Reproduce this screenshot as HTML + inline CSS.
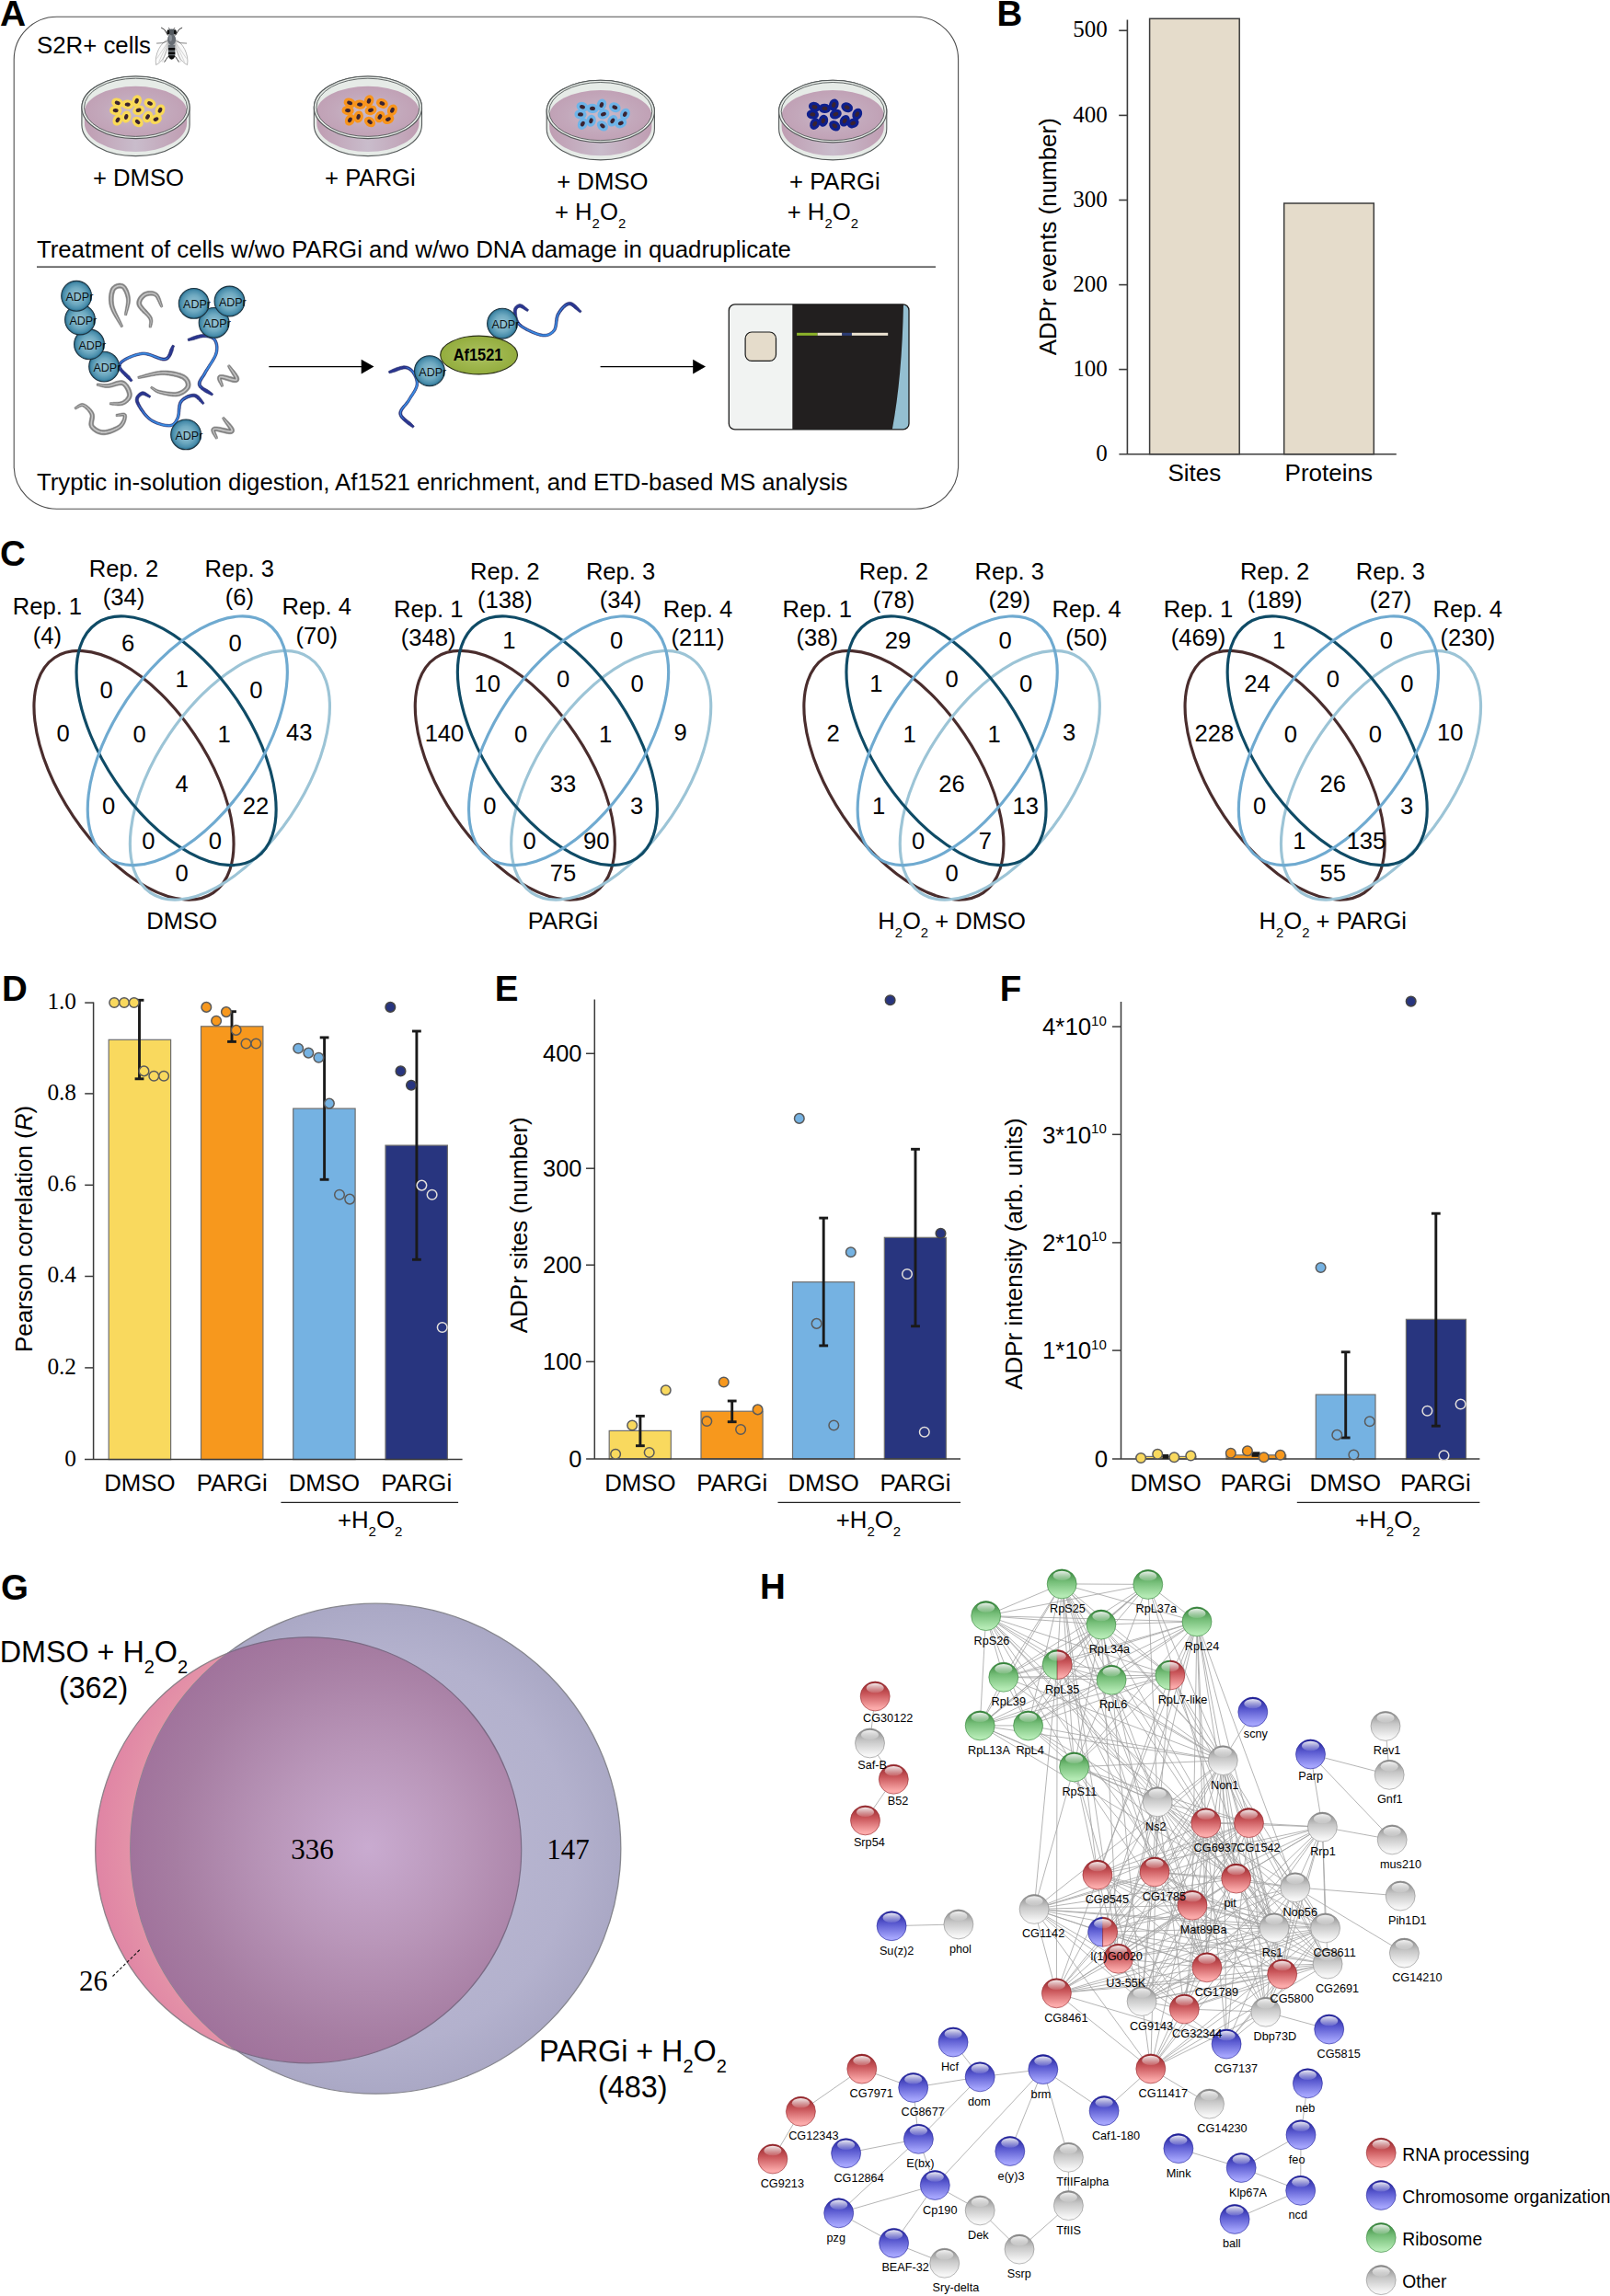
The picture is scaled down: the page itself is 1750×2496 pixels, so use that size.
<!DOCTYPE html>
<html><head><meta charset="utf-8"><title>Figure</title>
<style>
html,body{margin:0;padding:0;background:#fff}
svg{display:block}
text{font-family:'Liberation Sans', Arial, sans-serif;fill:#000}
text.sf{font-family:'Liberation Serif', 'Times New Roman', serif}
</style></head>
<body>
<svg width="1750" height="2496" viewBox="0 0 1750 2496">
<defs>
<radialGradient id="medTop" cx="0.5" cy="0.5" r="0.6"><stop offset="0" stop-color="#c9bccb"/><stop offset="0.55" stop-color="#c3a8bb"/><stop offset="1" stop-color="#bf9db2"/></radialGradient>
<linearGradient id="medSide" x1="0" x2="1" y1="0" y2="0"><stop offset="0" stop-color="#bf9db2"/><stop offset="0.5" stop-color="#c9bccb"/><stop offset="1" stop-color="#bf9db2"/></linearGradient>
<radialGradient id="adprG" cx="0.5" cy="0.5" r="0.5"><stop offset="0" stop-color="#97c3d4"/><stop offset="0.55" stop-color="#6faac1"/><stop offset="0.85" stop-color="#4a8eac"/><stop offset="1" stop-color="#246c8c"/></radialGradient>
<radialGradient id="afG" cx="0.5" cy="0.5" r="0.6"><stop offset="0" stop-color="#adc362"/><stop offset="1" stop-color="#8ea836"/></radialGradient>

<radialGradient id="gPink" gradientUnits="userSpaceOnUse" cx="408" cy="2008" r="310"><stop offset="0.55" stop-color="#e8a8ae"/><stop offset="0.85" stop-color="#e493a8"/><stop offset="1" stop-color="#df82a4"/></radialGradient>
<radialGradient id="gLav" gradientUnits="userSpaceOnUse" cx="408.3" cy="2009.7" r="266.5"><stop offset="0" stop-color="#bdbbd4"/><stop offset="0.8" stop-color="#b3b1cd"/><stop offset="1" stop-color="#aaa8c5"/></radialGradient>
<radialGradient id="gOv" gradientUnits="userSpaceOnUse" cx="400" cy="2008" r="300"><stop offset="0" stop-color="#c9abd0"/><stop offset="0.35" stop-color="#b996b9"/><stop offset="0.7" stop-color="#a67da2"/><stop offset="1" stop-color="#9c6b97"/></radialGradient>
<linearGradient id="nr" x1="0" y1="0" x2="0" y2="1"><stop offset="0" stop-color="#8f2227"/><stop offset="0.42" stop-color="#c9565a"/><stop offset="0.9" stop-color="#fbaaaa"/></linearGradient><linearGradient id="ng" x1="0" y1="0" x2="0" y2="1"><stop offset="0" stop-color="#2f7d34"/><stop offset="0.42" stop-color="#74bd77"/><stop offset="0.9" stop-color="#b4eab4"/></linearGradient><linearGradient id="nb" x1="0" y1="0" x2="0" y2="1"><stop offset="0" stop-color="#1d1d94"/><stop offset="0.42" stop-color="#5a5ad0"/><stop offset="0.9" stop-color="#a4a4fc"/></linearGradient><linearGradient id="nw" x1="0" y1="0" x2="0" y2="1"><stop offset="0" stop-color="#848484"/><stop offset="0.42" stop-color="#c6c6c6"/><stop offset="0.9" stop-color="#f6f6f6"/></linearGradient>
<linearGradient id="nhl" x1="0" y1="0" x2="0" y2="1"><stop offset="0" stop-color="#fff" stop-opacity="0.9"/><stop offset="1" stop-color="#fff" stop-opacity="0.12"/></linearGradient>
</defs>
<rect width="1750" height="2496" fill="#fff"/>
<text x="0.0" y="28.0" font-size="39" font-weight="bold">A</text>
<rect x="15.2" y="18.2" width="1026.4" height="535.0" fill="none" stroke="#4d4d4d" stroke-width="1.1" rx="46.5"/>
<text x="40.0" y="57.8" font-size="25.8">S2R+ cells</text>
<path d="M183.6,42.5 C174.6,45.5 167.6,59.5 169.6,70.5 C176.6,67.5 182.6,57.5 183.6,42.5 Z" fill="#fafafa" stroke="#777" stroke-width="0.5"/>
<path d="M189.6,42.5 C198.6,45.5 205.6,59.5 203.6,70.5 C196.6,67.5 190.6,57.5 189.6,42.5 Z" fill="#fafafa" stroke="#777" stroke-width="0.5"/>
<path d="M183.6,43.5 L172.6,67.5 M183.6,43.5 L176.6,67.5 M182.6,45.5 L170.6,63.5" stroke="#999" stroke-width="0.4" fill="none"/>
<path d="M189.6,43.5 L200.6,67.5 M189.6,43.5 L196.6,67.5 M190.6,45.5 L202.6,63.5" stroke="#999" stroke-width="0.4" fill="none"/>
<path d="M182.6,38.5 L178.6,32.0 L175.1,30.0" stroke="#222" stroke-width="0.9" fill="none"/>
<path d="M182.6,44.5 L177.1,46.7 L170.1,47.1" stroke="#333" stroke-width="0.6" fill="none"/>
<path d="M182.6,61.5 L180.6,64.5 L178.6,67.5" stroke="#222" stroke-width="0.9" fill="none"/>
<path d="M185.1,32.5 L183.1,30.0" stroke="#222" stroke-width="0.7" fill="none"/>
<path d="M190.6,38.5 L194.6,32.0 L198.1,30.0" stroke="#222" stroke-width="0.9" fill="none"/>
<path d="M190.6,44.5 L196.1,46.7 L203.1,47.1" stroke="#333" stroke-width="0.6" fill="none"/>
<path d="M190.6,61.5 L192.6,64.5 L194.6,67.5" stroke="#222" stroke-width="0.9" fill="none"/>
<path d="M188.1,32.5 L190.1,30.0" stroke="#222" stroke-width="0.7" fill="none"/>
<path d="M183.0,48.5 L190.2,48.5 L190.4,59.5 Q189.1,62.5 186.6,64.0 Q184.1,62.5 182.79999999999998,59.5 Z" fill="#6e747a"/>
<rect x="182.9" y="52.0" width="7.4" height="2.6" fill="#0a0a0a"/>
<rect x="182.9" y="56.5" width="7.4" height="2.6" fill="#0a0a0a"/>
<rect x="182.9" y="60.3" width="7.4" height="1.6" fill="#0a0a0a"/>
<path d="M182.9,61.5 Q186.6,68.0 190.29999999999998,61.5 Z" fill="#0a0a0a"/>
<ellipse cx="186.6" cy="43.0" rx="4.4" ry="6.2" fill="#666c73"/>
<ellipse cx="185.4" cy="41.5" rx="1.6" ry="3.4" fill="#9aa0a6" opacity="0.7"/>
<ellipse cx="186.6" cy="34.7" rx="4.8" ry="3.2" fill="#555b61"/>
<ellipse cx="182.79999999999998" cy="34.9" rx="1.5" ry="2.6" fill="#111"/>
<ellipse cx="190.4" cy="34.9" rx="1.5" ry="2.6" fill="#111"/>
<path d="M88.9,116.8 A58.6,33.8 0 0 1 206.1,116.8 L206.1,135.8 A58.6,33.8 0 0 1 88.9,135.8 Z" fill="#e6ebe7" stroke="#555a5a" stroke-width="1.1"/>
<path d="M91.9,121.3 L91.9,133.8 A55.6,31.2 0 0 0 203.1,133.8 L203.1,121.3 Z" fill="url(#medSide)"/>
<ellipse cx="147.5" cy="116.8" rx="58.6" ry="33.8" fill="#e6ebe7" stroke="#555a5a" stroke-width="1.1"/>
<clipPath id="dc1"><ellipse cx="147.5" cy="116.8" rx="56.0" ry="31.599999999999998"/></clipPath>
<ellipse cx="147.5" cy="121.4" rx="55.6" ry="27.6" fill="url(#medTop)" clip-path="url(#dc1)"/>
<ellipse cx="147.5" cy="116.8" rx="56.0" ry="31.599999999999998" fill="none" stroke="#555a5a" stroke-width="0.9"/>
<ellipse cx="127.7" cy="111.9" rx="6.6" ry="5.2" transform="rotate(20 127.7 111.9)" fill="#f9d957"/>
<ellipse cx="138.7" cy="113.6" rx="6.6" ry="5.2" transform="rotate(5 138.7 113.6)" fill="#f9d957"/>
<ellipse cx="148.6" cy="109.7" rx="6.6" ry="5.2" transform="rotate(-70 148.6 109.7)" fill="#f9d957"/>
<ellipse cx="163.0" cy="112.4" rx="6.6" ry="5.2" transform="rotate(25 163.0 112.4)" fill="#f9d957"/>
<ellipse cx="125.7" cy="120.1" rx="6.6" ry="5.2" transform="rotate(5 125.7 120.1)" fill="#f9d957"/>
<ellipse cx="150.6" cy="119.8" rx="6.6" ry="5.2" transform="rotate(-20 150.6 119.8)" fill="#f9d957"/>
<ellipse cx="174.0" cy="119.8" rx="6.6" ry="5.2" transform="rotate(-65 174.0 119.8)" fill="#f9d957"/>
<ellipse cx="137.2" cy="127.0" rx="6.6" ry="5.2" transform="rotate(-75 137.2 127.0)" fill="#f9d957"/>
<ellipse cx="160.5" cy="127.0" rx="6.6" ry="5.2" transform="rotate(-60 160.5 127.0)" fill="#f9d957"/>
<ellipse cx="169.5" cy="129.6" rx="6.6" ry="5.2" transform="rotate(-25 169.5 129.6)" fill="#f9d957"/>
<ellipse cx="128.0" cy="130.3" rx="6.6" ry="5.2" transform="rotate(-60 128.0 130.3)" fill="#f9d957"/>
<ellipse cx="149.6" cy="132.5" rx="6.6" ry="5.2" transform="rotate(40 149.6 132.5)" fill="#f9d957"/>
<ellipse cx="127.7" cy="111.9" rx="3.0" ry="2.1" transform="rotate(20 127.7 111.9)" fill="#3a2330"/>
<ellipse cx="138.7" cy="113.6" rx="3.0" ry="2.1" transform="rotate(5 138.7 113.6)" fill="#3a2330"/>
<ellipse cx="148.6" cy="109.7" rx="3.0" ry="2.1" transform="rotate(-70 148.6 109.7)" fill="#3a2330"/>
<ellipse cx="163.0" cy="112.4" rx="3.0" ry="2.1" transform="rotate(25 163.0 112.4)" fill="#3a2330"/>
<ellipse cx="125.7" cy="120.1" rx="3.0" ry="2.1" transform="rotate(5 125.7 120.1)" fill="#3a2330"/>
<ellipse cx="150.6" cy="119.8" rx="3.0" ry="2.1" transform="rotate(-20 150.6 119.8)" fill="#3a2330"/>
<ellipse cx="174.0" cy="119.8" rx="3.0" ry="2.1" transform="rotate(-65 174.0 119.8)" fill="#3a2330"/>
<ellipse cx="137.2" cy="127.0" rx="3.0" ry="2.1" transform="rotate(-75 137.2 127.0)" fill="#3a2330"/>
<ellipse cx="160.5" cy="127.0" rx="3.0" ry="2.1" transform="rotate(-60 160.5 127.0)" fill="#3a2330"/>
<ellipse cx="169.5" cy="129.6" rx="3.0" ry="2.1" transform="rotate(-25 169.5 129.6)" fill="#3a2330"/>
<ellipse cx="128.0" cy="130.3" rx="3.0" ry="2.1" transform="rotate(-60 128.0 130.3)" fill="#3a2330"/>
<ellipse cx="149.6" cy="132.5" rx="3.0" ry="2.1" transform="rotate(40 149.6 132.5)" fill="#3a2330"/>
<path d="M341.3,116.8 A58.6,33.8 0 0 1 458.5,116.8 L458.5,135.8 A58.6,33.8 0 0 1 341.3,135.8 Z" fill="#e6ebe7" stroke="#555a5a" stroke-width="1.1"/>
<path d="M344.3,121.3 L344.3,133.8 A55.6,31.2 0 0 0 455.5,133.8 L455.5,121.3 Z" fill="url(#medSide)"/>
<ellipse cx="399.9" cy="116.8" rx="58.6" ry="33.8" fill="#e6ebe7" stroke="#555a5a" stroke-width="1.1"/>
<clipPath id="dc2"><ellipse cx="399.9" cy="116.8" rx="56.0" ry="31.599999999999998"/></clipPath>
<ellipse cx="399.9" cy="121.4" rx="55.6" ry="27.6" fill="url(#medTop)" clip-path="url(#dc2)"/>
<ellipse cx="399.9" cy="116.8" rx="56.0" ry="31.599999999999998" fill="none" stroke="#555a5a" stroke-width="0.9"/>
<ellipse cx="380.1" cy="111.9" rx="6.6" ry="5.2" transform="rotate(20 380.1 111.9)" fill="#f7941d"/>
<ellipse cx="391.1" cy="113.6" rx="6.6" ry="5.2" transform="rotate(5 391.1 113.6)" fill="#f7941d"/>
<ellipse cx="401.0" cy="109.7" rx="6.6" ry="5.2" transform="rotate(-70 401.0 109.7)" fill="#f7941d"/>
<ellipse cx="415.4" cy="112.4" rx="6.6" ry="5.2" transform="rotate(25 415.4 112.4)" fill="#f7941d"/>
<ellipse cx="378.1" cy="120.1" rx="6.6" ry="5.2" transform="rotate(5 378.1 120.1)" fill="#f7941d"/>
<ellipse cx="403.0" cy="119.8" rx="6.6" ry="5.2" transform="rotate(-20 403.0 119.8)" fill="#f7941d"/>
<ellipse cx="426.4" cy="119.8" rx="6.6" ry="5.2" transform="rotate(-65 426.4 119.8)" fill="#f7941d"/>
<ellipse cx="389.6" cy="127.0" rx="6.6" ry="5.2" transform="rotate(-75 389.6 127.0)" fill="#f7941d"/>
<ellipse cx="412.9" cy="127.0" rx="6.6" ry="5.2" transform="rotate(-60 412.9 127.0)" fill="#f7941d"/>
<ellipse cx="421.9" cy="129.6" rx="6.6" ry="5.2" transform="rotate(-25 421.9 129.6)" fill="#f7941d"/>
<ellipse cx="380.4" cy="130.3" rx="6.6" ry="5.2" transform="rotate(-60 380.4 130.3)" fill="#f7941d"/>
<ellipse cx="402.0" cy="132.5" rx="6.6" ry="5.2" transform="rotate(40 402.0 132.5)" fill="#f7941d"/>
<ellipse cx="380.1" cy="111.9" rx="3.0" ry="2.1" transform="rotate(20 380.1 111.9)" fill="#3a2330"/>
<ellipse cx="391.1" cy="113.6" rx="3.0" ry="2.1" transform="rotate(5 391.1 113.6)" fill="#3a2330"/>
<ellipse cx="401.0" cy="109.7" rx="3.0" ry="2.1" transform="rotate(-70 401.0 109.7)" fill="#3a2330"/>
<ellipse cx="415.4" cy="112.4" rx="3.0" ry="2.1" transform="rotate(25 415.4 112.4)" fill="#3a2330"/>
<ellipse cx="378.1" cy="120.1" rx="3.0" ry="2.1" transform="rotate(5 378.1 120.1)" fill="#3a2330"/>
<ellipse cx="403.0" cy="119.8" rx="3.0" ry="2.1" transform="rotate(-20 403.0 119.8)" fill="#3a2330"/>
<ellipse cx="426.4" cy="119.8" rx="3.0" ry="2.1" transform="rotate(-65 426.4 119.8)" fill="#3a2330"/>
<ellipse cx="389.6" cy="127.0" rx="3.0" ry="2.1" transform="rotate(-75 389.6 127.0)" fill="#3a2330"/>
<ellipse cx="412.9" cy="127.0" rx="3.0" ry="2.1" transform="rotate(-60 412.9 127.0)" fill="#3a2330"/>
<ellipse cx="421.9" cy="129.6" rx="3.0" ry="2.1" transform="rotate(-25 421.9 129.6)" fill="#3a2330"/>
<ellipse cx="380.4" cy="130.3" rx="3.0" ry="2.1" transform="rotate(-60 380.4 130.3)" fill="#3a2330"/>
<ellipse cx="402.0" cy="132.5" rx="3.0" ry="2.1" transform="rotate(40 402.0 132.5)" fill="#3a2330"/>
<path d="M594.2,121.1 A58.6,33.8 0 0 1 711.4,121.1 L711.4,140.1 A58.6,33.8 0 0 1 594.2,140.1 Z" fill="#e6ebe7" stroke="#555a5a" stroke-width="1.1"/>
<path d="M597.2,125.6 L597.2,138.1 A55.6,31.2 0 0 0 708.4,138.1 L708.4,125.6 Z" fill="url(#medSide)"/>
<ellipse cx="652.8" cy="121.1" rx="58.6" ry="33.8" fill="#e6ebe7" stroke="#555a5a" stroke-width="1.1"/>
<clipPath id="dc3"><ellipse cx="652.8" cy="121.1" rx="56.0" ry="31.599999999999998"/></clipPath>
<ellipse cx="652.8" cy="125.7" rx="55.6" ry="27.6" fill="url(#medTop)" clip-path="url(#dc3)"/>
<ellipse cx="652.8" cy="121.1" rx="56.0" ry="31.599999999999998" fill="none" stroke="#555a5a" stroke-width="0.9"/>
<ellipse cx="633.0" cy="116.2" rx="6.6" ry="5.2" transform="rotate(20 633.0 116.2)" fill="#6eb4e8"/>
<ellipse cx="644.0" cy="117.9" rx="6.6" ry="5.2" transform="rotate(5 644.0 117.9)" fill="#6eb4e8"/>
<ellipse cx="653.9" cy="114.0" rx="6.6" ry="5.2" transform="rotate(-70 653.9 114.0)" fill="#6eb4e8"/>
<ellipse cx="668.3" cy="116.7" rx="6.6" ry="5.2" transform="rotate(25 668.3 116.7)" fill="#6eb4e8"/>
<ellipse cx="631.0" cy="124.4" rx="6.6" ry="5.2" transform="rotate(5 631.0 124.4)" fill="#6eb4e8"/>
<ellipse cx="655.9" cy="124.1" rx="6.6" ry="5.2" transform="rotate(-20 655.9 124.1)" fill="#6eb4e8"/>
<ellipse cx="679.3" cy="124.1" rx="6.6" ry="5.2" transform="rotate(-65 679.3 124.1)" fill="#6eb4e8"/>
<ellipse cx="642.5" cy="131.3" rx="6.6" ry="5.2" transform="rotate(-75 642.5 131.3)" fill="#6eb4e8"/>
<ellipse cx="665.8" cy="131.3" rx="6.6" ry="5.2" transform="rotate(-60 665.8 131.3)" fill="#6eb4e8"/>
<ellipse cx="674.8" cy="133.9" rx="6.6" ry="5.2" transform="rotate(-25 674.8 133.9)" fill="#6eb4e8"/>
<ellipse cx="633.3" cy="134.6" rx="6.6" ry="5.2" transform="rotate(-60 633.3 134.6)" fill="#6eb4e8"/>
<ellipse cx="654.9" cy="136.8" rx="6.6" ry="5.2" transform="rotate(40 654.9 136.8)" fill="#6eb4e8"/>
<ellipse cx="633.0" cy="116.2" rx="3.0" ry="2.1" transform="rotate(20 633.0 116.2)" fill="#3a2330"/>
<ellipse cx="644.0" cy="117.9" rx="3.0" ry="2.1" transform="rotate(5 644.0 117.9)" fill="#3a2330"/>
<ellipse cx="653.9" cy="114.0" rx="3.0" ry="2.1" transform="rotate(-70 653.9 114.0)" fill="#3a2330"/>
<ellipse cx="668.3" cy="116.7" rx="3.0" ry="2.1" transform="rotate(25 668.3 116.7)" fill="#3a2330"/>
<ellipse cx="631.0" cy="124.4" rx="3.0" ry="2.1" transform="rotate(5 631.0 124.4)" fill="#3a2330"/>
<ellipse cx="655.9" cy="124.1" rx="3.0" ry="2.1" transform="rotate(-20 655.9 124.1)" fill="#3a2330"/>
<ellipse cx="679.3" cy="124.1" rx="3.0" ry="2.1" transform="rotate(-65 679.3 124.1)" fill="#3a2330"/>
<ellipse cx="642.5" cy="131.3" rx="3.0" ry="2.1" transform="rotate(-75 642.5 131.3)" fill="#3a2330"/>
<ellipse cx="665.8" cy="131.3" rx="3.0" ry="2.1" transform="rotate(-60 665.8 131.3)" fill="#3a2330"/>
<ellipse cx="674.8" cy="133.9" rx="3.0" ry="2.1" transform="rotate(-25 674.8 133.9)" fill="#3a2330"/>
<ellipse cx="633.3" cy="134.6" rx="3.0" ry="2.1" transform="rotate(-60 633.3 134.6)" fill="#3a2330"/>
<ellipse cx="654.9" cy="136.8" rx="3.0" ry="2.1" transform="rotate(40 654.9 136.8)" fill="#3a2330"/>
<path d="M846.6,121.1 A58.6,33.8 0 0 1 963.8,121.1 L963.8,140.1 A58.6,33.8 0 0 1 846.6,140.1 Z" fill="#e6ebe7" stroke="#555a5a" stroke-width="1.1"/>
<path d="M849.6,125.6 L849.6,138.1 A55.6,31.2 0 0 0 960.8,138.1 L960.8,125.6 Z" fill="url(#medSide)"/>
<ellipse cx="905.2" cy="121.1" rx="58.6" ry="33.8" fill="#e6ebe7" stroke="#555a5a" stroke-width="1.1"/>
<clipPath id="dc4"><ellipse cx="905.2" cy="121.1" rx="56.0" ry="31.599999999999998"/></clipPath>
<ellipse cx="905.2" cy="125.7" rx="55.6" ry="27.6" fill="url(#medTop)" clip-path="url(#dc4)"/>
<ellipse cx="905.2" cy="121.1" rx="56.0" ry="31.599999999999998" fill="none" stroke="#555a5a" stroke-width="0.9"/>
<ellipse cx="885.4" cy="116.2" rx="6.6" ry="5.2" transform="rotate(20 885.4 116.2)" fill="#0e1f8c"/>
<ellipse cx="896.4" cy="117.9" rx="6.6" ry="5.2" transform="rotate(5 896.4 117.9)" fill="#0e1f8c"/>
<ellipse cx="906.3" cy="114.0" rx="6.6" ry="5.2" transform="rotate(-70 906.3 114.0)" fill="#0e1f8c"/>
<ellipse cx="920.7" cy="116.7" rx="6.6" ry="5.2" transform="rotate(25 920.7 116.7)" fill="#0e1f8c"/>
<ellipse cx="883.4" cy="124.4" rx="6.6" ry="5.2" transform="rotate(5 883.4 124.4)" fill="#0e1f8c"/>
<ellipse cx="908.3" cy="124.1" rx="6.6" ry="5.2" transform="rotate(-20 908.3 124.1)" fill="#0e1f8c"/>
<ellipse cx="931.7" cy="124.1" rx="6.6" ry="5.2" transform="rotate(-65 931.7 124.1)" fill="#0e1f8c"/>
<ellipse cx="894.9" cy="131.3" rx="6.6" ry="5.2" transform="rotate(-75 894.9 131.3)" fill="#0e1f8c"/>
<ellipse cx="918.2" cy="131.3" rx="6.6" ry="5.2" transform="rotate(-60 918.2 131.3)" fill="#0e1f8c"/>
<ellipse cx="927.2" cy="133.9" rx="6.6" ry="5.2" transform="rotate(-25 927.2 133.9)" fill="#0e1f8c"/>
<ellipse cx="885.7" cy="134.6" rx="6.6" ry="5.2" transform="rotate(-60 885.7 134.6)" fill="#0e1f8c"/>
<ellipse cx="907.3" cy="136.8" rx="6.6" ry="5.2" transform="rotate(40 907.3 136.8)" fill="#0e1f8c"/>
<ellipse cx="885.4" cy="116.2" rx="3.0" ry="2.1" transform="rotate(20 885.4 116.2)" fill="#3a2330"/>
<ellipse cx="896.4" cy="117.9" rx="3.0" ry="2.1" transform="rotate(5 896.4 117.9)" fill="#3a2330"/>
<ellipse cx="906.3" cy="114.0" rx="3.0" ry="2.1" transform="rotate(-70 906.3 114.0)" fill="#3a2330"/>
<ellipse cx="920.7" cy="116.7" rx="3.0" ry="2.1" transform="rotate(25 920.7 116.7)" fill="#3a2330"/>
<ellipse cx="883.4" cy="124.4" rx="3.0" ry="2.1" transform="rotate(5 883.4 124.4)" fill="#3a2330"/>
<ellipse cx="908.3" cy="124.1" rx="3.0" ry="2.1" transform="rotate(-20 908.3 124.1)" fill="#3a2330"/>
<ellipse cx="931.7" cy="124.1" rx="3.0" ry="2.1" transform="rotate(-65 931.7 124.1)" fill="#3a2330"/>
<ellipse cx="894.9" cy="131.3" rx="3.0" ry="2.1" transform="rotate(-75 894.9 131.3)" fill="#3a2330"/>
<ellipse cx="918.2" cy="131.3" rx="3.0" ry="2.1" transform="rotate(-60 918.2 131.3)" fill="#3a2330"/>
<ellipse cx="927.2" cy="133.9" rx="3.0" ry="2.1" transform="rotate(-25 927.2 133.9)" fill="#3a2330"/>
<ellipse cx="885.7" cy="134.6" rx="3.0" ry="2.1" transform="rotate(-60 885.7 134.6)" fill="#3a2330"/>
<ellipse cx="907.3" cy="136.8" rx="3.0" ry="2.1" transform="rotate(40 907.3 136.8)" fill="#3a2330"/>
<text x="100.9" y="201.5" font-size="25.7">+ DMSO</text>
<text x="353.0" y="201.5" font-size="25.7">+ PARGi</text>
<text x="605.2" y="206.2" font-size="25.7">+ DMSO</text>
<text x="858.0" y="206.2" font-size="25.7">+ PARGi</text>
<text x="602.9" y="238.5" font-size="25.7">+ H<tspan font-size="14.9" dy="9.3">2</tspan><tspan dy="-9.3">O</tspan><tspan font-size="14.9" dy="9.3">2</tspan></text>
<text x="855.7" y="238.5" font-size="25.7">+ H<tspan font-size="14.9" dy="9.3">2</tspan><tspan dy="-9.3">O</tspan><tspan font-size="14.9" dy="9.3">2</tspan></text>
<text x="39.9" y="280.1" font-size="25.7" textLength="820.0" lengthAdjust="spacingAndGlyphs">Treatment of cells w/wo PARGi and w/wo DNA damage in quadruplicate</text>
<line x1="40.0" y1="290.1" x2="1017.0" y2="290.1" stroke="#222" stroke-width="1.2"/>
<text x="39.9" y="532.9" font-size="25.7" textLength="881.5" lengthAdjust="spacingAndGlyphs">Tryptic in-solution digestion, Af1521 enrichment, and ETD-based MS analysis</text>
<line x1="292.3" y1="398.6" x2="396.5" y2="398.6" stroke="#000" stroke-width="1.3"/>
<path d="M406.5,398.6 L392.7,390.7 L392.7,406.5 Z" fill="#000"/>
<line x1="652.6" y1="398.6" x2="757.0" y2="398.6" stroke="#000" stroke-width="1.3"/>
<path d="M767.0,398.6 L753.2,390.7 L753.2,406.5 Z" fill="#000"/>
<path d="M133.7,354.9 L133.1,353.1 L132.3,351.4 L131.5,349.6 L130.6,347.8 L129.8,346.1 L128.9,344.3 L128.1,342.6 L127.3,340.9 L126.5,339.2 L125.8,337.6 L125.2,336.0 L124.7,334.5 L124.2,333.1 L123.9,331.7 L123.7,330.4 L123.5,329.0 L123.4,327.7 L123.3,326.3 L123.3,324.9 L123.4,323.6 L123.5,322.3 L123.6,321.1 L123.8,320.0 L124.1,318.9 L124.4,317.9 L124.6,317.0 L125.0,316.3 L125.2,315.7 L125.5,315.3 L125.9,314.9 L126.3,314.5 L126.8,314.2 L127.4,313.9 L128.0,313.6 L128.6,313.4 L129.3,313.3 L129.9,313.2 L130.5,313.2 L131.1,313.2 L131.5,313.3 L131.9,313.4 L132.2,313.5 L132.4,313.7 L132.8,314.1 L133.2,314.6 L133.7,315.2 L134.2,316.0 L134.6,316.8 L135.1,317.7 L135.5,318.7 L135.9,319.7 L136.3,320.8 L136.6,321.9 L136.9,322.9 L137.1,324.0 L137.3,325.0 L137.4,326.0 L137.4,327.0 L137.4,328.1 L137.3,329.3 L137.1,330.5 L137.0,331.8 L136.8,333.1 L136.5,334.4 L136.3,335.7 L136.1,337.1 L135.8,338.5 L135.6,339.8 L135.5,341.2 L135.4,342.5 L137.6,342.9 L138.0,341.6 L138.3,340.4 L138.7,339.1 L139.1,337.8 L139.5,336.5 L139.9,335.2 L140.2,333.8 L140.6,332.5 L140.9,331.2 L141.2,329.9 L141.4,328.5 L141.5,327.2 L141.6,325.9 L141.5,324.6 L141.4,323.3 L141.2,322.1 L141.0,320.8 L140.7,319.5 L140.3,318.3 L139.9,317.0 L139.5,315.8 L139.0,314.7 L138.4,313.6 L137.8,312.6 L137.2,311.6 L136.5,310.7 L135.7,310.0 L134.8,309.3 L133.8,308.7 L132.8,308.4 L131.7,308.2 L130.6,308.1 L129.5,308.1 L128.4,308.2 L127.3,308.4 L126.2,308.8 L125.2,309.2 L124.1,309.8 L123.2,310.4 L122.3,311.2 L121.4,312.1 L120.8,313.1 L120.2,314.1 L119.8,315.2 L119.4,316.4 L119.1,317.7 L118.8,319.0 L118.6,320.4 L118.4,321.9 L118.3,323.4 L118.3,324.9 L118.3,326.5 L118.5,328.1 L118.6,329.7 L118.9,331.3 L119.3,332.9 L119.8,334.5 L120.4,336.1 L121.1,337.8 L121.9,339.4 L122.7,341.1 L123.7,342.8 L124.6,344.4 L125.6,346.1 L126.7,347.8 L127.7,349.5 L128.7,351.1 L129.7,352.7 L130.7,354.3 L131.7,355.9 Z" fill="#858585" stroke="#707070" stroke-width="0.5" stroke-linejoin="round"/><path d="M132.8,355.3 L132.1,353.6 L131.3,351.9 L130.4,350.2 L129.6,348.4 L128.7,346.7 L127.8,345.0 L126.9,343.3 L126.0,341.6 L125.2,339.9 L124.5,338.2 L123.8,336.6 L123.2,335.1 L122.7,333.6 L122.4,332.1 L122.1,330.7 L121.9,329.2 L121.7,327.8 L121.7,326.3 L121.7,324.9 L121.7,323.5 L121.8,322.2 L122.0,320.9 L122.2,319.6 L122.4,318.5 L122.7,317.4 L123.1,316.4 L123.4,315.6 L123.8,314.9 L124.2,314.2 L124.7,313.7 L125.3,313.2 L125.9,312.7 L126.6,312.4 L127.4,312.1 L128.2,311.8 L129.0,311.6 L129.8,311.5 L130.5,311.5 L131.3,311.6 L131.9,311.7 L132.5,311.9 L133.0,312.1 L133.5,312.5 L134.0,313.0 L134.6,313.6 L135.1,314.3 L135.6,315.2 L136.1,316.1 L136.6,317.1 L137.0,318.2 L137.4,319.3 L137.8,320.4 L138.1,321.5 L138.4,322.6 L138.6,323.8 L138.7,324.9 L138.8,326.0 L138.8,327.1 L138.8,328.3 L138.6,329.5 L138.5,330.8 L138.3,332.1 L138.0,333.4 L137.8,334.7 L137.5,336.0 L137.2,337.4 L136.9,338.7 L136.7,340.0 L136.5,341.4 L136.4,342.7 L136.6,342.7 L137.0,341.5 L137.3,340.2 L137.6,338.9 L138.0,337.5 L138.3,336.2 L138.7,334.9 L139.0,333.6 L139.3,332.3 L139.6,331.0 L139.8,329.7 L140.0,328.4 L140.1,327.1 L140.1,325.9 L140.1,324.7 L139.9,323.6 L139.8,322.4 L139.5,321.2 L139.2,320.0 L138.9,318.8 L138.5,317.6 L138.0,316.5 L137.5,315.4 L137.0,314.4 L136.5,313.5 L135.9,312.6 L135.3,311.8 L134.6,311.2 L134.0,310.7 L133.2,310.3 L132.4,310.0 L131.5,309.8 L130.6,309.8 L129.7,309.8 L128.7,309.9 L127.7,310.1 L126.8,310.4 L125.9,310.7 L125.0,311.2 L124.2,311.8 L123.4,312.4 L122.8,313.1 L122.2,313.9 L121.8,314.8 L121.4,315.8 L121.0,316.9 L120.7,318.1 L120.4,319.3 L120.2,320.6 L120.1,322.0 L120.0,323.4 L119.9,324.9 L120.0,326.4 L120.1,327.9 L120.3,329.4 L120.5,331.0 L120.8,332.5 L121.3,334.0 L121.8,335.6 L122.5,337.2 L123.2,338.8 L124.1,340.5 L124.9,342.1 L125.9,343.8 L126.8,345.5 L127.8,347.2 L128.8,348.9 L129.8,350.5 L130.7,352.2 L131.6,353.9 L132.6,355.5 Z" fill="#c4c4c4"/>
<path d="M177.0,333.3 L176.7,332.3 L176.4,331.2 L176.1,330.1 L175.7,329.0 L175.4,327.8 L175.0,326.7 L174.7,325.5 L174.3,324.4 L173.8,323.3 L173.4,322.2 L172.8,321.2 L172.2,320.2 L171.5,319.3 L170.6,318.5 L169.6,317.9 L168.6,317.4 L167.6,317.0 L166.5,316.7 L165.4,316.5 L164.3,316.4 L163.2,316.4 L162.1,316.4 L161.0,316.5 L159.9,316.7 L158.9,317.0 L157.9,317.3 L156.9,317.7 L156.0,318.1 L155.2,318.6 L154.4,319.2 L153.6,319.9 L152.8,320.6 L152.1,321.4 L151.3,322.3 L150.7,323.2 L150.1,324.2 L149.6,325.3 L149.1,326.4 L148.8,327.6 L148.7,328.8 L148.7,330.1 L148.9,331.4 L149.4,332.8 L150.1,334.1 L151.0,335.3 L151.9,336.5 L153.0,337.6 L154.1,338.8 L155.3,339.9 L156.4,341.0 L157.6,342.1 L158.6,343.1 L159.6,344.1 L160.4,345.0 L161.1,345.9 L161.5,346.6 L161.9,347.2 L162.1,347.9 L162.3,348.5 L162.4,349.1 L162.5,349.7 L162.5,350.3 L162.4,350.9 L162.4,351.6 L162.3,352.3 L162.2,353.0 L162.1,353.7 L162.1,354.5 L162.1,355.3 L162.2,356.1 L164.4,356.1 L164.6,355.5 L164.7,354.8 L164.9,354.2 L165.1,353.5 L165.3,352.9 L165.5,352.2 L165.6,351.4 L165.8,350.6 L165.9,349.8 L165.9,348.9 L165.9,347.9 L165.7,347.0 L165.5,345.9 L165.1,344.8 L164.5,343.7 L163.7,342.5 L162.8,341.3 L161.9,340.2 L160.8,339.0 L159.8,337.8 L158.7,336.6 L157.6,335.4 L156.6,334.3 L155.8,333.3 L155.0,332.3 L154.4,331.4 L154.1,330.7 L153.9,330.2 L153.8,329.7 L153.8,329.1 L153.9,328.6 L154.1,328.0 L154.3,327.3 L154.6,326.7 L155.0,326.0 L155.5,325.4 L156.0,324.8 L156.5,324.2 L157.0,323.7 L157.6,323.2 L158.1,322.8 L158.6,322.5 L159.0,322.2 L159.6,322.0 L160.3,321.8 L161.0,321.6 L161.7,321.4 L162.5,321.3 L163.3,321.2 L164.1,321.2 L164.9,321.2 L165.6,321.3 L166.3,321.4 L167.0,321.6 L167.5,321.8 L168.0,322.1 L168.4,322.4 L168.9,322.8 L169.4,323.4 L169.8,324.1 L170.3,325.0 L170.8,325.9 L171.3,326.9 L171.8,327.9 L172.3,329.0 L172.7,330.1 L173.3,331.2 L173.8,332.3 L174.4,333.3 L175.0,334.3 Z" fill="#858585" stroke="#707070" stroke-width="0.5" stroke-linejoin="round"/><path d="M176.1,333.7 L175.8,332.7 L175.4,331.6 L175.0,330.5 L174.6,329.4 L174.2,328.3 L173.9,327.1 L173.5,326.0 L173.0,324.9 L172.6,323.9 L172.1,322.9 L171.6,322.0 L171.0,321.1 L170.4,320.4 L169.7,319.7 L168.9,319.2 L168.1,318.8 L167.2,318.5 L166.2,318.3 L165.2,318.1 L164.2,318.0 L163.2,318.0 L162.2,318.0 L161.2,318.2 L160.3,318.3 L159.3,318.5 L158.4,318.8 L157.6,319.2 L156.9,319.5 L156.2,320.0 L155.4,320.5 L154.7,321.1 L154.0,321.8 L153.3,322.5 L152.7,323.3 L152.1,324.1 L151.6,325.0 L151.1,325.9 L150.8,326.9 L150.5,327.9 L150.4,328.9 L150.4,330.0 L150.5,331.0 L150.9,332.1 L151.5,333.2 L152.3,334.3 L153.2,335.4 L154.2,336.5 L155.3,337.7 L156.4,338.8 L157.6,339.9 L158.7,341.0 L159.7,342.1 L160.7,343.2 L161.6,344.2 L162.3,345.1 L162.8,346.0 L163.1,346.8 L163.4,347.6 L163.6,348.3 L163.7,349.0 L163.7,349.7 L163.7,350.4 L163.6,351.1 L163.5,351.8 L163.4,352.5 L163.3,353.2 L163.2,353.9 L163.1,354.6 L163.1,355.4 L163.2,356.1 L163.4,356.1 L163.5,355.4 L163.7,354.7 L163.8,354.0 L164.0,353.3 L164.1,352.6 L164.3,351.9 L164.4,351.2 L164.6,350.5 L164.6,349.8 L164.7,349.0 L164.6,348.1 L164.4,347.3 L164.2,346.4 L163.8,345.4 L163.3,344.4 L162.6,343.4 L161.7,342.3 L160.8,341.2 L159.7,340.0 L158.6,338.9 L157.5,337.7 L156.5,336.6 L155.4,335.4 L154.5,334.3 L153.7,333.3 L153.0,332.3 L152.5,331.4 L152.3,330.6 L152.1,329.8 L152.1,329.0 L152.3,328.2 L152.5,327.4 L152.8,326.7 L153.2,325.9 L153.6,325.1 L154.1,324.4 L154.7,323.7 L155.3,323.0 L155.9,322.4 L156.5,321.9 L157.1,321.4 L157.7,321.1 L158.3,320.7 L159.0,320.4 L159.8,320.2 L160.6,320.0 L161.5,319.8 L162.4,319.7 L163.3,319.6 L164.2,319.6 L165.1,319.6 L165.9,319.8 L166.8,319.9 L167.5,320.2 L168.3,320.5 L168.9,320.9 L169.5,321.3 L170.0,321.9 L170.6,322.6 L171.1,323.5 L171.6,324.4 L172.0,325.4 L172.5,326.4 L173.0,327.5 L173.4,328.6 L173.9,329.7 L174.3,330.8 L174.8,331.9 L175.3,332.9 L175.9,333.9 Z" fill="#c4c4c4"/>
<path d="M150.1,411.6 L152.1,411.4 L154.1,411.1 L156.1,410.7 L158.1,410.3 L160.1,409.9 L162.0,409.5 L164.0,409.1 L165.9,408.8 L167.9,408.4 L169.7,408.1 L171.6,407.9 L173.3,407.7 L175.1,407.6 L176.7,407.6 L178.4,407.6 L180.1,407.7 L181.9,407.9 L183.6,408.1 L185.4,408.4 L187.1,408.7 L188.7,409.0 L190.3,409.4 L191.9,409.8 L193.3,410.3 L194.7,410.7 L195.9,411.2 L197.0,411.6 L197.9,412.1 L198.6,412.5 L199.2,413.0 L199.8,413.5 L200.3,414.1 L200.8,414.6 L201.1,415.2 L201.4,415.8 L201.7,416.4 L201.8,417.0 L202.0,417.6 L202.0,418.1 L202.0,418.6 L201.9,419.0 L201.9,419.4 L201.7,419.8 L201.5,420.2 L201.1,420.7 L200.7,421.3 L200.1,421.9 L199.5,422.5 L198.7,423.1 L198.0,423.7 L197.1,424.2 L196.3,424.7 L195.4,425.1 L194.5,425.5 L193.6,425.8 L192.7,426.1 L191.7,426.2 L190.6,426.4 L189.3,426.4 L188.0,426.4 L186.6,426.3 L185.1,426.2 L183.6,426.0 L182.1,425.9 L180.6,425.7 L179.2,425.4 L177.8,425.2 L176.4,424.9 L175.2,424.7 L174.2,424.5 L173.2,424.3 L172.4,424.0 L171.6,423.8 L170.9,423.5 L170.3,423.2 L169.7,422.9 L169.1,422.5 L168.5,422.2 L167.9,421.8 L167.3,421.5 L166.6,421.1 L166.0,420.7 L165.3,420.3 L164.5,420.0 L163.5,422.0 L164.1,422.4 L164.6,422.8 L165.2,423.3 L165.7,423.7 L166.3,424.1 L166.8,424.6 L167.4,425.0 L168.1,425.5 L168.8,425.9 L169.5,426.4 L170.3,426.8 L171.2,427.2 L172.2,427.6 L173.2,427.9 L174.4,428.2 L175.6,428.6 L177.0,428.9 L178.4,429.3 L179.9,429.6 L181.4,429.9 L183.0,430.2 L184.6,430.5 L186.2,430.7 L187.7,430.9 L189.3,430.9 L190.8,431.0 L192.2,430.9 L193.5,430.7 L194.8,430.4 L196.1,430.1 L197.3,429.6 L198.5,429.1 L199.6,428.5 L200.7,427.8 L201.7,427.1 L202.7,426.3 L203.6,425.5 L204.4,424.7 L205.1,423.8 L205.8,422.9 L206.3,422.0 L206.7,421.0 L207.0,420.0 L207.1,419.0 L207.2,417.9 L207.1,416.9 L206.9,415.8 L206.6,414.8 L206.2,413.7 L205.7,412.7 L205.0,411.7 L204.3,410.7 L203.5,409.8 L202.5,409.0 L201.5,408.2 L200.3,407.5 L199.1,406.9 L197.8,406.4 L196.4,405.8 L194.8,405.4 L193.2,404.9 L191.5,404.5 L189.8,404.1 L187.9,403.8 L186.1,403.5 L184.2,403.3 L182.3,403.1 L180.4,403.0 L178.5,403.0 L176.7,403.0 L174.8,403.1 L172.9,403.4 L170.9,403.7 L169.0,404.0 L167.1,404.5 L165.1,404.9 L163.1,405.5 L161.2,406.0 L159.2,406.6 L157.3,407.1 L155.4,407.7 L153.4,408.3 L151.6,408.8 L149.7,409.4 Z" fill="#858585" stroke="#707070" stroke-width="0.5" stroke-linejoin="round"/><path d="M149.9,410.6 L151.9,410.4 L153.8,410.0 L155.8,409.6 L157.8,409.1 L159.8,408.7 L161.7,408.3 L163.7,407.8 L165.6,407.4 L167.6,407.0 L169.5,406.7 L171.3,406.4 L173.2,406.2 L175.0,406.1 L176.7,406.0 L178.5,406.1 L180.2,406.2 L182.0,406.3 L183.8,406.5 L185.6,406.8 L187.4,407.1 L189.1,407.4 L190.7,407.8 L192.3,408.2 L193.8,408.6 L195.2,409.1 L196.5,409.6 L197.7,410.1 L198.7,410.6 L199.5,411.1 L200.3,411.7 L201.0,412.3 L201.6,413.0 L202.2,413.7 L202.6,414.4 L203.0,415.1 L203.3,415.9 L203.5,416.6 L203.6,417.3 L203.7,418.0 L203.7,418.7 L203.6,419.3 L203.5,419.9 L203.2,420.5 L202.9,421.1 L202.4,421.8 L201.9,422.4 L201.2,423.1 L200.5,423.8 L199.7,424.4 L198.9,425.0 L198.0,425.6 L197.0,426.1 L196.0,426.6 L195.0,427.0 L194.0,427.4 L193.0,427.6 L191.9,427.8 L190.6,427.9 L189.3,427.9 L187.9,427.9 L186.4,427.8 L184.9,427.7 L183.4,427.5 L181.9,427.3 L180.4,427.0 L178.9,426.8 L177.5,426.5 L176.2,426.2 L174.9,426.0 L173.8,425.7 L172.8,425.5 L172.0,425.2 L171.1,424.9 L170.4,424.6 L169.7,424.2 L169.1,423.9 L168.4,423.5 L167.8,423.1 L167.2,422.7 L166.7,422.3 L166.0,422.0 L165.4,421.6 L164.8,421.2 L164.1,420.9 L163.9,421.1 L164.6,421.6 L165.2,422.0 L165.8,422.4 L166.3,422.8 L166.9,423.2 L167.5,423.7 L168.1,424.1 L168.7,424.5 L169.3,424.9 L170.0,425.3 L170.8,425.7 L171.7,426.0 L172.6,426.4 L173.6,426.7 L174.7,427.0 L175.9,427.3 L177.2,427.6 L178.7,427.9 L180.1,428.2 L181.7,428.5 L183.2,428.8 L184.8,429.0 L186.3,429.2 L187.8,429.3 L189.3,429.4 L190.7,429.4 L192.0,429.3 L193.2,429.2 L194.4,428.9 L195.5,428.5 L196.7,428.1 L197.7,427.6 L198.8,427.0 L199.8,426.4 L200.7,425.8 L201.6,425.1 L202.4,424.3 L203.2,423.6 L203.8,422.8 L204.4,422.0 L204.8,421.3 L205.1,420.5 L205.3,419.7 L205.5,418.8 L205.5,418.0 L205.4,417.1 L205.2,416.2 L205.0,415.3 L204.6,414.4 L204.2,413.5 L203.6,412.7 L203.0,411.8 L202.3,411.0 L201.5,410.3 L200.5,409.6 L199.5,409.0 L198.4,408.5 L197.2,407.9 L195.8,407.4 L194.3,407.0 L192.8,406.5 L191.1,406.1 L189.4,405.7 L187.7,405.4 L185.9,405.1 L184.0,404.9 L182.2,404.7 L180.3,404.6 L178.5,404.5 L176.7,404.6 L174.9,404.7 L173.0,404.8 L171.2,405.1 L169.3,405.4 L167.3,405.8 L165.4,406.3 L163.5,406.8 L161.5,407.3 L159.5,407.8 L157.6,408.3 L155.6,408.9 L153.7,409.4 L151.8,409.9 L149.9,410.4 Z" fill="#c4c4c4"/>
<path d="M105.0,419.1 L105.9,419.4 L106.6,419.6 L107.4,419.8 L108.2,420.0 L109.0,420.2 L109.8,420.5 L110.6,420.7 L111.4,420.9 L112.3,421.1 L113.2,421.2 L114.1,421.4 L115.1,421.5 L116.1,421.5 L117.2,421.5 L118.5,421.5 L119.7,421.3 L121.1,421.0 L122.4,420.7 L123.7,420.3 L125.0,419.9 L126.3,419.6 L127.5,419.3 L128.7,419.0 L129.8,418.8 L130.7,418.7 L131.5,418.7 L132.1,418.7 L132.6,418.9 L133.0,419.1 L133.5,419.5 L134.1,420.1 L134.7,420.7 L135.3,421.5 L135.9,422.4 L136.4,423.3 L136.9,424.3 L137.3,425.3 L137.7,426.2 L138.0,427.1 L138.2,428.0 L138.3,428.7 L138.4,429.2 L138.4,429.6 L138.3,430.1 L138.1,430.6 L137.9,431.1 L137.6,431.7 L137.2,432.2 L136.8,432.8 L136.3,433.4 L135.7,433.9 L135.1,434.5 L134.5,434.9 L133.9,435.4 L133.3,435.8 L132.6,436.1 L132.0,436.4 L131.4,436.6 L130.6,436.8 L129.8,437.0 L128.8,437.1 L127.9,437.2 L126.8,437.2 L125.8,437.3 L124.7,437.3 L123.6,437.3 L122.5,437.4 L121.4,437.5 L120.3,437.6 L119.3,437.8 L119.3,440.0 L120.4,440.1 L121.4,440.2 L122.4,440.4 L123.5,440.5 L124.6,440.6 L125.7,440.7 L126.8,440.8 L127.9,440.9 L129.0,440.9 L130.1,440.9 L131.2,440.8 L132.3,440.7 L133.3,440.4 L134.4,440.1 L135.3,439.7 L136.2,439.2 L137.1,438.7 L137.9,438.1 L138.8,437.4 L139.6,436.7 L140.3,436.0 L141.0,435.2 L141.7,434.3 L142.2,433.4 L142.7,432.4 L143.1,431.4 L143.3,430.3 L143.4,429.2 L143.4,428.1 L143.2,426.9 L142.9,425.8 L142.6,424.6 L142.1,423.3 L141.6,422.1 L141.0,420.9 L140.3,419.7 L139.5,418.5 L138.7,417.4 L137.8,416.4 L136.8,415.5 L135.7,414.7 L134.4,414.1 L133.1,413.7 L131.7,413.6 L130.3,413.7 L128.9,413.9 L127.6,414.2 L126.2,414.6 L124.9,415.0 L123.6,415.5 L122.3,415.9 L121.1,416.4 L119.9,416.8 L118.8,417.1 L117.8,417.3 L117.0,417.5 L116.1,417.5 L115.2,417.6 L114.4,417.6 L113.6,417.6 L112.8,417.5 L112.0,417.5 L111.2,417.4 L110.4,417.3 L109.6,417.2 L108.8,417.1 L107.9,417.0 L107.1,416.9 L106.2,416.9 L105.4,416.9 Z" fill="#858585" stroke="#707070" stroke-width="0.5" stroke-linejoin="round"/><path d="M105.2,418.1 L106.0,418.3 L106.8,418.5 L107.6,418.7 L108.4,418.9 L109.2,419.1 L110.0,419.3 L110.8,419.5 L111.6,419.6 L112.5,419.8 L113.3,419.9 L114.2,420.0 L115.1,420.1 L116.1,420.1 L117.1,420.1 L118.3,420.0 L119.4,419.8 L120.7,419.5 L121.9,419.2 L123.2,418.8 L124.5,418.4 L125.8,418.1 L127.1,417.7 L128.3,417.4 L129.5,417.2 L130.6,417.0 L131.6,417.0 L132.4,417.1 L133.2,417.3 L133.9,417.7 L134.6,418.2 L135.3,418.9 L136.0,419.7 L136.7,420.6 L137.3,421.5 L137.9,422.5 L138.4,423.6 L138.9,424.6 L139.3,425.7 L139.6,426.7 L139.8,427.6 L140.0,428.5 L140.0,429.2 L140.0,429.9 L139.9,430.5 L139.6,431.2 L139.3,431.9 L138.9,432.5 L138.5,433.2 L138.0,433.9 L137.4,434.5 L136.8,435.1 L136.1,435.7 L135.4,436.2 L134.7,436.7 L134.0,437.1 L133.2,437.5 L132.5,437.8 L131.7,438.0 L130.8,438.2 L129.9,438.3 L128.9,438.4 L127.9,438.5 L126.8,438.5 L125.8,438.5 L124.7,438.5 L123.6,438.5 L122.5,438.5 L121.4,438.6 L120.3,438.6 L119.3,438.8 L119.3,439.0 L120.3,439.1 L121.4,439.1 L122.5,439.2 L123.5,439.3 L124.6,439.4 L125.7,439.4 L126.8,439.5 L127.9,439.5 L129.0,439.5 L130.0,439.5 L131.0,439.4 L132.0,439.3 L132.9,439.0 L133.8,438.7 L134.6,438.3 L135.4,437.9 L136.2,437.4 L137.0,436.8 L137.8,436.2 L138.5,435.6 L139.1,434.9 L139.8,434.2 L140.3,433.4 L140.8,432.6 L141.2,431.8 L141.5,431.0 L141.7,430.1 L141.8,429.2 L141.7,428.3 L141.6,427.3 L141.3,426.2 L141.0,425.1 L140.5,424.0 L140.0,422.8 L139.5,421.7 L138.8,420.6 L138.1,419.5 L137.4,418.5 L136.6,417.6 L135.7,416.8 L134.8,416.2 L133.8,415.7 L132.8,415.4 L131.6,415.3 L130.4,415.3 L129.2,415.5 L127.9,415.8 L126.6,416.1 L125.4,416.5 L124.1,417.0 L122.8,417.4 L121.5,417.8 L120.3,418.2 L119.1,418.5 L118.1,418.8 L117.1,418.9 L116.1,418.9 L115.2,419.0 L114.3,418.9 L113.4,418.9 L112.6,418.8 L111.8,418.7 L110.9,418.6 L110.1,418.5 L109.3,418.3 L108.5,418.2 L107.7,418.1 L106.9,418.0 L106.1,417.9 L105.2,417.9 Z" fill="#c4c4c4"/>
<path d="M81.8,445.1 L82.5,444.9 L83.2,444.6 L83.9,444.2 L84.6,443.8 L85.3,443.4 L85.9,443.1 L86.5,442.7 L87.1,442.4 L87.7,442.2 L88.2,442.1 L88.7,442.0 L89.1,441.9 L89.4,442.0 L89.8,442.1 L90.2,442.3 L90.8,442.7 L91.5,443.1 L92.1,443.6 L92.8,444.2 L93.5,444.9 L94.2,445.6 L94.9,446.3 L95.5,447.1 L96.1,447.9 L96.7,448.7 L97.1,449.5 L97.5,450.2 L97.8,450.8 L97.9,451.4 L98.0,452.0 L98.0,452.7 L97.9,453.5 L97.7,454.4 L97.5,455.4 L97.3,456.5 L97.1,457.6 L96.9,458.7 L96.8,459.9 L96.7,461.1 L96.8,462.3 L97.2,463.6 L97.7,464.8 L98.4,465.8 L99.1,466.7 L99.9,467.5 L100.8,468.3 L101.8,469.0 L102.8,469.7 L103.9,470.4 L105.0,471.0 L106.2,471.5 L107.4,471.9 L108.7,472.3 L110.0,472.6 L111.3,472.7 L112.6,472.8 L114.0,472.7 L115.4,472.5 L116.9,472.2 L118.3,471.9 L119.9,471.4 L121.4,470.9 L122.9,470.3 L124.4,469.7 L125.8,469.0 L127.2,468.3 L128.6,467.6 L129.8,466.8 L130.9,466.1 L131.9,465.3 L132.9,464.4 L133.7,463.4 L134.5,462.3 L135.2,461.2 L135.8,460.1 L136.3,458.9 L136.7,457.8 L137.1,456.7 L137.3,455.6 L137.5,454.6 L137.7,453.6 L137.7,452.7 L137.6,451.8 L137.4,450.8 L136.7,449.9 L135.9,449.3 L135.0,449.0 L134.1,448.9 L133.3,449.0 L132.4,449.1 L131.6,449.2 L130.7,449.4 L129.8,449.6 L129.0,449.8 L128.2,449.9 L127.4,450.1 L126.6,450.3 L126.0,450.4 L126.0,452.6 L126.8,452.7 L127.7,452.7 L128.5,452.6 L129.4,452.5 L130.3,452.5 L131.2,452.4 L132.0,452.3 L132.7,452.3 L133.4,452.3 L133.9,452.3 L134.2,452.4 L134.3,452.4 L134.2,452.4 L134.0,452.2 L134.0,452.2 L134.0,452.6 L133.9,453.2 L133.8,453.8 L133.6,454.6 L133.3,455.5 L132.9,456.4 L132.5,457.2 L132.0,458.1 L131.5,459.0 L130.9,459.8 L130.3,460.5 L129.7,461.2 L129.1,461.7 L128.3,462.3 L127.3,462.9 L126.3,463.5 L125.1,464.1 L123.8,464.6 L122.5,465.2 L121.1,465.7 L119.8,466.2 L118.4,466.6 L117.1,467.0 L115.8,467.2 L114.6,467.5 L113.5,467.6 L112.6,467.6 L111.7,467.6 L110.8,467.4 L109.9,467.3 L109.0,467.0 L108.1,466.7 L107.2,466.3 L106.4,465.8 L105.6,465.4 L104.8,464.8 L104.1,464.3 L103.5,463.8 L102.9,463.2 L102.4,462.7 L102.1,462.2 L101.9,461.9 L101.8,461.5 L101.7,460.9 L101.7,460.2 L101.8,459.3 L101.9,458.4 L102.1,457.4 L102.3,456.3 L102.5,455.2 L102.6,454.0 L102.7,452.8 L102.6,451.6 L102.4,450.4 L102.0,449.2 L101.5,448.1 L100.9,447.2 L100.3,446.2 L99.6,445.3 L98.8,444.4 L98.0,443.5 L97.1,442.7 L96.2,441.9 L95.3,441.2 L94.4,440.5 L93.5,439.9 L92.6,439.4 L91.7,439.0 L90.8,438.7 L89.9,438.5 L88.9,438.5 L88.0,438.7 L87.2,438.9 L86.4,439.3 L85.7,439.7 L85.0,440.1 L84.3,440.6 L83.7,441.0 L83.1,441.5 L82.5,441.9 L81.9,442.3 L81.4,442.7 L80.8,443.1 Z" fill="#858585" stroke="#707070" stroke-width="0.5" stroke-linejoin="round"/><path d="M81.4,444.2 L82.0,444.0 L82.7,443.7 L83.4,443.3 L84.0,442.9 L84.7,442.5 L85.3,442.1 L86.0,441.7 L86.6,441.4 L87.2,441.1 L87.8,440.9 L88.4,440.7 L89.0,440.7 L89.6,440.7 L90.2,440.9 L90.8,441.1 L91.5,441.5 L92.2,442.0 L92.9,442.5 L93.7,443.1 L94.5,443.8 L95.2,444.6 L96.0,445.4 L96.6,446.2 L97.3,447.0 L97.9,447.8 L98.4,448.7 L98.9,449.5 L99.2,450.3 L99.4,451.0 L99.5,451.8 L99.5,452.7 L99.4,453.7 L99.3,454.7 L99.1,455.7 L98.9,456.8 L98.7,457.8 L98.5,458.9 L98.4,460.0 L98.4,461.0 L98.5,462.0 L98.7,463.0 L99.1,463.9 L99.7,464.8 L100.4,465.5 L101.1,466.3 L101.9,467.0 L102.8,467.7 L103.7,468.3 L104.7,468.9 L105.7,469.4 L106.8,469.9 L107.9,470.3 L109.1,470.6 L110.2,470.9 L111.4,471.0 L112.6,471.1 L113.8,471.0 L115.1,470.9 L116.5,470.6 L117.9,470.3 L119.4,469.8 L120.9,469.4 L122.3,468.8 L123.8,468.2 L125.2,467.6 L126.5,466.9 L127.8,466.2 L129.0,465.5 L130.0,464.8 L131.0,464.1 L131.8,463.3 L132.6,462.4 L133.3,461.5 L133.9,460.5 L134.5,459.4 L135.0,458.4 L135.4,457.3 L135.7,456.3 L136.0,455.3 L136.2,454.3 L136.3,453.4 L136.4,452.6 L136.3,451.9 L136.2,451.3 L135.8,450.8 L135.3,450.4 L134.7,450.3 L134.0,450.2 L133.3,450.2 L132.6,450.3 L131.7,450.4 L130.9,450.5 L130.0,450.7 L129.2,450.8 L128.3,451.0 L127.5,451.2 L126.7,451.3 L126.0,451.4 L126.0,451.6 L126.7,451.7 L127.5,451.6 L128.4,451.6 L129.3,451.5 L130.1,451.3 L131.0,451.2 L131.8,451.1 L132.6,451.1 L133.3,451.0 L134.0,451.1 L134.5,451.2 L134.9,451.3 L135.1,451.5 L135.2,451.7 L135.3,452.1 L135.3,452.6 L135.3,453.3 L135.1,454.1 L134.9,455.0 L134.6,455.9 L134.3,456.9 L133.8,457.8 L133.3,458.8 L132.8,459.8 L132.2,460.7 L131.5,461.5 L130.8,462.3 L130.0,462.9 L129.2,463.6 L128.2,464.2 L127.0,464.8 L125.8,465.5 L124.5,466.1 L123.1,466.7 L121.7,467.2 L120.3,467.7 L118.9,468.2 L117.5,468.6 L116.1,468.9 L114.9,469.1 L113.7,469.3 L112.6,469.3 L111.6,469.3 L110.6,469.1 L109.5,468.9 L108.5,468.6 L107.5,468.2 L106.5,467.8 L105.6,467.3 L104.7,466.8 L103.8,466.2 L103.0,465.6 L102.3,465.0 L101.7,464.3 L101.1,463.7 L100.7,463.1 L100.3,462.4 L100.2,461.7 L100.1,461.0 L100.1,460.1 L100.2,459.1 L100.3,458.1 L100.5,457.1 L100.7,456.0 L100.9,454.9 L101.0,453.9 L101.1,452.8 L101.1,451.7 L100.9,450.7 L100.6,449.7 L100.2,448.8 L99.6,447.9 L99.0,447.0 L98.4,446.2 L97.7,445.3 L96.9,444.5 L96.1,443.7 L95.3,442.9 L94.4,442.2 L93.6,441.6 L92.8,441.1 L92.0,440.6 L91.2,440.2 L90.4,439.9 L89.7,439.8 L89.0,439.8 L88.2,439.9 L87.6,440.1 L86.9,440.4 L86.2,440.7 L85.6,441.1 L84.9,441.5 L84.3,442.0 L83.7,442.4 L83.1,442.8 L82.5,443.2 L81.8,443.6 L81.2,444.0 Z" fill="#c4c4c4"/>
<path d="M247.4,397.7 L247.8,399.0 L248.5,400.4 L249.3,401.8 L250.1,403.2 L250.9,404.6 L251.8,406.0 L252.6,407.4 L253.3,408.6 L254.0,409.8 L254.5,410.8 L254.8,411.6 L254.9,412.0 L254.9,412.0 L255.2,411.2 L255.9,410.7 L255.8,410.7 L255.1,410.6 L254.0,410.4 L252.6,410.0 L251.0,409.6 L249.4,409.2 L247.7,408.7 L246.0,408.2 L244.3,407.9 L242.7,407.6 L241.3,407.4 L239.9,407.4 L238.4,407.7 L237.2,408.6 L236.5,409.8 L236.3,411.0 L236.4,412.1 L236.7,413.0 L237.0,414.0 L237.4,414.9 L237.9,415.8 L238.4,416.6 L238.9,417.5 L239.3,418.3 L239.8,419.1 L240.2,419.8 L240.5,420.5 L242.7,419.9 L242.6,419.0 L242.4,418.1 L242.2,417.1 L241.9,416.2 L241.5,415.2 L241.2,414.3 L241.0,413.5 L240.7,412.7 L240.6,412.0 L240.6,411.5 L240.6,411.3 L240.6,411.4 L240.5,411.6 L240.2,411.9 L240.2,411.9 L240.8,412.0 L241.8,412.2 L243.1,412.6 L244.6,413.1 L246.3,413.6 L247.9,414.1 L249.6,414.6 L251.3,415.1 L252.9,415.5 L254.4,415.7 L255.9,415.8 L257.5,415.5 L259.2,414.4 L259.9,412.5 L259.8,411.0 L259.4,409.8 L258.8,408.6 L258.0,407.4 L257.2,406.1 L256.3,404.9 L255.3,403.6 L254.2,402.3 L253.1,401.1 L252.1,399.8 L251.1,398.6 L250.2,397.5 L249.2,396.5 Z" fill="#858585" stroke="#707070" stroke-width="0.5" stroke-linejoin="round"/><path d="M248.2,397.2 L248.8,398.4 L249.5,399.7 L250.3,401.1 L251.2,402.4 L252.1,403.8 L253.0,405.2 L253.8,406.5 L254.6,407.8 L255.3,409.0 L255.9,410.0 L256.3,411.0 L256.5,411.7 L256.5,412.2 L256.5,412.3 L256.4,412.3 L255.9,412.4 L254.9,412.3 L253.6,412.0 L252.2,411.7 L250.6,411.3 L248.9,410.8 L247.2,410.3 L245.5,409.8 L243.9,409.4 L242.4,409.1 L241.1,408.9 L240.0,408.9 L239.0,409.1 L238.3,409.7 L237.9,410.3 L237.8,411.1 L237.8,411.9 L238.0,412.7 L238.3,413.5 L238.7,414.4 L239.1,415.2 L239.5,416.1 L240.0,417.0 L240.4,417.9 L240.8,418.7 L241.2,419.5 L241.5,420.2 L241.7,420.2 L241.6,419.4 L241.4,418.5 L241.1,417.6 L240.7,416.7 L240.4,415.7 L240.0,414.8 L239.7,414.0 L239.4,413.1 L239.2,412.4 L239.1,411.7 L239.1,411.2 L239.2,410.8 L239.4,410.6 L239.6,410.5 L240.1,410.4 L240.9,410.4 L242.1,410.7 L243.5,411.0 L245.1,411.5 L246.7,412.0 L248.4,412.5 L250.1,413.0 L251.7,413.4 L253.3,413.8 L254.7,414.0 L255.9,414.1 L257.0,414.0 L257.9,413.3 L258.2,412.3 L258.2,411.4 L257.8,410.4 L257.3,409.3 L256.7,408.2 L255.9,407.0 L255.0,405.7 L254.1,404.4 L253.1,403.1 L252.1,401.8 L251.1,400.5 L250.1,399.3 L249.2,398.1 L248.4,397.0 Z" fill="#c4c4c4"/>
<path d="M241.4,454.4 L242.0,455.7 L242.7,457.0 L243.6,458.4 L244.5,459.7 L245.4,461.1 L246.4,462.4 L247.2,463.7 L248.1,464.9 L248.7,466.0 L249.3,466.9 L249.6,467.6 L249.7,468.0 L249.7,467.9 L250.1,467.1 L250.7,466.6 L250.5,466.6 L249.6,466.6 L248.3,466.4 L246.8,466.1 L245.1,465.7 L243.3,465.3 L241.4,464.9 L239.6,464.5 L237.8,464.2 L236.1,464.0 L234.6,463.9 L233.1,463.9 L231.7,464.4 L230.5,465.3 L229.8,466.5 L229.6,467.8 L229.8,468.8 L230.1,469.8 L230.5,470.8 L231.0,471.7 L231.5,472.6 L232.1,473.4 L232.6,474.3 L233.2,475.1 L233.7,475.9 L234.1,476.6 L234.6,477.3 L236.6,476.5 L236.5,475.7 L236.3,474.7 L235.9,473.7 L235.5,472.8 L235.1,471.8 L234.8,470.9 L234.4,470.0 L234.1,469.2 L234.0,468.6 L233.9,468.1 L233.9,467.9 L233.9,467.9 L233.8,468.2 L233.5,468.4 L233.6,468.5 L234.3,468.5 L235.5,468.7 L236.9,469.0 L238.5,469.4 L240.3,469.9 L242.1,470.3 L244.0,470.8 L245.8,471.2 L247.5,471.5 L249.1,471.7 L250.7,471.7 L252.2,471.4 L253.9,470.3 L254.7,468.5 L254.5,466.9 L254.1,465.7 L253.4,464.5 L252.6,463.3 L251.7,462.2 L250.7,461.0 L249.6,459.8 L248.5,458.6 L247.4,457.4 L246.2,456.2 L245.2,455.1 L244.2,454.1 L243.2,453.2 Z" fill="#858585" stroke="#707070" stroke-width="0.5" stroke-linejoin="round"/><path d="M242.2,453.9 L242.8,455.1 L243.6,456.3 L244.6,457.6 L245.5,458.9 L246.5,460.2 L247.5,461.5 L248.4,462.8 L249.3,464.0 L250.0,465.1 L250.7,466.1 L251.1,467.0 L251.3,467.7 L251.4,468.1 L251.4,468.1 L251.2,468.2 L250.5,468.3 L249.4,468.2 L248.1,468.0 L246.5,467.7 L244.7,467.4 L242.9,467.0 L241.1,466.5 L239.3,466.1 L237.5,465.8 L235.9,465.6 L234.5,465.4 L233.3,465.5 L232.3,465.7 L231.6,466.3 L231.2,467.0 L231.1,467.8 L231.2,468.6 L231.4,469.4 L231.8,470.2 L232.2,471.1 L232.7,472.0 L233.2,472.8 L233.7,473.7 L234.2,474.6 L234.7,475.4 L235.1,476.2 L235.5,476.9 L235.7,476.9 L235.6,476.0 L235.3,475.2 L234.9,474.3 L234.5,473.3 L234.0,472.4 L233.6,471.5 L233.2,470.6 L232.9,469.8 L232.6,469.0 L232.5,468.4 L232.4,467.8 L232.5,467.5 L232.6,467.2 L232.9,467.1 L233.4,466.9 L234.4,467.0 L235.7,467.1 L237.2,467.4 L238.9,467.8 L240.7,468.2 L242.5,468.7 L244.4,469.1 L246.1,469.5 L247.8,469.8 L249.3,470.0 L250.6,470.0 L251.7,469.9 L252.6,469.3 L253.0,468.3 L253.0,467.3 L252.6,466.3 L252.0,465.3 L251.3,464.2 L250.5,463.1 L249.5,461.9 L248.5,460.7 L247.4,459.5 L246.3,458.2 L245.3,457.0 L244.2,455.9 L243.3,454.7 L242.4,453.7 Z" fill="#c4c4c4"/>
<path d="M144.1,413.6 L143.1,412.2 L142.0,410.7 L140.9,409.1 L139.5,407.7 L138.1,406.4 L136.6,405.1 L135.3,403.8 L134.1,402.6 L133.0,401.4 L132.2,400.2 L131.5,399.2 L131.2,398.3 L131.1,397.6 L131.2,396.9 L131.6,396.2 L132.3,395.2 L133.4,394.2 L134.8,393.2 L136.5,392.1 L138.3,391.1 L140.2,390.1 L142.3,389.2 L144.5,388.3 L146.6,387.6 L148.8,386.9 L150.8,386.4 L152.8,386.0 L154.5,385.7 L156.2,385.6 L157.9,385.8 L159.8,386.2 L161.7,386.7 L163.6,387.3 L165.6,388.1 L167.5,388.9 L169.5,389.7 L171.4,390.4 L173.2,391.1 L175.0,391.6 L176.7,392.0 L178.4,392.1 L180.1,391.9 L181.5,391.4 L182.8,390.7 L183.9,389.7 L184.8,388.6 L185.5,387.4 L186.2,386.2 L186.8,384.9 L187.3,383.6 L187.8,382.3 L188.2,380.9 L188.5,379.6 L188.8,378.3 L189.1,377.2 L189.6,376.0 L187.6,375.0 L186.9,376.1 L186.2,377.3 L185.5,378.5 L184.9,379.8 L184.4,381.1 L184.0,382.4 L183.6,383.6 L183.1,384.8 L182.6,385.8 L182.1,386.7 L181.5,387.5 L180.9,388.1 L180.2,388.6 L179.3,388.9 L178.4,389.0 L177.1,389.0 L175.7,388.7 L174.1,388.3 L172.3,387.7 L170.5,387.0 L168.5,386.3 L166.5,385.5 L164.5,384.8 L162.4,384.1 L160.4,383.6 L158.3,383.2 L156.3,383.0 L154.3,383.1 L152.3,383.4 L150.2,383.9 L148.0,384.4 L145.8,385.1 L143.5,385.9 L141.3,386.7 L139.1,387.7 L137.0,388.7 L135.1,389.7 L133.3,390.9 L131.7,392.0 L130.3,393.2 L129.2,394.5 L128.4,395.9 L128.1,397.4 L128.2,399.0 L128.8,400.5 L129.5,401.9 L130.5,403.3 L131.7,404.7 L132.9,406.1 L134.3,407.5 L135.7,408.9 L137.0,410.3 L138.4,411.6 L139.9,412.7 L141.2,413.9 L142.3,415.0 Z" fill="#2b3690" stroke="#1d2560" stroke-width="0.6" stroke-linejoin="round"/><path d="M131.0,401.0 L130.4,399.7 L130.1,398.6 L130.0,397.5 L130.2,396.6 L130.8,395.6 L131.7,394.6 L132.9,393.6 L134.4,392.6 L136.1,391.6 L138.0,390.6 L140.0,389.7 L142.2,388.8 L144.3,388.0 L146.5,387.3 L148.7,386.6 L150.7,386.1 L152.7,385.7 L154.5,385.4 L156.2,385.3 L158.0,385.5 L159.9,385.8 L161.8,386.3 L163.8,386.9 L165.7,387.6 L167.7,388.4 L169.7,389.1 L171.6,389.8 L173.4,390.4 L175.2,390.8 L176.9,391.1 L178.4,391.1 L179.8,390.9 L181.0,390.4 L182.1,389.7 L182.9,388.8 L183.6,387.8 L184.2,386.7 L184.0,386.6 L183.3,387.5 L182.5,388.4 L181.6,389.1 L180.7,389.6 L179.6,389.9 L178.4,390.0 L177.0,389.9 L175.5,389.5 L173.9,389.0 L172.1,388.3 L170.3,387.6 L168.3,386.8 L166.4,386.0 L164.4,385.2 L162.3,384.5 L160.3,383.9 L158.3,383.5 L156.2,383.3 L154.3,383.4 L152.3,383.7 L150.3,384.2 L148.1,384.7 L145.9,385.4 L143.7,386.2 L141.5,387.1 L139.3,388.1 L137.3,389.2 L135.4,390.3 L133.7,391.4 L132.1,392.6 L130.9,393.8 L130.0,395.0 L129.4,396.2 L129.2,397.5 L129.4,398.7 L129.9,400.0 L130.7,401.2 Z" fill="#3a8be0"/>
<path d="M204.6,370.6 L205.9,370.4 L207.2,370.1 L208.5,369.9 L209.8,369.6 L211.2,369.3 L212.4,368.8 L213.7,368.4 L214.9,368.0 L216.1,367.7 L217.3,367.3 L218.4,367.1 L219.5,366.9 L220.5,366.7 L221.4,366.7 L222.4,366.7 L223.4,366.7 L224.3,366.8 L225.3,366.9 L226.2,367.1 L227.1,367.3 L227.9,367.5 L228.7,367.8 L229.5,368.1 L230.1,368.5 L230.8,368.9 L231.3,369.3 L231.8,369.8 L232.3,370.3 L232.7,370.9 L233.0,371.6 L233.4,372.4 L233.7,373.2 L233.9,374.1 L234.2,375.1 L234.3,376.1 L234.4,377.1 L234.5,378.2 L234.4,379.3 L234.3,380.5 L234.2,381.6 L234.0,382.8 L233.6,384.0 L233.2,385.3 L232.7,386.6 L232.0,388.0 L231.1,389.5 L230.2,391.1 L229.3,392.6 L228.3,394.2 L227.2,395.8 L226.2,397.4 L225.2,399.0 L224.2,400.5 L223.2,401.9 L222.4,403.3 L221.7,404.6 L221.0,405.8 L220.4,406.9 L219.7,407.9 L219.0,409.0 L218.3,410.0 L217.6,410.9 L217.0,411.9 L216.5,412.9 L216.0,413.8 L215.6,414.8 L215.3,415.9 L215.2,417.0 L215.2,418.1 L215.5,419.2 L216.0,420.3 L216.7,421.4 L217.6,422.3 L218.5,423.2 L219.6,424.0 L220.7,424.8 L221.9,425.6 L223.1,426.4 L224.3,427.1 L225.6,427.7 L226.9,428.3 L228.2,428.9 L229.4,429.5 L230.5,430.1 L231.7,428.3 L230.7,427.4 L229.6,426.5 L228.5,425.7 L227.3,424.8 L226.1,424.0 L224.9,423.3 L223.7,422.6 L222.6,422.0 L221.5,421.3 L220.6,420.6 L219.8,420.0 L219.2,419.3 L218.8,418.7 L218.5,418.2 L218.3,417.6 L218.3,417.0 L218.4,416.4 L218.5,415.8 L218.8,415.0 L219.1,414.3 L219.6,413.4 L220.1,412.5 L220.7,411.6 L221.4,410.6 L222.1,409.5 L222.8,408.4 L223.5,407.2 L224.1,406.0 L224.8,404.7 L225.6,403.4 L226.5,401.9 L227.4,400.4 L228.4,398.9 L229.4,397.3 L230.5,395.6 L231.5,394.0 L232.5,392.4 L233.4,390.8 L234.3,389.2 L235.0,387.7 L235.7,386.2 L236.2,384.8 L236.5,383.4 L236.8,382.1 L237.0,380.8 L237.1,379.5 L237.1,378.2 L237.1,377.0 L237.0,375.8 L236.8,374.6 L236.6,373.5 L236.3,372.4 L235.9,371.4 L235.5,370.4 L235.1,369.5 L234.5,368.7 L233.9,367.9 L233.2,367.2 L232.5,366.5 L231.6,366.0 L230.7,365.5 L229.8,365.1 L228.8,364.7 L227.8,364.4 L226.8,364.1 L225.7,363.9 L224.7,363.7 L223.6,363.6 L222.5,363.5 L221.4,363.5 L220.2,363.5 L219.0,363.7 L217.8,363.8 L216.5,364.1 L215.2,364.4 L213.9,364.7 L212.7,365.1 L211.4,365.5 L210.1,365.9 L208.8,366.4 L207.6,366.9 L206.4,367.5 L205.2,368.0 L204.0,368.4 Z" fill="#2b3690" stroke="#1d2560" stroke-width="0.6" stroke-linejoin="round"/><path d="M222.4,365.2 L223.5,365.3 L224.5,365.5 L225.5,365.7 L226.4,365.9 L227.3,366.2 L228.2,366.5 L229.1,366.9 L229.9,367.3 L230.6,367.7 L231.3,368.2 L231.9,368.7 L232.4,369.3 L232.9,369.9 L233.3,370.6 L233.6,371.3 L234.0,372.2 L234.3,373.0 L234.5,374.0 L234.7,375.0 L234.8,376.0 L234.9,377.1 L234.9,378.2 L234.9,379.4 L234.8,380.5 L234.6,381.7 L234.3,382.9 L234.0,384.1 L233.5,385.4 L232.9,386.7 L232.2,388.2 L231.4,389.7 L230.5,391.2 L229.5,392.8 L228.5,394.4 L227.5,396.0 L226.5,397.6 L225.5,399.2 L224.5,400.7 L223.6,402.2 L222.8,403.6 L222.1,404.9 L221.5,406.1 L220.9,407.2 L220.2,408.3 L219.6,409.3 L218.9,410.4 L218.3,411.4 L217.8,412.3 L217.3,413.3 L216.8,414.2 L216.5,415.1 L216.3,416.1 L216.3,417.0 L216.3,417.9 L216.6,418.8 L217.1,419.7 L217.7,420.6 L218.5,421.3 L219.5,422.0 L219.7,421.8 L218.9,421.0 L218.2,420.1 L217.7,419.4 L217.4,418.6 L217.2,417.8 L217.2,417.0 L217.3,416.2 L217.6,415.5 L217.9,414.7 L218.4,413.8 L218.9,413.0 L219.5,412.1 L220.1,411.2 L220.8,410.2 L221.5,409.1 L222.2,408.1 L223.0,406.9 L223.7,405.7 L224.4,404.5 L225.2,403.1 L226.1,401.7 L227.1,400.2 L228.1,398.7 L229.1,397.1 L230.2,395.5 L231.2,393.9 L232.2,392.2 L233.1,390.6 L234.0,389.1 L234.7,387.5 L235.4,386.1 L235.8,384.7 L236.2,383.3 L236.4,382.0 L236.6,380.7 L236.7,379.4 L236.7,378.2 L236.6,377.0 L236.5,375.8 L236.3,374.7 L236.0,373.6 L235.7,372.6 L235.3,371.6 L234.9,370.7 L234.5,369.9 L233.9,369.1 L233.4,368.4 L232.7,367.8 L232.0,367.2 L231.2,366.7 L230.3,366.3 L229.4,366.0 L228.5,365.7 L227.6,365.4 L226.6,365.2 L225.6,365.1 L224.5,365.0 L223.5,365.0 L222.4,365.1 Z" fill="#3a8be0"/>
<path d="M163.8,430.4 L163.2,430.1 L162.6,429.7 L162.0,429.3 L161.4,428.8 L160.7,428.3 L160.1,427.9 L159.4,427.4 L158.7,427.0 L158.0,426.5 L157.3,426.2 L156.5,425.9 L155.6,425.8 L154.7,425.8 L153.8,426.0 L153.1,426.3 L152.4,426.7 L151.7,427.1 L151.0,427.6 L150.3,428.2 L149.6,428.9 L149.0,429.7 L148.4,430.5 L147.9,431.4 L147.5,432.4 L147.3,433.5 L147.2,434.7 L147.3,435.9 L147.6,437.1 L148.0,438.3 L148.6,439.6 L149.4,441.0 L150.2,442.5 L151.2,444.1 L152.2,445.7 L153.4,447.3 L154.6,448.9 L155.8,450.5 L157.1,452.0 L158.4,453.5 L159.8,454.8 L161.1,456.0 L162.5,457.1 L163.9,458.0 L165.4,458.9 L167.0,459.7 L168.6,460.5 L170.3,461.2 L172.0,461.8 L173.7,462.3 L175.4,462.8 L177.1,463.2 L178.7,463.5 L180.2,463.8 L181.7,463.9 L183.0,464.0 L184.3,464.0 L185.4,463.9 L186.5,463.7 L187.5,463.3 L188.4,462.9 L189.2,462.3 L190.0,461.7 L190.7,461.0 L191.3,460.3 L191.9,459.5 L192.4,458.7 L192.9,457.8 L193.4,456.9 L193.9,456.0 L194.3,455.0 L194.8,453.9 L195.1,452.7 L195.4,451.3 L195.6,449.9 L195.7,448.5 L195.9,447.0 L196.0,445.6 L196.2,444.1 L196.3,442.8 L196.5,441.4 L196.8,440.2 L197.1,439.1 L197.5,438.2 L198.0,437.5 L198.6,436.7 L199.3,436.0 L200.2,435.3 L201.1,434.7 L202.1,434.1 L203.1,433.5 L204.1,433.0 L205.2,432.6 L206.3,432.2 L207.3,431.9 L208.3,431.7 L209.3,431.6 L210.1,431.6 L210.8,431.6 L211.4,431.7 L212.0,431.9 L212.6,432.3 L213.2,432.7 L213.8,433.3 L214.4,433.9 L215.2,434.6 L215.9,435.3 L216.7,436.0 L217.4,436.8 L218.2,437.6 L219.0,438.3 L219.8,439.1 L220.7,439.7 L222.1,438.1 L221.5,437.4 L220.9,436.6 L220.3,435.8 L219.7,434.9 L219.0,434.0 L218.4,433.1 L217.7,432.3 L217.0,431.4 L216.2,430.6 L215.3,429.9 L214.4,429.3 L213.4,428.8 L212.3,428.4 L211.2,428.2 L210.0,428.2 L208.9,428.3 L207.7,428.5 L206.5,428.8 L205.3,429.1 L204.0,429.6 L202.8,430.1 L201.6,430.7 L200.4,431.4 L199.3,432.1 L198.3,432.9 L197.3,433.8 L196.4,434.7 L195.6,435.7 L194.9,436.9 L194.4,438.2 L194.0,439.5 L193.7,440.9 L193.5,442.4 L193.3,443.9 L193.2,445.3 L193.1,446.8 L193.0,448.2 L192.9,449.6 L192.7,450.9 L192.5,452.1 L192.2,453.1 L191.9,454.0 L191.5,454.8 L191.0,455.7 L190.6,456.5 L190.2,457.3 L189.7,458.0 L189.2,458.7 L188.8,459.3 L188.2,459.8 L187.7,460.2 L187.1,460.6 L186.5,460.9 L185.8,461.1 L185.0,461.3 L184.1,461.4 L183.1,461.4 L181.9,461.3 L180.6,461.2 L179.1,461.0 L177.6,460.7 L176.1,460.3 L174.5,459.8 L172.8,459.3 L171.2,458.7 L169.7,458.1 L168.1,457.3 L166.7,456.6 L165.3,455.8 L164.1,454.9 L162.9,453.9 L161.7,452.8 L160.5,451.5 L159.3,450.2 L158.0,448.7 L156.9,447.2 L155.8,445.6 L154.7,444.0 L153.7,442.5 L152.9,441.0 L152.1,439.6 L151.5,438.3 L151.0,437.1 L150.6,436.1 L150.5,435.4 L150.4,434.7 L150.5,434.0 L150.7,433.4 L150.9,432.8 L151.2,432.3 L151.6,431.8 L152.1,431.3 L152.6,430.8 L153.1,430.4 L153.6,430.0 L154.1,429.8 L154.6,429.5 L155.0,429.4 L155.1,429.4 L155.4,429.4 L155.7,429.4 L156.1,429.5 L156.6,429.6 L157.2,429.9 L157.9,430.1 L158.5,430.4 L159.2,430.8 L159.9,431.1 L160.7,431.5 L161.4,431.8 L162.1,432.1 L162.8,432.4 Z" fill="#2b3690" stroke="#1d2560" stroke-width="0.6" stroke-linejoin="round"/><path d="M150.0,439.0 L150.6,440.4 L151.3,441.9 L152.1,443.5 L153.1,445.1 L154.2,446.7 L155.3,448.4 L156.5,450.0 L157.7,451.5 L158.9,453.0 L160.2,454.3 L161.5,455.6 L162.8,456.6 L164.2,457.6 L165.6,458.5 L167.2,459.3 L168.8,460.1 L170.4,460.8 L172.1,461.4 L173.8,462.0 L175.5,462.5 L177.1,462.9 L178.7,463.2 L180.3,463.5 L181.7,463.6 L183.0,463.7 L184.3,463.7 L185.4,463.6 L186.4,463.4 L187.4,463.0 L188.3,462.6 L189.1,462.1 L189.8,461.5 L190.5,460.8 L191.1,460.1 L191.6,459.3 L192.1,458.5 L192.6,457.6 L193.1,456.8 L193.5,455.8 L194.0,454.9 L194.4,453.8 L194.7,452.6 L194.9,451.2 L195.1,449.9 L195.2,448.4 L195.4,447.0 L195.4,445.5 L195.6,444.1 L195.7,442.7 L195.9,441.3 L196.1,440.0 L196.4,438.9 L196.8,437.9 L197.3,437.0 L198.0,436.2 L198.7,435.4 L199.6,434.6 L200.5,433.8 L201.5,433.2 L202.6,432.5 L203.6,431.9 L204.8,431.4 L205.9,431.0 L207.0,430.6 L208.1,430.3 L209.1,430.0 L209.1,429.9 L208.0,429.9 L206.9,430.1 L205.7,430.4 L204.5,430.8 L203.3,431.2 L202.1,431.7 L201.0,432.3 L199.9,433.0 L198.9,433.7 L197.9,434.5 L197.0,435.3 L196.3,436.2 L195.6,437.3 L195.1,438.4 L194.7,439.7 L194.4,441.0 L194.1,442.5 L193.9,443.9 L193.8,445.4 L193.6,446.8 L193.5,448.3 L193.3,449.7 L193.1,451.0 L192.9,452.1 L192.6,453.2 L192.2,454.1 L191.8,455.0 L191.4,455.9 L190.9,456.7 L190.5,457.5 L190.0,458.2 L189.5,458.9 L189.0,459.5 L188.5,460.0 L187.9,460.5 L187.3,460.9 L186.6,461.2 L185.9,461.4 L185.1,461.6 L184.1,461.7 L183.1,461.7 L181.9,461.6 L180.5,461.5 L179.1,461.3 L177.6,461.0 L176.0,460.6 L174.4,460.2 L172.7,459.7 L171.1,459.1 L169.5,458.4 L167.9,457.8 L166.5,457.0 L165.1,456.2 L163.8,455.4 L162.5,454.4 L161.3,453.3 L160.0,452.0 L158.7,450.6 L157.4,449.2 L156.2,447.7 L155.0,446.1 L153.8,444.6 L152.8,443.1 L151.8,441.6 L150.9,440.2 L150.1,438.9 Z" fill="#3a8be0"/>
<path d="M423.0,405.7 L424.3,405.5 L425.7,405.2 L427.0,404.8 L428.4,404.4 L429.8,404.0 L431.1,403.5 L432.3,403.0 L433.6,402.5 L434.8,402.1 L435.9,401.7 L437.0,401.4 L438.0,401.2 L438.9,401.0 L439.8,401.0 L440.6,401.0 L441.3,401.1 L442.1,401.3 L442.7,401.5 L443.4,401.8 L444.0,402.1 L444.7,402.5 L445.2,402.9 L445.8,403.3 L446.4,403.8 L446.9,404.4 L447.4,405.0 L447.9,405.6 L448.3,406.2 L448.8,406.9 L449.2,407.6 L449.7,408.4 L450.1,409.2 L450.5,410.1 L450.9,410.9 L451.2,411.9 L451.5,412.8 L451.7,413.8 L451.9,414.7 L452.0,415.7 L452.1,416.7 L452.0,417.6 L451.9,418.6 L451.7,419.5 L451.4,420.6 L450.9,421.6 L450.4,422.7 L449.8,423.9 L449.2,425.0 L448.4,426.2 L447.7,427.4 L446.9,428.6 L446.1,429.8 L445.3,431.0 L444.6,432.2 L443.8,433.4 L443.2,434.5 L442.5,435.6 L441.7,436.6 L440.9,437.6 L440.0,438.7 L439.1,439.8 L438.1,440.8 L437.2,441.9 L436.4,443.0 L435.6,444.1 L434.9,445.2 L434.3,446.4 L433.9,447.7 L433.7,449.0 L433.8,450.4 L434.2,451.7 L434.8,453.0 L435.5,454.2 L436.5,455.3 L437.5,456.4 L438.7,457.5 L439.9,458.6 L441.1,459.6 L442.4,460.7 L443.7,461.7 L445.0,462.5 L446.3,463.4 L447.6,464.2 L448.7,465.1 L450.3,463.5 L449.3,462.3 L448.2,461.2 L447.0,460.0 L445.9,458.9 L444.6,457.9 L443.3,456.9 L442.0,455.9 L440.9,455.0 L439.8,454.0 L438.9,453.1 L438.1,452.2 L437.5,451.4 L437.0,450.6 L436.8,449.8 L436.8,449.1 L436.8,448.4 L437.1,447.5 L437.5,446.6 L438.0,445.7 L438.7,444.7 L439.5,443.7 L440.3,442.6 L441.2,441.6 L442.1,440.5 L443.0,439.4 L443.9,438.2 L444.7,437.1 L445.4,435.9 L446.1,434.8 L446.8,433.6 L447.5,432.4 L448.3,431.3 L449.1,430.0 L449.9,428.8 L450.7,427.6 L451.4,426.4 L452.1,425.1 L452.7,423.9 L453.3,422.7 L453.8,421.4 L454.2,420.2 L454.5,419.0 L454.6,417.8 L454.7,416.7 L454.7,415.5 L454.6,414.4 L454.4,413.2 L454.1,412.1 L453.8,411.0 L453.4,410.0 L453.0,409.0 L452.6,408.0 L452.1,407.1 L451.7,406.2 L451.2,405.4 L450.7,404.6 L450.1,403.9 L449.6,403.1 L449.0,402.5 L448.4,401.8 L447.8,401.2 L447.1,400.6 L446.3,400.0 L445.5,399.5 L444.7,399.0 L443.8,398.7 L442.9,398.3 L441.9,398.1 L440.9,397.9 L439.8,397.8 L438.7,397.8 L437.5,398.0 L436.3,398.2 L435.0,398.5 L433.7,398.9 L432.4,399.3 L431.1,399.7 L429.8,400.2 L428.5,400.7 L427.2,401.3 L425.9,401.9 L424.7,402.5 L423.5,403.1 L422.4,403.7 Z" fill="#2b3690" stroke="#1d2560" stroke-width="0.6" stroke-linejoin="round"/><path d="M440.7,399.6 L441.6,399.8 L442.4,400.1 L443.2,400.4 L443.9,400.7 L444.6,401.1 L445.2,401.6 L445.9,402.1 L446.4,402.6 L447.0,403.2 L447.5,403.8 L448.0,404.4 L448.5,405.1 L449.0,405.8 L449.4,406.5 L449.8,407.3 L450.3,408.1 L450.7,408.9 L451.1,409.8 L451.4,410.8 L451.7,411.7 L452.0,412.7 L452.2,413.7 L452.4,414.7 L452.4,415.7 L452.5,416.7 L452.4,417.7 L452.3,418.6 L452.0,419.6 L451.7,420.7 L451.2,421.8 L450.7,422.9 L450.1,424.0 L449.4,425.2 L448.7,426.4 L447.9,427.6 L447.2,428.8 L446.4,430.0 L445.6,431.2 L444.9,432.4 L444.1,433.6 L443.5,434.7 L442.8,435.8 L442.1,436.9 L441.3,437.9 L440.4,439.0 L439.5,440.1 L438.6,441.2 L437.7,442.3 L436.9,443.4 L436.2,444.5 L435.6,445.6 L435.1,446.7 L434.8,447.9 L434.7,449.0 L434.8,450.2 L435.1,451.3 L435.7,452.4 L436.5,453.4 L437.4,454.4 L438.5,455.4 L439.7,456.3 L439.8,456.2 L438.8,455.1 L437.9,454.0 L437.1,453.0 L436.5,451.9 L436.1,451.0 L435.8,450.0 L435.8,449.1 L436.0,448.2 L436.3,447.2 L436.8,446.3 L437.4,445.3 L438.1,444.3 L439.0,443.3 L439.9,442.3 L440.8,441.2 L441.7,440.1 L442.7,439.1 L443.5,438.0 L444.4,436.8 L445.1,435.7 L445.8,434.6 L446.5,433.4 L447.3,432.3 L448.0,431.1 L448.8,429.9 L449.6,428.7 L450.4,427.4 L451.1,426.2 L451.8,425.0 L452.5,423.8 L453.0,422.5 L453.5,421.3 L453.9,420.1 L454.1,419.0 L454.3,417.8 L454.3,416.7 L454.3,415.5 L454.1,414.4 L453.9,413.3 L453.6,412.2 L453.3,411.2 L452.9,410.2 L452.5,409.2 L452.0,408.3 L451.6,407.4 L451.1,406.5 L450.6,405.8 L450.0,405.0 L449.5,404.3 L449.0,403.7 L448.4,403.0 L447.8,402.4 L447.1,401.9 L446.4,401.3 L445.7,400.9 L445.0,400.4 L444.2,400.1 L443.4,399.8 L442.6,399.5 L441.7,399.4 L440.7,399.3 Z" fill="#3a8be0"/>
<path d="M574.6,336.7 L574.0,336.2 L573.4,335.7 L572.8,335.2 L572.1,334.7 L571.5,334.1 L570.8,333.5 L570.2,333.0 L569.5,332.5 L568.8,331.9 L568.1,331.5 L567.4,331.1 L566.6,330.9 L565.8,330.7 L565.0,330.6 L564.2,330.7 L563.5,330.9 L562.8,331.2 L562.1,331.5 L561.5,331.9 L560.9,332.4 L560.3,332.9 L559.8,333.5 L559.3,334.2 L558.9,334.9 L558.6,335.7 L558.4,336.5 L558.2,337.4 L558.2,338.3 L558.2,339.1 L558.2,340.1 L558.3,341.1 L558.4,342.2 L558.6,343.3 L558.8,344.6 L559.1,345.8 L559.5,347.1 L559.9,348.3 L560.5,349.6 L561.2,350.8 L562.0,352.1 L563.0,353.2 L564.0,354.3 L565.3,355.3 L566.7,356.3 L568.3,357.3 L570.1,358.3 L571.9,359.4 L573.9,360.3 L575.9,361.3 L577.9,362.2 L579.9,363.0 L581.8,363.7 L583.7,364.4 L585.5,364.9 L587.2,365.4 L588.7,365.7 L590.1,365.9 L591.4,365.9 L592.7,365.9 L593.9,365.8 L595.1,365.5 L596.3,365.2 L597.3,364.8 L598.3,364.3 L599.3,363.8 L600.2,363.1 L601.1,362.4 L601.9,361.7 L602.6,360.9 L603.4,360.0 L604.1,358.9 L604.6,357.7 L605.0,356.4 L605.3,355.1 L605.6,353.7 L605.8,352.2 L606.0,350.8 L606.2,349.3 L606.4,347.9 L606.6,346.5 L606.9,345.2 L607.2,344.0 L607.6,343.0 L608.1,342.0 L608.7,341.0 L609.3,340.0 L610.1,339.0 L610.8,337.9 L611.7,337.0 L612.5,336.0 L613.4,335.1 L614.2,334.3 L615.1,333.6 L615.9,333.0 L616.8,332.5 L617.5,332.1 L618.2,331.9 L618.8,331.8 L619.4,331.8 L620.0,332.0 L620.6,332.2 L621.3,332.7 L622.1,333.2 L623.0,333.9 L623.8,334.7 L624.7,335.4 L625.7,336.2 L626.7,337.0 L627.7,337.8 L628.7,338.6 L629.7,339.3 L630.7,340.0 L632.1,338.2 L631.2,337.5 L630.4,336.7 L629.6,335.8 L628.8,334.8 L628.0,333.9 L627.1,332.9 L626.2,332.0 L625.2,331.2 L624.2,330.4 L623.2,329.7 L622.1,329.1 L621.0,328.7 L619.8,328.4 L618.6,328.4 L617.4,328.7 L616.3,329.1 L615.2,329.6 L614.1,330.3 L613.1,331.1 L612.1,332.0 L611.1,332.9 L610.2,333.9 L609.3,335.0 L608.4,336.1 L607.6,337.2 L606.9,338.3 L606.2,339.5 L605.5,340.6 L604.9,341.9 L604.5,343.2 L604.1,344.6 L603.8,346.0 L603.6,347.5 L603.4,349.0 L603.3,350.5 L603.1,351.9 L602.9,353.3 L602.7,354.5 L602.4,355.7 L602.1,356.8 L601.7,357.7 L601.2,358.4 L600.6,359.1 L600.0,359.8 L599.3,360.5 L598.6,361.0 L597.9,361.6 L597.1,362.0 L596.3,362.4 L595.4,362.7 L594.5,363.0 L593.6,363.2 L592.5,363.3 L591.5,363.3 L590.3,363.3 L589.1,363.1 L587.8,362.8 L586.2,362.4 L584.5,361.9 L582.7,361.3 L580.9,360.5 L578.9,359.7 L577.0,358.8 L575.1,357.9 L573.2,356.9 L571.5,356.0 L569.8,355.0 L568.3,354.0 L567.0,353.0 L566.0,352.1 L565.1,351.3 L564.4,350.3 L563.7,349.3 L563.2,348.3 L562.7,347.2 L562.4,346.1 L562.1,345.0 L561.8,343.9 L561.7,342.9 L561.6,341.8 L561.5,340.8 L561.4,339.9 L561.4,339.1 L561.4,338.3 L561.5,337.8 L561.6,337.3 L561.7,336.8 L561.9,336.4 L562.2,336.0 L562.4,335.6 L562.7,335.3 L563.1,335.0 L563.4,334.7 L563.8,334.5 L564.1,334.4 L564.5,334.3 L564.8,334.2 L565.0,334.2 L565.3,334.2 L565.6,334.3 L566.0,334.4 L566.5,334.7 L567.0,334.9 L567.7,335.3 L568.3,335.6 L569.0,336.0 L569.8,336.5 L570.5,336.9 L571.2,337.4 L572.0,337.8 L572.7,338.2 L573.4,338.5 Z" fill="#2b3690" stroke="#1d2560" stroke-width="0.6" stroke-linejoin="round"/><path d="M560.0,343.1 L560.1,344.3 L560.3,345.5 L560.6,346.7 L561.0,347.9 L561.5,349.1 L562.1,350.3 L562.8,351.5 L563.6,352.6 L564.6,353.6 L565.8,354.7 L567.1,355.7 L568.7,356.7 L570.4,357.8 L572.2,358.8 L574.1,359.9 L576.1,360.8 L578.1,361.8 L580.0,362.6 L582.0,363.4 L583.8,364.1 L585.6,364.6 L587.2,365.1 L588.7,365.4 L590.1,365.6 L591.4,365.6 L592.7,365.6 L593.9,365.5 L595.1,365.2 L596.2,364.9 L597.2,364.5 L598.2,364.1 L599.1,363.5 L600.0,362.9 L600.9,362.2 L601.6,361.4 L602.4,360.6 L603.1,359.8 L603.7,358.8 L604.2,357.6 L604.6,356.3 L604.9,355.0 L605.2,353.6 L605.4,352.2 L605.5,350.7 L605.7,349.3 L605.8,347.8 L606.0,346.4 L606.3,345.1 L606.6,343.8 L607.0,342.7 L607.4,341.6 L608.0,340.6 L608.7,339.5 L609.4,338.5 L610.1,337.4 L610.9,336.3 L611.7,335.3 L612.6,334.3 L613.4,333.4 L614.3,332.6 L615.2,331.9 L616.1,331.3 L617.0,330.8 L617.8,330.4 L618.7,330.2 L618.7,330.0 L617.8,330.1 L616.8,330.4 L615.8,330.8 L614.8,331.4 L613.9,332.0 L612.9,332.8 L611.9,333.7 L611.0,334.6 L610.0,335.6 L609.2,336.7 L608.3,337.7 L607.6,338.8 L606.8,339.9 L606.2,341.0 L605.6,342.1 L605.1,343.4 L604.7,344.7 L604.4,346.2 L604.2,347.6 L604.0,349.1 L603.8,350.5 L603.6,351.9 L603.4,353.3 L603.1,354.6 L602.8,355.8 L602.5,356.9 L602.0,357.8 L601.5,358.6 L600.9,359.4 L600.2,360.1 L599.6,360.7 L598.8,361.3 L598.1,361.8 L597.3,362.3 L596.4,362.7 L595.5,363.0 L594.6,363.3 L593.6,363.5 L592.6,363.6 L591.5,363.6 L590.3,363.6 L589.1,363.4 L587.7,363.2 L586.1,362.8 L584.4,362.2 L582.6,361.6 L580.7,360.9 L578.8,360.1 L576.8,359.3 L574.9,358.4 L573.0,357.4 L571.1,356.5 L569.4,355.5 L567.9,354.6 L566.5,353.7 L565.4,352.8 L564.4,351.9 L563.6,350.9 L562.9,349.8 L562.2,348.8 L561.7,347.6 L561.2,346.5 L560.8,345.4 L560.5,344.2 L560.2,343.1 Z" fill="#3a8be0"/>
<circle cx="113.1" cy="398.6" r="16.4" fill="url(#adprG)" stroke="#1d3340" stroke-width="1.1"/><text x="101.5" y="403.9" font-size="12.5" fill-opacity="0.92">ADPr</text>
<circle cx="97.0" cy="374.3" r="16.4" fill="url(#adprG)" stroke="#1d3340" stroke-width="1.1"/><text x="85.4" y="379.6" font-size="12.5" fill-opacity="0.92">ADPr</text>
<circle cx="87.0" cy="347.5" r="16.4" fill="url(#adprG)" stroke="#1d3340" stroke-width="1.1"/><text x="75.4" y="352.8" font-size="12.5" fill-opacity="0.92">ADPr</text>
<circle cx="83.1" cy="321.8" r="16.4" fill="url(#adprG)" stroke="#1d3340" stroke-width="1.1"/><text x="71.5" y="327.1" font-size="12.5" fill-opacity="0.92">ADPr</text>
<circle cx="232.6" cy="350.9" r="16.4" fill="url(#adprG)" stroke="#1d3340" stroke-width="1.1"/><text x="221.0" y="356.2" font-size="12.5" fill-opacity="0.92">ADPr</text>
<circle cx="210.7" cy="329.9" r="16.4" fill="url(#adprG)" stroke="#1d3340" stroke-width="1.1"/><text x="199.1" y="335.2" font-size="12.5" fill-opacity="0.92">ADPr</text>
<circle cx="249.5" cy="327.5" r="16.4" fill="url(#adprG)" stroke="#1d3340" stroke-width="1.1"/><text x="237.9" y="332.8" font-size="12.5" fill-opacity="0.92">ADPr</text>
<circle cx="202.1" cy="472.4" r="16.4" fill="url(#adprG)" stroke="#1d3340" stroke-width="1.1"/><text x="190.5" y="477.7" font-size="12.5" fill-opacity="0.92">ADPr</text>
<circle cx="466.9" cy="403.2" r="16.4" fill="url(#adprG)" stroke="#1d3340" stroke-width="1.1"/><text x="455.3" y="408.5" font-size="12.5" fill-opacity="0.92">ADPr</text>
<circle cx="546.0" cy="351.7" r="16.4" fill="url(#adprG)" stroke="#1d3340" stroke-width="1.1"/><text x="534.4" y="357.0" font-size="12.5" fill-opacity="0.92">ADPr</text>
<ellipse cx="520.6" cy="386" rx="41.9" ry="20.9" fill="url(#afG)" stroke="#2a2f18" stroke-width="1.1"/>
<text x="492.7" y="391.9" font-size="18" font-weight="bold" textLength="53.7" lengthAdjust="spacingAndGlyphs" fill="#111">Af1521</text>
<clipPath id="msc"><rect x="792.3" y="330.9" width="195.7" height="136" rx="6.5"/></clipPath>
<g clip-path="url(#msc)">
<rect x="792.3" y="330.9" width="69.0" height="136.0" fill="#f1f3f2"/>
<rect x="861.3" y="330.9" width="127.0" height="136.0" fill="#221f1f"/>
<path d="M982.0,330.9 L990,330.9 L990,467 L969.8,467 Q980.5,410 982.0,330.9 Z" fill="#94bfd1"/>
</g>
<rect x="792.3" y="330.9" width="195.7" height="136.0" fill="none" stroke="#1a1a1a" stroke-width="1.3" rx="6.5"/>
<rect x="810.1" y="361.0" width="33.4" height="31.4" fill="#e5dccb" stroke="#1a1a1a" stroke-width="1.2" rx="7"/>
<rect x="866.1" y="361.8" width="22.5" height="3.0" fill="#8cb32a"/>
<rect x="888.6" y="361.8" width="26.7" height="3.0" fill="#ece2d2"/>
<rect x="915.3" y="361.8" width="10.6" height="3.0" fill="#2b3b75"/>
<rect x="925.9" y="361.8" width="39.3" height="3.0" fill="#ece2d2"/>
<text x="1083.5" y="28.0" font-size="38.5" font-weight="bold">B</text>
<rect x="1249.6" y="20.3" width="97.6" height="473.4" fill="#e5dccb" stroke="#3c3c3c" stroke-width="1.5"/>
<rect x="1395.7" y="221.0" width="97.6" height="272.7" fill="#e5dccb" stroke="#3c3c3c" stroke-width="1.5"/>
<line x1="1225.4" y1="21.4" x2="1225.4" y2="493.7" stroke="#3c3c3c" stroke-width="1.6"/>
<line x1="1216.4" y1="493.7" x2="1517.8" y2="493.7" stroke="#3c3c3c" stroke-width="1.6"/>
<line x1="1216.2" y1="33.2" x2="1225.4" y2="33.2" stroke="#3c3c3c" stroke-width="1.6"/>
<text x="1203.8" y="40.4" font-size="25" class="sf" text-anchor="end">500</text>
<line x1="1216.2" y1="125.4" x2="1225.4" y2="125.4" stroke="#3c3c3c" stroke-width="1.6"/>
<text x="1203.8" y="132.6" font-size="25" class="sf" text-anchor="end">400</text>
<line x1="1216.2" y1="217.5" x2="1225.4" y2="217.5" stroke="#3c3c3c" stroke-width="1.6"/>
<text x="1203.8" y="224.7" font-size="25" class="sf" text-anchor="end">300</text>
<line x1="1216.2" y1="309.6" x2="1225.4" y2="309.6" stroke="#3c3c3c" stroke-width="1.6"/>
<text x="1203.8" y="316.8" font-size="25" class="sf" text-anchor="end">200</text>
<line x1="1216.2" y1="401.6" x2="1225.4" y2="401.6" stroke="#3c3c3c" stroke-width="1.6"/>
<text x="1203.8" y="408.8" font-size="25" class="sf" text-anchor="end">100</text>
<text x="1203.8" y="500.7" font-size="25" class="sf" text-anchor="end">0</text>
<text x="1298.3" y="523.0" font-size="26.0" text-anchor="middle">Sites</text>
<text x="1444.3" y="523.0" font-size="26.0" text-anchor="middle">Proteins</text>
<text x="1147.6" y="257.2" font-size="25.95" text-anchor="middle" transform="rotate(-90 1147.6 257.2)">ADPr events (number)</text>
<text x="0.0" y="614.5" font-size="38.5" font-weight="bold">C</text>
<ellipse cx="145.5" cy="842.8" rx="154.2" ry="79.5" transform="rotate(56 145.5 842.8)" fill="none" stroke="#4a2d2d" stroke-width="3.15"/>
<ellipse cx="249.9" cy="842.8" rx="154.2" ry="79.5" transform="rotate(-56 249.9 842.8)" fill="none" stroke="#9cc4d6" stroke-width="3.15"/>
<ellipse cx="191.6" cy="805.2" rx="154.2" ry="79.5" transform="rotate(56 191.6 805.2)" fill="none" stroke="#0f4b66" stroke-width="3.15"/>
<ellipse cx="203.8" cy="805.2" rx="154.2" ry="79.5" transform="rotate(-56 203.8 805.2)" fill="none" stroke="#6faad0" stroke-width="3.15"/>
<text x="51.4" y="667.8" font-size="25.6" text-anchor="middle">Rep. 1</text>
<text x="51.4" y="699.6" font-size="25.6" text-anchor="middle">(4)</text>
<text x="134.5" y="626.8" font-size="25.6" text-anchor="middle">Rep. 2</text>
<text x="134.5" y="657.9" font-size="25.6" text-anchor="middle">(34)</text>
<text x="260.3" y="626.8" font-size="25.6" text-anchor="middle">Rep. 3</text>
<text x="260.3" y="657.9" font-size="25.6" text-anchor="middle">(6)</text>
<text x="344.2" y="667.8" font-size="25.6" text-anchor="middle">Rep. 4</text>
<text x="344.2" y="699.6" font-size="25.6" text-anchor="middle">(70)</text>
<text x="139.1" y="707.6" font-size="25.6" text-anchor="middle">6</text>
<text x="255.7" y="707.6" font-size="25.6" text-anchor="middle">0</text>
<text x="115.5" y="759.0" font-size="25.6" text-anchor="middle">0</text>
<text x="197.7" y="747.3" font-size="25.6" text-anchor="middle">1</text>
<text x="278.3" y="759.0" font-size="25.6" text-anchor="middle">0</text>
<text x="68.7" y="805.7" font-size="25.6" text-anchor="middle">0</text>
<text x="151.7" y="806.9" font-size="25.6" text-anchor="middle">0</text>
<text x="243.7" y="806.9" font-size="25.6" text-anchor="middle">1</text>
<text x="325.2" y="805.3" font-size="25.6" text-anchor="middle">43</text>
<text x="197.7" y="860.9" font-size="25.6" text-anchor="middle">4</text>
<text x="118.1" y="885.2" font-size="25.6" text-anchor="middle">0</text>
<text x="277.9" y="885.2" font-size="25.6" text-anchor="middle">22</text>
<text x="161.3" y="923.0" font-size="25.6" text-anchor="middle">0</text>
<text x="233.9" y="923.0" font-size="25.6" text-anchor="middle">0</text>
<text x="197.7" y="957.8" font-size="25.6" text-anchor="middle">0</text>
<text x="197.7" y="1009.9" font-size="25.6" text-anchor="middle">DMSO</text>
<ellipse cx="559.8" cy="842.8" rx="154.2" ry="79.5" transform="rotate(56 559.8 842.8)" fill="none" stroke="#4a2d2d" stroke-width="3.15"/>
<ellipse cx="664.2" cy="842.8" rx="154.2" ry="79.5" transform="rotate(-56 664.2 842.8)" fill="none" stroke="#9cc4d6" stroke-width="3.15"/>
<ellipse cx="605.9" cy="805.2" rx="154.2" ry="79.5" transform="rotate(56 605.9 805.2)" fill="none" stroke="#0f4b66" stroke-width="3.15"/>
<ellipse cx="618.1" cy="805.2" rx="154.2" ry="79.5" transform="rotate(-56 618.1 805.2)" fill="none" stroke="#6faad0" stroke-width="3.15"/>
<text x="465.7" y="670.5" font-size="25.6" text-anchor="middle">Rep. 1</text>
<text x="465.7" y="702.3" font-size="25.6" text-anchor="middle">(348)</text>
<text x="548.8" y="629.5" font-size="25.6" text-anchor="middle">Rep. 2</text>
<text x="548.8" y="660.6" font-size="25.6" text-anchor="middle">(138)</text>
<text x="674.6" y="629.5" font-size="25.6" text-anchor="middle">Rep. 3</text>
<text x="674.6" y="660.6" font-size="25.6" text-anchor="middle">(34)</text>
<text x="758.5" y="670.5" font-size="25.6" text-anchor="middle">Rep. 4</text>
<text x="758.5" y="702.3" font-size="25.6" text-anchor="middle">(211)</text>
<text x="553.4" y="705.1" font-size="25.6" text-anchor="middle">1</text>
<text x="670.0" y="705.1" font-size="25.6" text-anchor="middle">0</text>
<text x="529.8" y="752.3" font-size="25.6" text-anchor="middle">10</text>
<text x="612.0" y="747.3" font-size="25.6" text-anchor="middle">0</text>
<text x="692.6" y="752.3" font-size="25.6" text-anchor="middle">0</text>
<text x="483.0" y="805.7" font-size="25.6" text-anchor="middle">140</text>
<text x="566.0" y="806.9" font-size="25.6" text-anchor="middle">0</text>
<text x="658.0" y="806.9" font-size="25.6" text-anchor="middle">1</text>
<text x="739.5" y="805.3" font-size="25.6" text-anchor="middle">9</text>
<text x="612.0" y="860.9" font-size="25.6" text-anchor="middle">33</text>
<text x="532.4" y="885.2" font-size="25.6" text-anchor="middle">0</text>
<text x="692.2" y="885.2" font-size="25.6" text-anchor="middle">3</text>
<text x="575.6" y="923.0" font-size="25.6" text-anchor="middle">0</text>
<text x="648.2" y="923.0" font-size="25.6" text-anchor="middle">90</text>
<text x="612.0" y="957.8" font-size="25.6" text-anchor="middle">75</text>
<text x="612.0" y="1009.9" font-size="25.6" text-anchor="middle">PARGi</text>
<ellipse cx="982.4" cy="842.8" rx="154.2" ry="79.5" transform="rotate(56 982.4 842.8)" fill="none" stroke="#4a2d2d" stroke-width="3.15"/>
<ellipse cx="1086.8" cy="842.8" rx="154.2" ry="79.5" transform="rotate(-56 1086.8 842.8)" fill="none" stroke="#9cc4d6" stroke-width="3.15"/>
<ellipse cx="1028.5" cy="805.2" rx="154.2" ry="79.5" transform="rotate(56 1028.5 805.2)" fill="none" stroke="#0f4b66" stroke-width="3.15"/>
<ellipse cx="1040.7" cy="805.2" rx="154.2" ry="79.5" transform="rotate(-56 1040.7 805.2)" fill="none" stroke="#6faad0" stroke-width="3.15"/>
<text x="888.3" y="670.5" font-size="25.6" text-anchor="middle">Rep. 1</text>
<text x="888.3" y="702.3" font-size="25.6" text-anchor="middle">(38)</text>
<text x="971.4" y="629.5" font-size="25.6" text-anchor="middle">Rep. 2</text>
<text x="971.4" y="660.6" font-size="25.6" text-anchor="middle">(78)</text>
<text x="1097.2" y="629.5" font-size="25.6" text-anchor="middle">Rep. 3</text>
<text x="1097.2" y="660.6" font-size="25.6" text-anchor="middle">(29)</text>
<text x="1181.1" y="670.5" font-size="25.6" text-anchor="middle">Rep. 4</text>
<text x="1181.1" y="702.3" font-size="25.6" text-anchor="middle">(50)</text>
<text x="976.0" y="705.1" font-size="25.6" text-anchor="middle">29</text>
<text x="1092.6" y="705.1" font-size="25.6" text-anchor="middle">0</text>
<text x="952.4" y="752.3" font-size="25.6" text-anchor="middle">1</text>
<text x="1034.6" y="747.3" font-size="25.6" text-anchor="middle">0</text>
<text x="1115.2" y="752.3" font-size="25.6" text-anchor="middle">0</text>
<text x="905.6" y="805.7" font-size="25.6" text-anchor="middle">2</text>
<text x="988.6" y="806.9" font-size="25.6" text-anchor="middle">1</text>
<text x="1080.6" y="806.9" font-size="25.6" text-anchor="middle">1</text>
<text x="1162.1" y="805.3" font-size="25.6" text-anchor="middle">3</text>
<text x="1034.6" y="860.9" font-size="25.6" text-anchor="middle">26</text>
<text x="955.0" y="885.2" font-size="25.6" text-anchor="middle">1</text>
<text x="1114.8" y="885.2" font-size="25.6" text-anchor="middle">13</text>
<text x="998.2" y="923.0" font-size="25.6" text-anchor="middle">0</text>
<text x="1070.8" y="923.0" font-size="25.6" text-anchor="middle">7</text>
<text x="1034.6" y="957.8" font-size="25.6" text-anchor="middle">0</text>
<text x="1034.6" y="1009.9" font-size="25.6" text-anchor="middle">H<tspan font-size="14.8" dy="9.2">2</tspan><tspan dy="-9.2">O</tspan><tspan font-size="14.8" dy="9.2">2</tspan><tspan dy="-9.2"> + DMSO</tspan></text>
<ellipse cx="1396.6" cy="842.8" rx="154.2" ry="79.5" transform="rotate(56 1396.6 842.8)" fill="none" stroke="#4a2d2d" stroke-width="3.15"/>
<ellipse cx="1501.0" cy="842.8" rx="154.2" ry="79.5" transform="rotate(-56 1501.0 842.8)" fill="none" stroke="#9cc4d6" stroke-width="3.15"/>
<ellipse cx="1442.7" cy="805.2" rx="154.2" ry="79.5" transform="rotate(56 1442.7 805.2)" fill="none" stroke="#0f4b66" stroke-width="3.15"/>
<ellipse cx="1454.9" cy="805.2" rx="154.2" ry="79.5" transform="rotate(-56 1454.9 805.2)" fill="none" stroke="#6faad0" stroke-width="3.15"/>
<text x="1302.5" y="670.5" font-size="25.6" text-anchor="middle">Rep. 1</text>
<text x="1302.5" y="702.3" font-size="25.6" text-anchor="middle">(469)</text>
<text x="1385.6" y="629.5" font-size="25.6" text-anchor="middle">Rep. 2</text>
<text x="1385.6" y="660.6" font-size="25.6" text-anchor="middle">(189)</text>
<text x="1511.4" y="629.5" font-size="25.6" text-anchor="middle">Rep. 3</text>
<text x="1511.4" y="660.6" font-size="25.6" text-anchor="middle">(27)</text>
<text x="1595.3" y="670.5" font-size="25.6" text-anchor="middle">Rep. 4</text>
<text x="1595.3" y="702.3" font-size="25.6" text-anchor="middle">(230)</text>
<text x="1390.2" y="705.1" font-size="25.6" text-anchor="middle">1</text>
<text x="1506.8" y="705.1" font-size="25.6" text-anchor="middle">0</text>
<text x="1366.6" y="752.3" font-size="25.6" text-anchor="middle">24</text>
<text x="1448.8" y="747.3" font-size="25.6" text-anchor="middle">0</text>
<text x="1529.4" y="752.3" font-size="25.6" text-anchor="middle">0</text>
<text x="1319.8" y="805.7" font-size="25.6" text-anchor="middle">228</text>
<text x="1402.8" y="806.9" font-size="25.6" text-anchor="middle">0</text>
<text x="1494.8" y="806.9" font-size="25.6" text-anchor="middle">0</text>
<text x="1576.3" y="805.3" font-size="25.6" text-anchor="middle">10</text>
<text x="1448.8" y="860.9" font-size="25.6" text-anchor="middle">26</text>
<text x="1369.2" y="885.2" font-size="25.6" text-anchor="middle">0</text>
<text x="1529.0" y="885.2" font-size="25.6" text-anchor="middle">3</text>
<text x="1412.4" y="923.0" font-size="25.6" text-anchor="middle">1</text>
<text x="1485.0" y="923.0" font-size="25.6" text-anchor="middle">135</text>
<text x="1448.8" y="957.8" font-size="25.6" text-anchor="middle">55</text>
<text x="1448.8" y="1009.9" font-size="25.6" text-anchor="middle">H<tspan font-size="14.8" dy="9.2">2</tspan><tspan dy="-9.2">O</tspan><tspan font-size="14.8" dy="9.2">2</tspan><tspan dy="-9.2"> + PARGi</tspan></text>
<text x="2.0" y="1087.8" font-size="38.5" font-weight="bold">D</text>
<rect x="118.2" y="1130.3" width="67.4" height="456.3" fill="#f9d95e" stroke="#6e6e6e" stroke-width="1.2"/>
<rect x="218.5" y="1115.8" width="67.4" height="470.8" fill="#f7981d" stroke="#6e6e6e" stroke-width="1.2"/>
<rect x="318.7" y="1205.1" width="67.4" height="381.5" fill="#75b2e2" stroke="#6e6e6e" stroke-width="1.2"/>
<rect x="419.0" y="1245.1" width="67.4" height="341.5" fill="#28357f" stroke="#6e6e6e" stroke-width="1.2"/>
<line x1="101.6" y1="1089.4" x2="101.6" y2="1586.6" stroke="#3a3a3a" stroke-width="1.5"/>
<line x1="92.0" y1="1586.6" x2="502.6" y2="1586.6" stroke="#3a3a3a" stroke-width="1.5"/>
<line x1="92.2" y1="1090.1" x2="101.6" y2="1090.1" stroke="#3a3a3a" stroke-width="1.5"/>
<text x="83.0" y="1096.7" font-size="25.3" class="sf" text-anchor="end">1.0</text>
<line x1="92.2" y1="1188.9" x2="101.6" y2="1188.9" stroke="#3a3a3a" stroke-width="1.5"/>
<text x="83.0" y="1195.5" font-size="25.3" class="sf" text-anchor="end">0.8</text>
<line x1="92.2" y1="1288.3" x2="101.6" y2="1288.3" stroke="#3a3a3a" stroke-width="1.5"/>
<text x="83.0" y="1294.9" font-size="25.3" class="sf" text-anchor="end">0.6</text>
<line x1="92.2" y1="1387.5" x2="101.6" y2="1387.5" stroke="#3a3a3a" stroke-width="1.5"/>
<text x="83.0" y="1394.1" font-size="25.3" class="sf" text-anchor="end">0.4</text>
<line x1="92.2" y1="1486.9" x2="101.6" y2="1486.9" stroke="#3a3a3a" stroke-width="1.5"/>
<text x="83.0" y="1493.5" font-size="25.3" class="sf" text-anchor="end">0.2</text>
<text x="83.0" y="1594.2" font-size="25.3" class="sf" text-anchor="end">0</text>
<line x1="151.5" y1="1087.3" x2="151.5" y2="1172.8" stroke="#1a1a1a" stroke-width="2.9"/><line x1="146.6" y1="1087.3" x2="156.4" y2="1087.3" stroke="#1a1a1a" stroke-width="2.9"/><line x1="146.6" y1="1172.8" x2="156.4" y2="1172.8" stroke="#1a1a1a" stroke-width="2.9"/>
<line x1="252.0" y1="1099.7" x2="252.0" y2="1132.4" stroke="#1a1a1a" stroke-width="2.9"/><line x1="247.1" y1="1099.7" x2="256.9" y2="1099.7" stroke="#1a1a1a" stroke-width="2.9"/><line x1="247.1" y1="1132.4" x2="256.9" y2="1132.4" stroke="#1a1a1a" stroke-width="2.9"/>
<line x1="352.6" y1="1127.9" x2="352.6" y2="1282.3" stroke="#1a1a1a" stroke-width="2.9"/><line x1="347.7" y1="1127.9" x2="357.5" y2="1127.9" stroke="#1a1a1a" stroke-width="2.9"/><line x1="347.7" y1="1282.3" x2="357.5" y2="1282.3" stroke="#1a1a1a" stroke-width="2.9"/>
<line x1="452.9" y1="1121.0" x2="452.9" y2="1369.3" stroke="#1a1a1a" stroke-width="2.9"/><line x1="448.0" y1="1121.0" x2="457.8" y2="1121.0" stroke="#1a1a1a" stroke-width="2.9"/><line x1="448.0" y1="1369.3" x2="457.8" y2="1369.3" stroke="#1a1a1a" stroke-width="2.9"/>
<circle cx="124.2" cy="1090.0" r="5.3" fill="#f9d95e" stroke="#5a5a5a" stroke-width="1.5"/>
<circle cx="135.0" cy="1090.0" r="5.3" fill="#f9d95e" stroke="#5a5a5a" stroke-width="1.5"/>
<circle cx="145.7" cy="1090.0" r="5.3" fill="#f9d95e" stroke="#5a5a5a" stroke-width="1.5"/>
<circle cx="156.5" cy="1164.4" r="5.3" fill="#f9d95e" stroke="#5a5a5a" stroke-width="1.5"/>
<circle cx="167.3" cy="1169.7" r="5.3" fill="#f9d95e" stroke="#5a5a5a" stroke-width="1.5"/>
<circle cx="178.1" cy="1169.7" r="5.3" fill="#f9d95e" stroke="#5a5a5a" stroke-width="1.5"/>
<circle cx="224.3" cy="1094.9" r="5.3" fill="#f7981d" stroke="#5a5a5a" stroke-width="1.5"/>
<circle cx="235.1" cy="1109.8" r="5.3" fill="#f7981d" stroke="#5a5a5a" stroke-width="1.5"/>
<circle cx="245.9" cy="1100.1" r="5.3" fill="#f7981d" stroke="#5a5a5a" stroke-width="1.5"/>
<circle cx="256.7" cy="1119.9" r="5.3" fill="#f7981d" stroke="#5a5a5a" stroke-width="1.5"/>
<circle cx="267.5" cy="1134.5" r="5.3" fill="#f7981d" stroke="#5a5a5a" stroke-width="1.5"/>
<circle cx="278.3" cy="1134.5" r="5.3" fill="#f7981d" stroke="#5a5a5a" stroke-width="1.5"/>
<circle cx="324.2" cy="1139.7" r="5.3" fill="#75b2e2" stroke="#5a5a5a" stroke-width="1.5"/>
<circle cx="335.3" cy="1144.6" r="5.3" fill="#75b2e2" stroke="#5a5a5a" stroke-width="1.5"/>
<circle cx="346.4" cy="1149.8" r="5.3" fill="#75b2e2" stroke="#5a5a5a" stroke-width="1.5"/>
<circle cx="357.9" cy="1199.6" r="5.3" fill="#75b2e2" stroke="#5a5a5a" stroke-width="1.5"/>
<circle cx="369.0" cy="1298.7" r="5.3" fill="#75b2e2" stroke="#5a5a5a" stroke-width="1.5"/>
<circle cx="380.2" cy="1303.6" r="5.3" fill="#75b2e2" stroke="#5a5a5a" stroke-width="1.5"/>
<circle cx="424.3" cy="1094.9" r="5.3" fill="#28357f" stroke="#444" stroke-width="1.5"/>
<circle cx="435.5" cy="1164.4" r="5.3" fill="#28357f" stroke="#444" stroke-width="1.5"/>
<circle cx="447.0" cy="1179.7" r="5.3" fill="#28357f" stroke="#444" stroke-width="1.5"/>
<circle cx="458.4" cy="1288.6" r="5.3" fill="#28357f" stroke="#e4e0dc" stroke-width="1.5"/>
<circle cx="469.6" cy="1298.7" r="5.3" fill="#28357f" stroke="#e4e0dc" stroke-width="1.5"/>
<circle cx="480.7" cy="1443.0" r="5.3" fill="#28357f" stroke="#e4e0dc" stroke-width="1.5"/>
<text x="151.9" y="1620.9" font-size="25.8" text-anchor="middle">DMSO</text><text x="252.2" y="1620.9" font-size="25.8" text-anchor="middle">PARGi</text><text x="352.4" y="1620.9" font-size="25.8" text-anchor="middle">DMSO</text><text x="452.7" y="1620.9" font-size="25.8" text-anchor="middle">PARGi</text><line x1="305.4" y1="1633.3" x2="498.1" y2="1633.3" stroke="#222" stroke-width="1.2"/><text x="366.9" y="1660.9" font-size="25.8">+H<tspan font-size="15.0" dy="9.3">2</tspan><tspan dy="-9.3">O</tspan><tspan font-size="15.0" dy="9.3">2</tspan></text>
<text x="34.6" y="1336.0" font-size="25.95" text-anchor="middle" transform="rotate(-90 34.6 1336.0)">Pearson correlation (<tspan font-style="italic">R</tspan>)</text>
<text x="537.7" y="1087.8" font-size="38.5" font-weight="bold">E</text>
<rect x="662.2" y="1555.4" width="67.1" height="30.6" fill="#f9d95e" stroke="#6e6e6e" stroke-width="1.2"/>
<rect x="762.0" y="1534.2" width="67.1" height="51.8" fill="#f7981d" stroke="#6e6e6e" stroke-width="1.2"/>
<rect x="861.5" y="1393.7" width="67.1" height="192.3" fill="#75b2e2" stroke="#6e6e6e" stroke-width="1.2"/>
<rect x="961.3" y="1345.3" width="67.1" height="240.7" fill="#28357f" stroke="#6e6e6e" stroke-width="1.2"/>
<line x1="646.3" y1="1086.5" x2="646.3" y2="1586.0" stroke="#3a3a3a" stroke-width="1.5"/>
<line x1="637.1" y1="1586.0" x2="1044.0" y2="1586.0" stroke="#3a3a3a" stroke-width="1.5"/>
<line x1="637.0" y1="1145.3" x2="646.3" y2="1145.3" stroke="#3a3a3a" stroke-width="1.5"/>
<text x="632.4" y="1154.3" font-size="25.4" text-anchor="end">400</text>
<line x1="637.0" y1="1270.2" x2="646.3" y2="1270.2" stroke="#3a3a3a" stroke-width="1.5"/>
<text x="632.4" y="1279.2" font-size="25.4" text-anchor="end">300</text>
<line x1="637.0" y1="1375.2" x2="646.3" y2="1375.2" stroke="#3a3a3a" stroke-width="1.5"/>
<text x="632.4" y="1384.2" font-size="25.4" text-anchor="end">200</text>
<line x1="637.0" y1="1480.3" x2="646.3" y2="1480.3" stroke="#3a3a3a" stroke-width="1.5"/>
<text x="632.4" y="1489.3" font-size="25.4" text-anchor="end">100</text>
<text x="632.4" y="1595.1" font-size="25.4" text-anchor="end">0</text>
<line x1="695.9" y1="1539.4" x2="695.9" y2="1571.7" stroke="#1a1a1a" stroke-width="2.9"/><line x1="691.0" y1="1539.4" x2="700.8" y2="1539.4" stroke="#1a1a1a" stroke-width="2.9"/><line x1="691.0" y1="1571.7" x2="700.8" y2="1571.7" stroke="#1a1a1a" stroke-width="2.9"/>
<line x1="795.7" y1="1523.0" x2="795.7" y2="1545.7" stroke="#1a1a1a" stroke-width="2.9"/><line x1="790.8" y1="1523.0" x2="800.6" y2="1523.0" stroke="#1a1a1a" stroke-width="2.9"/><line x1="790.8" y1="1545.7" x2="800.6" y2="1545.7" stroke="#1a1a1a" stroke-width="2.9"/>
<line x1="895.2" y1="1324.1" x2="895.2" y2="1462.9" stroke="#1a1a1a" stroke-width="2.9"/><line x1="890.3" y1="1324.1" x2="900.1" y2="1324.1" stroke="#1a1a1a" stroke-width="2.9"/><line x1="890.3" y1="1462.9" x2="900.1" y2="1462.9" stroke="#1a1a1a" stroke-width="2.9"/>
<line x1="995.0" y1="1249.3" x2="995.0" y2="1441.7" stroke="#1a1a1a" stroke-width="2.9"/><line x1="990.1" y1="1249.3" x2="999.9" y2="1249.3" stroke="#1a1a1a" stroke-width="2.9"/><line x1="990.1" y1="1441.7" x2="999.9" y2="1441.7" stroke="#1a1a1a" stroke-width="2.9"/>
<circle cx="669.1" cy="1580.8" r="5.3" fill="#f9d95e" stroke="#5a5a5a" stroke-width="1.5"/>
<circle cx="705.7" cy="1579.0" r="5.3" fill="#f9d95e" stroke="#5a5a5a" stroke-width="1.5"/>
<circle cx="687.2" cy="1549.5" r="5.3" fill="#f9d95e" stroke="#5a5a5a" stroke-width="1.5"/>
<circle cx="723.7" cy="1511.2" r="5.3" fill="#f9d95e" stroke="#5a5a5a" stroke-width="1.5"/>
<circle cx="768.3" cy="1545.0" r="5.3" fill="#f7981d" stroke="#5a5a5a" stroke-width="1.5"/>
<circle cx="786.7" cy="1502.5" r="5.3" fill="#f7981d" stroke="#5a5a5a" stroke-width="1.5"/>
<circle cx="805.1" cy="1554.0" r="5.3" fill="#f7981d" stroke="#5a5a5a" stroke-width="1.5"/>
<circle cx="823.6" cy="1532.4" r="5.3" fill="#f7981d" stroke="#5a5a5a" stroke-width="1.5"/>
<circle cx="868.8" cy="1215.9" r="5.3" fill="#75b2e2" stroke="#5a5a5a" stroke-width="1.5"/>
<circle cx="887.6" cy="1438.9" r="5.3" fill="#75b2e2" stroke="#5a5a5a" stroke-width="1.5"/>
<circle cx="906.3" cy="1549.5" r="5.3" fill="#75b2e2" stroke="#5a5a5a" stroke-width="1.5"/>
<circle cx="924.8" cy="1361.3" r="5.3" fill="#75b2e2" stroke="#5a5a5a" stroke-width="1.5"/>
<circle cx="967.6" cy="1087.2" r="5.3" fill="#28357f" stroke="#444" stroke-width="1.5"/>
<circle cx="986.0" cy="1385.0" r="5.3" fill="#28357f" stroke="#e4e0dc" stroke-width="1.5"/>
<circle cx="1004.8" cy="1556.8" r="5.3" fill="#28357f" stroke="#e4e0dc" stroke-width="1.5"/>
<circle cx="1022.5" cy="1340.8" r="5.3" fill="#28357f" stroke="#444" stroke-width="1.5"/>
<text x="695.9" y="1620.9" font-size="25.8" text-anchor="middle">DMSO</text><text x="795.7" y="1620.9" font-size="25.8" text-anchor="middle">PARGi</text><text x="895.2" y="1620.9" font-size="25.8" text-anchor="middle">DMSO</text><text x="995.0" y="1620.9" font-size="25.8" text-anchor="middle">PARGi</text><line x1="845.5" y1="1633.3" x2="1044.1" y2="1633.3" stroke="#222" stroke-width="1.2"/><text x="908.7" y="1660.9" font-size="25.8">+H<tspan font-size="15.0" dy="9.3">2</tspan><tspan dy="-9.3">O</tspan><tspan font-size="15.0" dy="9.3">2</tspan></text>
<text x="573.4" y="1331.7" font-size="25.95" text-anchor="middle" transform="rotate(-90 573.4 1331.7)">ADPr sites (number)</text>
<text x="1086.7" y="1087.8" font-size="38.5" font-weight="bold">F</text>
<rect x="1235.2" y="1583.4" width="64.7" height="2.6" fill="#f9d95e" stroke="#6e6e6e" stroke-width="1.2"/>
<rect x="1333.0" y="1581.8" width="64.7" height="4.2" fill="#f7981d" stroke="#6e6e6e" stroke-width="1.2"/>
<rect x="1430.3" y="1516.1" width="64.7" height="69.9" fill="#75b2e2" stroke="#6e6e6e" stroke-width="1.2"/>
<rect x="1528.4" y="1434.3" width="65.1" height="151.7" fill="#28357f" stroke="#6e6e6e" stroke-width="1.2"/>
<line x1="1218.5" y1="1089.0" x2="1218.5" y2="1586.0" stroke="#3a3a3a" stroke-width="1.5"/>
<line x1="1209.0" y1="1586.0" x2="1608.4" y2="1586.0" stroke="#3a3a3a" stroke-width="1.5"/>
<line x1="1209.0" y1="1116.1" x2="1218.5" y2="1116.1" stroke="#3a3a3a" stroke-width="1.5"/>
<text x="1202.8" y="1125.3" font-size="25.8" text-anchor="end">4*10<tspan font-size="15" dy="-10.8">10</tspan></text>
<line x1="1209.0" y1="1233.3" x2="1218.5" y2="1233.3" stroke="#3a3a3a" stroke-width="1.5"/>
<text x="1202.8" y="1242.5" font-size="25.8" text-anchor="end">3*10<tspan font-size="15" dy="-10.8">10</tspan></text>
<line x1="1209.0" y1="1350.9" x2="1218.5" y2="1350.9" stroke="#3a3a3a" stroke-width="1.5"/>
<text x="1202.8" y="1360.1" font-size="25.8" text-anchor="end">2*10<tspan font-size="15" dy="-10.8">10</tspan></text>
<line x1="1209.0" y1="1468.1" x2="1218.5" y2="1468.1" stroke="#3a3a3a" stroke-width="1.5"/>
<text x="1202.8" y="1477.3" font-size="25.8" text-anchor="end">1*10<tspan font-size="15" dy="-10.8">10</tspan></text>
<text x="1204.0" y="1595.2" font-size="25.8" text-anchor="end">0</text>
<rect x="1263.5" y="1581.0" width="6.8" height="4.8" fill="#1a1a1a"/>
<rect x="1360.6" y="1578.3" width="8.9" height="5.5" fill="#1a1a1a"/>
<line x1="1462.7" y1="1469.8" x2="1462.7" y2="1563.0" stroke="#1a1a1a" stroke-width="2.9"/><line x1="1457.8" y1="1469.8" x2="1467.6" y2="1469.8" stroke="#1a1a1a" stroke-width="2.9"/><line x1="1457.8" y1="1563.0" x2="1467.6" y2="1563.0" stroke="#1a1a1a" stroke-width="2.9"/>
<line x1="1560.8" y1="1319.2" x2="1560.8" y2="1550.2" stroke="#1a1a1a" stroke-width="2.9"/><line x1="1555.9" y1="1319.2" x2="1565.7" y2="1319.2" stroke="#1a1a1a" stroke-width="2.9"/><line x1="1555.9" y1="1550.2" x2="1565.7" y2="1550.2" stroke="#1a1a1a" stroke-width="2.9"/>
<circle cx="1240.1" cy="1585.0" r="5.3" fill="#f9d95e" stroke="#5a5a5a" stroke-width="1.5"/>
<circle cx="1258.2" cy="1580.8" r="5.3" fill="#f9d95e" stroke="#5a5a5a" stroke-width="1.5"/>
<circle cx="1276.3" cy="1584.3" r="5.3" fill="#f9d95e" stroke="#5a5a5a" stroke-width="1.5"/>
<circle cx="1294.3" cy="1582.5" r="5.3" fill="#f9d95e" stroke="#5a5a5a" stroke-width="1.5"/>
<circle cx="1337.8" cy="1579.7" r="5.3" fill="#f7981d" stroke="#5a5a5a" stroke-width="1.5"/>
<circle cx="1355.9" cy="1577.3" r="5.3" fill="#f7981d" stroke="#5a5a5a" stroke-width="1.5"/>
<circle cx="1373.7" cy="1584.3" r="5.3" fill="#f7981d" stroke="#5a5a5a" stroke-width="1.5"/>
<circle cx="1391.7" cy="1581.8" r="5.3" fill="#f7981d" stroke="#5a5a5a" stroke-width="1.5"/>
<circle cx="1435.6" cy="1378.0" r="5.3" fill="#75b2e2" stroke="#5a5a5a" stroke-width="1.5"/>
<circle cx="1453.3" cy="1559.9" r="5.3" fill="#75b2e2" stroke="#5a5a5a" stroke-width="1.5"/>
<circle cx="1471.4" cy="1581.5" r="5.3" fill="#75b2e2" stroke="#5a5a5a" stroke-width="1.5"/>
<circle cx="1488.8" cy="1545.3" r="5.3" fill="#75b2e2" stroke="#5a5a5a" stroke-width="1.5"/>
<circle cx="1533.7" cy="1088.6" r="5.3" fill="#28357f" stroke="#444" stroke-width="1.5"/>
<circle cx="1551.4" cy="1533.8" r="5.3" fill="#28357f" stroke="#e4e0dc" stroke-width="1.5"/>
<circle cx="1569.5" cy="1582.2" r="5.3" fill="#28357f" stroke="#e4e0dc" stroke-width="1.5"/>
<circle cx="1587.6" cy="1526.5" r="5.3" fill="#28357f" stroke="#e4e0dc" stroke-width="1.5"/>
<text x="1267.2" y="1620.9" font-size="25.8" text-anchor="middle">DMSO</text><text x="1365.0" y="1620.9" font-size="25.8" text-anchor="middle">PARGi</text><text x="1462.3" y="1620.9" font-size="25.8" text-anchor="middle">DMSO</text><text x="1560.4" y="1620.9" font-size="25.8" text-anchor="middle">PARGi</text><line x1="1409.8" y1="1633.3" x2="1608.4" y2="1633.3" stroke="#222" stroke-width="1.2"/><text x="1473.1" y="1660.9" font-size="25.8">+H<tspan font-size="15.0" dy="9.3">2</tspan><tspan dy="-9.3">O</tspan><tspan font-size="15.0" dy="9.3">2</tspan></text>
<text x="1111.0" y="1363.0" font-size="25.95" text-anchor="middle" transform="rotate(-90 1111.0 1363.0)">ADPr intensity (arb. units)</text>
<text x="1.0" y="1738.6" font-size="38.5" font-weight="bold">G</text>
<clipPath id="gbig"><circle cx="408.3" cy="2009.7" r="266.5"/></clipPath>
<circle cx="335.2" cy="2011.3" r="231.5" fill="url(#gPink)" stroke="#8c8088" stroke-width="1.3"/>
<circle cx="408.3" cy="2009.7" r="266.5" fill="url(#gLav)" stroke="#86868e" stroke-width="1.3"/>
<circle cx="335.2" cy="2011.3" r="231.5" fill="url(#gOv)" stroke="#7b6a84" stroke-width="1.2" clip-path="url(#gbig)"/>
<text x="-0.3" y="1807.0" font-size="32.3">DMSO + H<tspan font-size="20.0" dy="11.6">2</tspan><tspan dy="-11.6">O</tspan><tspan font-size="20.0" dy="11.6">2</tspan></text>
<text x="101.6" y="1845.8" font-size="32.3" text-anchor="middle">(362)</text>
<text x="586.0" y="2241.0" font-size="32.3">PARGi + H<tspan font-size="20.0" dy="11.6">2</tspan><tspan dy="-11.6">O</tspan><tspan font-size="20.0" dy="11.6">2</tspan></text>
<text x="687.7" y="2280.2" font-size="32.3" text-anchor="middle">(483)</text>
<text x="339.5" y="2020.5" font-size="31" class="sf" text-anchor="middle">336</text>
<text x="617.5" y="2020.5" font-size="31" class="sf" text-anchor="middle">147</text>
<text x="101.5" y="2163.5" font-size="31" class="sf" text-anchor="middle">26</text>
<line x1="122.5" y1="2148.5" x2="153.0" y2="2118.5" stroke="#111" stroke-width="1.1" stroke-dasharray="3.2 2.2"/>
<text x="826.0" y="1737.6" font-size="38.5" font-weight="bold">H</text>
<g stroke="#a2a2a2" stroke-width="1.0" stroke-opacity="0.8" fill="none">
<path d="M971.3,1934.2L940.5,1978.9"/>
<path d="M971.6,2438.4L1026.7,2460.2"/>
<path d="M1250.8,2248.9L1314.5,2287.1"/>
<path d="M1124.1,2075.4L1250.8,2248.9"/>
<path d="M1124.1,2075.4L1311.9,2138.8"/>
<path d="M1124.1,2075.4L1443.1,2135.0"/>
<path d="M1124.1,2075.4L1333.1,2222.0"/>
<path d="M1124.1,2075.4L1148.4,2166.8"/>
<path d="M1124.1,2075.4L1440.6,2095.9"/>
<path d="M1124.1,2075.4L1241.1,2175.5"/>
<path d="M1124.1,2075.4L1385.0,2095.8"/>
<path d="M1124.1,2075.4L1215.5,2129.3"/>
<path d="M1124.1,2075.4L1198.6,2100.2"/>
<path d="M870.4,2295.3L936.8,2249.1"/>
<path d="M919.6,2340.7L998.4,2325.3"/>
<path d="M1357.5,1981.6L1124.1,2075.4"/>
<path d="M1357.5,1981.6L1255.0,2034.9"/>
<path d="M1357.5,1981.6L1443.1,2135.0"/>
<path d="M1357.5,1981.6L1287.3,2184.0"/>
<path d="M1357.5,1981.6L1393.7,2146.0"/>
<path d="M1357.5,1981.6L1333.1,2222.0"/>
<path d="M1357.5,1981.6L1148.4,2166.8"/>
<path d="M1357.5,1981.6L1192.9,2038.1"/>
<path d="M1357.5,1981.6L1440.6,2095.9"/>
<path d="M1357.5,1981.6L1241.1,2175.5"/>
<path d="M1357.5,1981.6L1375.8,2187.2"/>
<path d="M1357.5,1981.6L1296.0,2071.2"/>
<path d="M1357.5,1981.6L1407.8,2051.8"/>
<path d="M1357.5,1981.6L1437.4,1986.1"/>
<path d="M1357.5,1981.6L1385.0,2095.8"/>
<path d="M1357.5,1981.6L1198.6,2100.2"/>
<path d="M1255.0,2034.9L1124.1,2075.4"/>
<path d="M1255.0,2034.9L1311.9,2138.8"/>
<path d="M1255.0,2034.9L1443.1,2135.0"/>
<path d="M1255.0,2034.9L1148.4,2166.8"/>
<path d="M1255.0,2034.9L1241.1,2175.5"/>
<path d="M1255.0,2034.9L1296.0,2071.2"/>
<path d="M1255.0,2034.9L1407.8,2051.8"/>
<path d="M1255.0,2034.9L1385.0,2095.8"/>
<path d="M1255.0,2034.9L1198.6,2100.2"/>
<path d="M1255.0,2034.9L1343.7,2042.1"/>
<path d="M1311.9,2138.8L1250.8,2248.9"/>
<path d="M1311.9,2138.8L1443.1,2135.0"/>
<path d="M1311.9,2138.8L1148.4,2166.8"/>
<path d="M1311.9,2138.8L1241.1,2175.5"/>
<path d="M1443.1,2135.0L1250.8,2248.9"/>
<path d="M1443.1,2135.0L1287.3,2184.0"/>
<path d="M1443.1,2135.0L1393.7,2146.0"/>
<path d="M1443.1,2135.0L1148.4,2166.8"/>
<path d="M1443.1,2135.0L1241.1,2175.5"/>
<path d="M951.2,1844.0L945.5,1894.9"/>
<path d="M1287.3,2184.0L1375.8,2187.2"/>
<path d="M1393.7,2146.0L1250.8,2248.9"/>
<path d="M1393.7,2146.0L1287.3,2184.0"/>
<path d="M1393.7,2146.0L1333.1,2222.0"/>
<path d="M1393.7,2146.0L1148.4,2166.8"/>
<path d="M1393.7,2146.0L1241.1,2175.5"/>
<path d="M1393.7,2146.0L1375.8,2187.2"/>
<path d="M1310.8,1981.8L1250.8,2248.9"/>
<path d="M1310.8,1981.8L1357.5,1981.6"/>
<path d="M1310.8,1981.8L1255.0,2034.9"/>
<path d="M1310.8,1981.8L1311.9,2138.8"/>
<path d="M1310.8,1981.8L1443.1,2135.0"/>
<path d="M1310.8,1981.8L1287.3,2184.0"/>
<path d="M1310.8,1981.8L1393.7,2146.0"/>
<path d="M1310.8,1981.8L1333.1,2222.0"/>
<path d="M1310.8,1981.8L1148.4,2166.8"/>
<path d="M1310.8,1981.8L1192.9,2038.1"/>
<path d="M1310.8,1981.8L1440.6,2095.9"/>
<path d="M1310.8,1981.8L1241.1,2175.5"/>
<path d="M1310.8,1981.8L1375.8,2187.2"/>
<path d="M1310.8,1981.8L1437.4,1986.1"/>
<path d="M1310.8,1981.8L1385.0,2095.8"/>
<path d="M1310.8,1981.8L1215.5,2129.3"/>
<path d="M1310.8,1981.8L1343.7,2042.1"/>
<path d="M936.8,2249.1L992.7,2269.4"/>
<path d="M1148.4,2166.8L1250.8,2248.9"/>
<path d="M1148.4,2166.8L1333.1,2222.0"/>
<path d="M1192.9,2038.1L1311.9,2138.8"/>
<path d="M1192.9,2038.1L1443.1,2135.0"/>
<path d="M1192.9,2038.1L1287.3,2184.0"/>
<path d="M1192.9,2038.1L1393.7,2146.0"/>
<path d="M1192.9,2038.1L1440.6,2095.9"/>
<path d="M1192.9,2038.1L1385.0,2095.8"/>
<path d="M1192.9,2038.1L1215.5,2129.3"/>
<path d="M1192.9,2038.1L1198.6,2100.2"/>
<path d="M1440.6,2095.9L1250.8,2248.9"/>
<path d="M1440.6,2095.9L1311.9,2138.8"/>
<path d="M1440.6,2095.9L1287.3,2184.0"/>
<path d="M1440.6,2095.9L1333.1,2222.0"/>
<path d="M1440.6,2095.9L1148.4,2166.8"/>
<path d="M1440.6,2095.9L1241.1,2175.5"/>
<path d="M1440.6,2095.9L1375.8,2187.2"/>
<path d="M1440.6,2095.9L1215.5,2129.3"/>
<path d="M992.7,2269.4L998.4,2325.3"/>
<path d="M992.7,2269.4L1065.2,2257.8"/>
<path d="M1241.1,2175.5L1250.8,2248.9"/>
<path d="M1241.1,2175.5L1287.3,2184.0"/>
<path d="M1241.1,2175.5L1333.1,2222.0"/>
<path d="M839.9,2347.0L870.4,2295.3"/>
<path d="M1200.1,2294.6L1250.8,2248.9"/>
<path d="M1016.3,2375.5L971.6,2438.4"/>
<path d="M1016.3,2375.5L1065.2,2402.9"/>
<path d="M1375.8,2187.2L1250.8,2248.9"/>
<path d="M1375.8,2187.2L1444.7,2206.0"/>
<path d="M1375.8,2187.2L1333.1,2222.0"/>
<path d="M1065.2,2402.9L1108.0,2445.1"/>
<path d="M998.4,2325.3L1016.3,2375.5"/>
<path d="M998.4,2325.3L911.7,2405.8"/>
<path d="M1036.1,2220.0L1065.2,2257.8"/>
<path d="M1349.2,2356.5L1413.7,2381.3"/>
<path d="M1296.0,2071.2L1124.1,2075.4"/>
<path d="M1296.0,2071.2L1311.9,2138.8"/>
<path d="M1296.0,2071.2L1393.7,2146.0"/>
<path d="M1296.0,2071.2L1148.4,2166.8"/>
<path d="M1296.0,2071.2L1440.6,2095.9"/>
<path d="M1296.0,2071.2L1241.1,2175.5"/>
<path d="M1296.0,2071.2L1375.8,2187.2"/>
<path d="M1296.0,2071.2L1385.0,2095.8"/>
<path d="M1296.0,2071.2L1215.5,2129.3"/>
<path d="M1296.0,2071.2L1198.6,2100.2"/>
<path d="M1280.9,2335.6L1349.2,2356.5"/>
<path d="M1329.3,1913.7L1124.1,2075.4"/>
<path d="M1329.3,1913.7L1357.5,1981.6"/>
<path d="M1329.3,1913.7L1255.0,2034.9"/>
<path d="M1329.3,1913.7L1311.9,2138.8"/>
<path d="M1329.3,1913.7L1443.1,2135.0"/>
<path d="M1329.3,1913.7L1287.3,2184.0"/>
<path d="M1329.3,1913.7L1393.7,2146.0"/>
<path d="M1329.3,1913.7L1333.1,2222.0"/>
<path d="M1329.3,1913.7L1192.9,2038.1"/>
<path d="M1329.3,1913.7L1440.6,2095.9"/>
<path d="M1329.3,1913.7L1241.1,2175.5"/>
<path d="M1329.3,1913.7L1375.8,2187.2"/>
<path d="M1329.3,1913.7L1385.0,2095.8"/>
<path d="M1329.3,1913.7L1215.5,2129.3"/>
<path d="M1329.3,1913.7L1198.6,2100.2"/>
<path d="M1329.3,1913.7L1343.7,2042.1"/>
<path d="M1407.8,2051.8L1250.8,2248.9"/>
<path d="M1407.8,2051.8L1526.4,2123.1"/>
<path d="M1407.8,2051.8L1443.1,2135.0"/>
<path d="M1407.8,2051.8L1393.7,2146.0"/>
<path d="M1407.8,2051.8L1333.1,2222.0"/>
<path d="M1407.8,2051.8L1440.6,2095.9"/>
<path d="M1407.8,2051.8L1241.1,2175.5"/>
<path d="M1407.8,2051.8L1522.2,2061.0"/>
<path d="M1407.8,2051.8L1385.0,2095.8"/>
<path d="M1407.8,2051.8L1215.5,2129.3"/>
<path d="M1407.8,2051.8L1198.6,2100.2"/>
<path d="M1258.2,1958.8L1250.8,2248.9"/>
<path d="M1258.2,1958.8L1357.5,1981.6"/>
<path d="M1258.2,1958.8L1311.9,2138.8"/>
<path d="M1258.2,1958.8L1443.1,2135.0"/>
<path d="M1258.2,1958.8L1287.3,2184.0"/>
<path d="M1258.2,1958.8L1393.7,2146.0"/>
<path d="M1258.2,1958.8L1310.8,1981.8"/>
<path d="M1258.2,1958.8L1148.4,2166.8"/>
<path d="M1258.2,1958.8L1440.6,2095.9"/>
<path d="M1258.2,1958.8L1241.1,2175.5"/>
<path d="M1258.2,1958.8L1375.8,2187.2"/>
<path d="M1258.2,1958.8L1296.0,2071.2"/>
<path d="M1258.2,1958.8L1407.8,2051.8"/>
<path d="M1258.2,1958.8L1385.0,2095.8"/>
<path d="M1258.2,1958.8L1215.5,2129.3"/>
<path d="M1258.2,1958.8L1343.7,2042.1"/>
<path d="M1424.5,1907.0L1510.2,1929.3"/>
<path d="M1424.5,1907.0L1437.4,1986.1"/>
<path d="M1424.5,1907.0L1513.2,1999.9"/>
<path d="M1506.0,1876.4L1510.2,1929.3"/>
<path d="M1065.2,1875.9L1329.3,1913.7"/>
<path d="M1065.2,1875.9L1258.2,1958.8"/>
<path d="M1065.2,1875.9L1117.6,1875.9"/>
<path d="M1065.2,1875.9L1167.6,1920.9"/>
<path d="M1065.2,1875.9L1343.7,2042.1"/>
<path d="M1301.0,1762.9L1357.5,1981.6"/>
<path d="M1301.0,1762.9L1311.9,2138.8"/>
<path d="M1301.0,1762.9L1310.8,1981.8"/>
<path d="M1301.0,1762.9L1192.9,2038.1"/>
<path d="M1301.0,1762.9L1296.0,2071.2"/>
<path d="M1301.0,1762.9L1329.3,1913.7"/>
<path d="M1301.0,1762.9L1407.8,2051.8"/>
<path d="M1301.0,1762.9L1065.2,1875.9"/>
<path d="M1301.0,1762.9L1149.2,1809.6"/>
<path d="M1301.0,1762.9L1090.8,1823.2"/>
<path d="M1301.0,1762.9L1117.6,1875.9"/>
<path d="M1301.0,1762.9L1208.1,1826.2"/>
<path d="M1301.0,1762.9L1271.9,1821.0"/>
<path d="M1301.0,1762.9L1167.6,1920.9"/>
<path d="M1301.0,1762.9L1215.5,2129.3"/>
<path d="M1301.0,1762.9L1198.6,2100.2"/>
<path d="M1301.0,1762.9L1343.7,2042.1"/>
<path d="M1196.9,1766.1L1255.0,2034.9"/>
<path d="M1196.9,1766.1L1329.3,1913.7"/>
<path d="M1196.9,1766.1L1065.2,1875.9"/>
<path d="M1196.9,1766.1L1301.0,1762.9"/>
<path d="M1196.9,1766.1L1149.2,1809.6"/>
<path d="M1196.9,1766.1L1090.8,1823.2"/>
<path d="M1196.9,1766.1L1117.6,1875.9"/>
<path d="M1196.9,1766.1L1208.1,1826.2"/>
<path d="M1196.9,1766.1L1271.9,1821.0"/>
<path d="M1196.9,1766.1L1167.6,1920.9"/>
<path d="M1196.9,1766.1L1385.0,2095.8"/>
<path d="M1196.9,1766.1L1215.5,2129.3"/>
<path d="M1149.2,1809.6L1124.1,2075.4"/>
<path d="M1149.2,1809.6L1311.9,2138.8"/>
<path d="M1149.2,1809.6L1148.4,2166.8"/>
<path d="M1149.2,1809.6L1296.0,2071.2"/>
<path d="M1149.2,1809.6L1329.3,1913.7"/>
<path d="M1149.2,1809.6L1065.2,1875.9"/>
<path d="M1149.2,1809.6L1117.6,1875.9"/>
<path d="M1149.2,1809.6L1208.1,1826.2"/>
<path d="M1149.2,1809.6L1271.9,1821.0"/>
<path d="M1149.2,1809.6L1167.6,1920.9"/>
<path d="M1149.2,1809.6L1385.0,2095.8"/>
<path d="M1247.8,1722.4L1329.3,1913.7"/>
<path d="M1247.8,1722.4L1258.2,1958.8"/>
<path d="M1247.8,1722.4L1065.2,1875.9"/>
<path d="M1247.8,1722.4L1301.0,1762.9"/>
<path d="M1247.8,1722.4L1196.9,1766.1"/>
<path d="M1247.8,1722.4L1149.2,1809.6"/>
<path d="M1247.8,1722.4L1090.8,1823.2"/>
<path d="M1247.8,1722.4L1117.6,1875.9"/>
<path d="M1247.8,1722.4L1208.1,1826.2"/>
<path d="M1247.8,1722.4L1071.7,1756.6"/>
<path d="M1247.8,1722.4L1343.7,2042.1"/>
<path d="M1090.8,1823.2L1310.8,1981.8"/>
<path d="M1090.8,1823.2L1329.3,1913.7"/>
<path d="M1090.8,1823.2L1065.2,1875.9"/>
<path d="M1090.8,1823.2L1149.2,1809.6"/>
<path d="M1090.8,1823.2L1117.6,1875.9"/>
<path d="M1090.8,1823.2L1208.1,1826.2"/>
<path d="M1090.8,1823.2L1271.9,1821.0"/>
<path d="M1117.6,1875.9L1329.3,1913.7"/>
<path d="M1117.6,1875.9L1258.2,1958.8"/>
<path d="M1117.6,1875.9L1167.6,1920.9"/>
<path d="M1117.6,1875.9L1343.7,2042.1"/>
<path d="M1208.1,1826.2L1310.8,1981.8"/>
<path d="M1208.1,1826.2L1241.1,2175.5"/>
<path d="M1208.1,1826.2L1329.3,1913.7"/>
<path d="M1208.1,1826.2L1258.2,1958.8"/>
<path d="M1208.1,1826.2L1065.2,1875.9"/>
<path d="M1208.1,1826.2L1117.6,1875.9"/>
<path d="M1208.1,1826.2L1271.9,1821.0"/>
<path d="M1208.1,1826.2L1167.6,1920.9"/>
<path d="M1271.9,1821.0L1357.5,1981.6"/>
<path d="M1271.9,1821.0L1255.0,2034.9"/>
<path d="M1271.9,1821.0L1148.4,2166.8"/>
<path d="M1271.9,1821.0L1329.3,1913.7"/>
<path d="M1271.9,1821.0L1065.2,1875.9"/>
<path d="M1271.9,1821.0L1117.6,1875.9"/>
<path d="M1271.9,1821.0L1167.6,1920.9"/>
<path d="M1271.9,1821.0L1385.0,2095.8"/>
<path d="M1167.6,1920.9L1124.1,2075.4"/>
<path d="M1167.6,1920.9L1357.5,1981.6"/>
<path d="M1167.6,1920.9L1311.9,2138.8"/>
<path d="M1167.6,1920.9L1192.9,2038.1"/>
<path d="M1167.6,1920.9L1241.1,2175.5"/>
<path d="M1167.6,1920.9L1296.0,2071.2"/>
<path d="M1167.6,1920.9L1329.3,1913.7"/>
<path d="M1167.6,1920.9L1258.2,1958.8"/>
<path d="M1154.2,1721.9L1255.0,2034.9"/>
<path d="M1154.2,1721.9L1311.9,2138.8"/>
<path d="M1154.2,1721.9L1192.9,2038.1"/>
<path d="M1154.2,1721.9L1329.3,1913.7"/>
<path d="M1154.2,1721.9L1258.2,1958.8"/>
<path d="M1154.2,1721.9L1065.2,1875.9"/>
<path d="M1154.2,1721.9L1301.0,1762.9"/>
<path d="M1154.2,1721.9L1196.9,1766.1"/>
<path d="M1154.2,1721.9L1149.2,1809.6"/>
<path d="M1154.2,1721.9L1247.8,1722.4"/>
<path d="M1154.2,1721.9L1090.8,1823.2"/>
<path d="M1154.2,1721.9L1117.6,1875.9"/>
<path d="M1154.2,1721.9L1208.1,1826.2"/>
<path d="M1154.2,1721.9L1271.9,1821.0"/>
<path d="M1154.2,1721.9L1167.6,1920.9"/>
<path d="M1154.2,1721.9L1071.7,1756.6"/>
<path d="M1154.2,1721.9L1385.0,2095.8"/>
<path d="M1154.2,1721.9L1215.5,2129.3"/>
<path d="M1071.7,1756.6L1310.8,1981.8"/>
<path d="M1071.7,1756.6L1296.0,2071.2"/>
<path d="M1071.7,1756.6L1329.3,1913.7"/>
<path d="M1071.7,1756.6L1258.2,1958.8"/>
<path d="M1071.7,1756.6L1065.2,1875.9"/>
<path d="M1071.7,1756.6L1301.0,1762.9"/>
<path d="M1071.7,1756.6L1196.9,1766.1"/>
<path d="M1071.7,1756.6L1149.2,1809.6"/>
<path d="M1071.7,1756.6L1090.8,1823.2"/>
<path d="M1071.7,1756.6L1117.6,1875.9"/>
<path d="M1071.7,1756.6L1208.1,1826.2"/>
<path d="M1071.7,1756.6L1271.9,1821.0"/>
<path d="M1071.7,1756.6L1167.6,1920.9"/>
<path d="M1071.7,1756.6L1343.7,2042.1"/>
<path d="M1437.4,1986.1L1250.8,2248.9"/>
<path d="M1437.4,1986.1L1124.1,2075.4"/>
<path d="M1437.4,1986.1L1311.9,2138.8"/>
<path d="M1437.4,1986.1L1443.1,2135.0"/>
<path d="M1437.4,1986.1L1393.7,2146.0"/>
<path d="M1437.4,1986.1L1192.9,2038.1"/>
<path d="M1437.4,1986.1L1440.6,2095.9"/>
<path d="M1437.4,1986.1L1241.1,2175.5"/>
<path d="M1437.4,1986.1L1375.8,2187.2"/>
<path d="M1437.4,1986.1L1296.0,2071.2"/>
<path d="M1437.4,1986.1L1407.8,2051.8"/>
<path d="M1437.4,1986.1L1198.6,2100.2"/>
<path d="M1437.4,1986.1L1513.2,1999.9"/>
<path d="M1437.4,1986.1L1343.7,2042.1"/>
<path d="M1385.0,2095.8L1311.9,2138.8"/>
<path d="M1385.0,2095.8L1443.1,2135.0"/>
<path d="M1385.0,2095.8L1393.7,2146.0"/>
<path d="M1385.0,2095.8L1148.4,2166.8"/>
<path d="M1385.0,2095.8L1440.6,2095.9"/>
<path d="M1385.0,2095.8L1241.1,2175.5"/>
<path d="M1385.0,2095.8L1375.8,2187.2"/>
<path d="M1385.0,2095.8L1215.5,2129.3"/>
<path d="M945.5,1894.9L971.3,1934.2"/>
<path d="M1108.0,2445.1L1161.4,2397.6"/>
<path d="M969.1,2093.7L1041.9,2091.9"/>
<path d="M1161.4,2345.2L1161.4,2397.6"/>
<path d="M1215.5,2129.3L1311.9,2138.8"/>
<path d="M1215.5,2129.3L1287.3,2184.0"/>
<path d="M1215.5,2129.3L1148.4,2166.8"/>
<path d="M1215.5,2129.3L1241.1,2175.5"/>
<path d="M1215.5,2129.3L1375.8,2187.2"/>
<path d="M1133.8,2249.6L1200.1,2294.6"/>
<path d="M1133.8,2249.6L1016.3,2375.5"/>
<path d="M1133.8,2249.6L1161.4,2345.2"/>
<path d="M1133.8,2249.6L1097.8,2338.5"/>
<path d="M1065.2,2257.8L998.4,2325.3"/>
<path d="M1065.2,2257.8L1133.8,2249.6"/>
<path d="M1414.0,2320.7L1349.2,2356.5"/>
<path d="M1414.0,2320.7L1413.7,2381.3"/>
<path d="M1198.6,2100.2L1311.9,2138.8"/>
<path d="M1198.6,2100.2L1443.1,2135.0"/>
<path d="M1198.6,2100.2L1287.3,2184.0"/>
<path d="M1198.6,2100.2L1393.7,2146.0"/>
<path d="M1198.6,2100.2L1241.1,2175.5"/>
<path d="M1198.6,2100.2L1385.0,2095.8"/>
<path d="M1198.6,2100.2L1215.5,2129.3"/>
<path d="M1413.7,2381.3L1342.1,2412.4"/>
<path d="M1421.4,2264.8L1414.0,2320.7"/>
<path d="M1343.7,2042.1L1250.8,2248.9"/>
<path d="M1343.7,2042.1L1124.1,2075.4"/>
<path d="M1343.7,2042.1L1393.7,2146.0"/>
<path d="M1343.7,2042.1L1148.4,2166.8"/>
<path d="M1343.7,2042.1L1440.6,2095.9"/>
<path d="M1343.7,2042.1L1241.1,2175.5"/>
<path d="M1343.7,2042.1L1407.8,2051.8"/>
<path d="M1343.7,2042.1L1215.5,2129.3"/>
<path d="M911.7,2405.8L971.6,2438.4"/>
<path d="M911.7,2405.8L1016.3,2375.5"/>
<path d="M1361.8,1861.1L1329.3,1913.7"/>
</g>
<circle cx="1154.2" cy="1721.9" r="16.0" fill="url(#ng)" stroke="#2f7d34" stroke-width="0.8" stroke-opacity="0.7"/><ellipse cx="1154.2" cy="1712.9" rx="9.6" ry="5.2" fill="url(#nhl)"/>
<circle cx="1247.8" cy="1722.4" r="16.0" fill="url(#ng)" stroke="#2f7d34" stroke-width="0.8" stroke-opacity="0.7"/><ellipse cx="1247.8" cy="1713.4" rx="9.6" ry="5.2" fill="url(#nhl)"/>
<circle cx="1071.7" cy="1756.6" r="16.0" fill="url(#ng)" stroke="#2f7d34" stroke-width="0.8" stroke-opacity="0.7"/><ellipse cx="1071.7" cy="1747.6" rx="9.6" ry="5.2" fill="url(#nhl)"/>
<circle cx="1196.9" cy="1766.1" r="16.0" fill="url(#ng)" stroke="#2f7d34" stroke-width="0.8" stroke-opacity="0.7"/><ellipse cx="1196.9" cy="1757.1" rx="9.6" ry="5.2" fill="url(#nhl)"/>
<circle cx="1301.0" cy="1762.9" r="16.0" fill="url(#ng)" stroke="#2f7d34" stroke-width="0.8" stroke-opacity="0.7"/><ellipse cx="1301.0" cy="1753.9" rx="9.6" ry="5.2" fill="url(#nhl)"/>
<circle cx="1090.8" cy="1823.2" r="16.0" fill="url(#ng)" stroke="#2f7d34" stroke-width="0.8" stroke-opacity="0.7"/><ellipse cx="1090.8" cy="1814.2" rx="9.6" ry="5.2" fill="url(#nhl)"/>
<path d="M1149.2,1793.6 A16.0,16.0 0 0 0 1149.2,1825.6 Z" fill="url(#ng)" stroke="#2f7d34" stroke-width="0.8" stroke-opacity="0.7"/><path d="M1149.2,1793.6 A16.0,16.0 0 0 1 1149.2,1825.6 Z" fill="url(#nr)" stroke="#8f2227" stroke-width="0.8" stroke-opacity="0.7"/><ellipse cx="1149.2" cy="1800.6" rx="9.6" ry="5.2" fill="url(#nhl)"/>
<circle cx="1208.1" cy="1826.2" r="16.0" fill="url(#ng)" stroke="#2f7d34" stroke-width="0.8" stroke-opacity="0.7"/><ellipse cx="1208.1" cy="1817.2" rx="9.6" ry="5.2" fill="url(#nhl)"/>
<path d="M1271.9,1805.0 A16.0,16.0 0 0 0 1271.9,1837.0 Z" fill="url(#ng)" stroke="#2f7d34" stroke-width="0.8" stroke-opacity="0.7"/><path d="M1271.9,1805.0 A16.0,16.0 0 0 1 1271.9,1837.0 Z" fill="url(#nr)" stroke="#8f2227" stroke-width="0.8" stroke-opacity="0.7"/><ellipse cx="1271.9" cy="1812.0" rx="9.6" ry="5.2" fill="url(#nhl)"/>
<circle cx="1065.2" cy="1875.9" r="16.0" fill="url(#ng)" stroke="#2f7d34" stroke-width="0.8" stroke-opacity="0.7"/><ellipse cx="1065.2" cy="1866.9" rx="9.6" ry="5.2" fill="url(#nhl)"/>
<circle cx="1117.6" cy="1875.9" r="16.0" fill="url(#ng)" stroke="#2f7d34" stroke-width="0.8" stroke-opacity="0.7"/><ellipse cx="1117.6" cy="1866.9" rx="9.6" ry="5.2" fill="url(#nhl)"/>
<circle cx="1167.6" cy="1920.9" r="16.0" fill="url(#ng)" stroke="#2f7d34" stroke-width="0.8" stroke-opacity="0.7"/><ellipse cx="1167.6" cy="1911.9" rx="9.6" ry="5.2" fill="url(#nhl)"/>
<circle cx="951.2" cy="1844.0" r="16.0" fill="url(#nr)" stroke="#8f2227" stroke-width="0.8" stroke-opacity="0.7"/><ellipse cx="951.2" cy="1835.0" rx="9.6" ry="5.2" fill="url(#nhl)"/>
<circle cx="945.5" cy="1894.9" r="16.0" fill="url(#nw)" stroke="#848484" stroke-width="0.8" stroke-opacity="0.7"/><ellipse cx="945.5" cy="1885.9" rx="9.6" ry="5.2" fill="url(#nhl)"/>
<circle cx="971.3" cy="1934.2" r="16.0" fill="url(#nr)" stroke="#8f2227" stroke-width="0.8" stroke-opacity="0.7"/><ellipse cx="971.3" cy="1925.2" rx="9.6" ry="5.2" fill="url(#nhl)"/>
<circle cx="940.5" cy="1978.9" r="16.0" fill="url(#nr)" stroke="#8f2227" stroke-width="0.8" stroke-opacity="0.7"/><ellipse cx="940.5" cy="1969.9" rx="9.6" ry="5.2" fill="url(#nhl)"/>
<circle cx="1361.8" cy="1861.1" r="16.0" fill="url(#nb)" stroke="#1d1d94" stroke-width="0.8" stroke-opacity="0.7"/><ellipse cx="1361.8" cy="1852.1" rx="9.6" ry="5.2" fill="url(#nhl)"/>
<circle cx="1424.5" cy="1907.0" r="16.0" fill="url(#nb)" stroke="#1d1d94" stroke-width="0.8" stroke-opacity="0.7"/><ellipse cx="1424.5" cy="1898.0" rx="9.6" ry="5.2" fill="url(#nhl)"/>
<circle cx="1506.0" cy="1876.4" r="16.0" fill="url(#nw)" stroke="#848484" stroke-width="0.8" stroke-opacity="0.7"/><ellipse cx="1506.0" cy="1867.4" rx="9.6" ry="5.2" fill="url(#nhl)"/>
<circle cx="1510.2" cy="1929.3" r="16.0" fill="url(#nw)" stroke="#848484" stroke-width="0.8" stroke-opacity="0.7"/><ellipse cx="1510.2" cy="1920.3" rx="9.6" ry="5.2" fill="url(#nhl)"/>
<circle cx="1329.3" cy="1913.7" r="16.0" fill="url(#nw)" stroke="#848484" stroke-width="0.8" stroke-opacity="0.7"/><ellipse cx="1329.3" cy="1904.7" rx="9.6" ry="5.2" fill="url(#nhl)"/>
<circle cx="1258.2" cy="1958.8" r="16.0" fill="url(#nw)" stroke="#848484" stroke-width="0.8" stroke-opacity="0.7"/><ellipse cx="1258.2" cy="1949.8" rx="9.6" ry="5.2" fill="url(#nhl)"/>
<circle cx="1310.8" cy="1981.8" r="16.0" fill="url(#nr)" stroke="#8f2227" stroke-width="0.8" stroke-opacity="0.7"/><ellipse cx="1310.8" cy="1972.8" rx="9.6" ry="5.2" fill="url(#nhl)"/>
<circle cx="1357.5" cy="1981.6" r="16.0" fill="url(#nr)" stroke="#8f2227" stroke-width="0.8" stroke-opacity="0.7"/><ellipse cx="1357.5" cy="1972.6" rx="9.6" ry="5.2" fill="url(#nhl)"/>
<circle cx="1437.4" cy="1986.1" r="16.0" fill="url(#nw)" stroke="#848484" stroke-width="0.8" stroke-opacity="0.7"/><ellipse cx="1437.4" cy="1977.1" rx="9.6" ry="5.2" fill="url(#nhl)"/>
<circle cx="1513.2" cy="1999.9" r="16.0" fill="url(#nw)" stroke="#848484" stroke-width="0.8" stroke-opacity="0.7"/><ellipse cx="1513.2" cy="1990.9" rx="9.6" ry="5.2" fill="url(#nhl)"/>
<circle cx="1192.9" cy="2038.1" r="16.0" fill="url(#nr)" stroke="#8f2227" stroke-width="0.8" stroke-opacity="0.7"/><ellipse cx="1192.9" cy="2029.1" rx="9.6" ry="5.2" fill="url(#nhl)"/>
<circle cx="1255.0" cy="2034.9" r="16.0" fill="url(#nr)" stroke="#8f2227" stroke-width="0.8" stroke-opacity="0.7"/><ellipse cx="1255.0" cy="2025.9" rx="9.6" ry="5.2" fill="url(#nhl)"/>
<circle cx="1343.7" cy="2042.1" r="16.0" fill="url(#nr)" stroke="#8f2227" stroke-width="0.8" stroke-opacity="0.7"/><ellipse cx="1343.7" cy="2033.1" rx="9.6" ry="5.2" fill="url(#nhl)"/>
<circle cx="1407.8" cy="2051.8" r="16.0" fill="url(#nw)" stroke="#848484" stroke-width="0.8" stroke-opacity="0.7"/><ellipse cx="1407.8" cy="2042.8" rx="9.6" ry="5.2" fill="url(#nhl)"/>
<circle cx="1522.2" cy="2061.0" r="16.0" fill="url(#nw)" stroke="#848484" stroke-width="0.8" stroke-opacity="0.7"/><ellipse cx="1522.2" cy="2052.0" rx="9.6" ry="5.2" fill="url(#nhl)"/>
<circle cx="1296.0" cy="2071.2" r="16.0" fill="url(#nr)" stroke="#8f2227" stroke-width="0.8" stroke-opacity="0.7"/><ellipse cx="1296.0" cy="2062.2" rx="9.6" ry="5.2" fill="url(#nhl)"/>
<circle cx="1124.1" cy="2075.4" r="16.0" fill="url(#nw)" stroke="#848484" stroke-width="0.8" stroke-opacity="0.7"/><ellipse cx="1124.1" cy="2066.4" rx="9.6" ry="5.2" fill="url(#nhl)"/>
<path d="M1198.6,2084.2 A16.0,16.0 0 0 0 1198.6,2116.2 Z" fill="url(#nb)" stroke="#1d1d94" stroke-width="0.8" stroke-opacity="0.7"/><path d="M1198.6,2084.2 A16.0,16.0 0 0 1 1198.6,2116.2 Z" fill="url(#nr)" stroke="#8f2227" stroke-width="0.8" stroke-opacity="0.7"/><ellipse cx="1198.6" cy="2091.2" rx="9.6" ry="5.2" fill="url(#nhl)"/>
<circle cx="1385.0" cy="2095.8" r="16.0" fill="url(#nw)" stroke="#848484" stroke-width="0.8" stroke-opacity="0.7"/><ellipse cx="1385.0" cy="2086.8" rx="9.6" ry="5.2" fill="url(#nhl)"/>
<circle cx="1440.6" cy="2095.9" r="16.0" fill="url(#nw)" stroke="#848484" stroke-width="0.8" stroke-opacity="0.7"/><ellipse cx="1440.6" cy="2086.9" rx="9.6" ry="5.2" fill="url(#nhl)"/>
<circle cx="1526.4" cy="2123.1" r="16.0" fill="url(#nw)" stroke="#848484" stroke-width="0.8" stroke-opacity="0.7"/><ellipse cx="1526.4" cy="2114.1" rx="9.6" ry="5.2" fill="url(#nhl)"/>
<circle cx="1215.5" cy="2129.3" r="16.0" fill="url(#nr)" stroke="#8f2227" stroke-width="0.8" stroke-opacity="0.7"/><ellipse cx="1215.5" cy="2120.3" rx="9.6" ry="5.2" fill="url(#nhl)"/>
<circle cx="1311.9" cy="2138.8" r="16.0" fill="url(#nr)" stroke="#8f2227" stroke-width="0.8" stroke-opacity="0.7"/><ellipse cx="1311.9" cy="2129.8" rx="9.6" ry="5.2" fill="url(#nhl)"/>
<circle cx="1443.1" cy="2135.0" r="16.0" fill="url(#nw)" stroke="#848484" stroke-width="0.8" stroke-opacity="0.7"/><ellipse cx="1443.1" cy="2126.0" rx="9.6" ry="5.2" fill="url(#nhl)"/>
<circle cx="1393.7" cy="2146.0" r="16.0" fill="url(#nr)" stroke="#8f2227" stroke-width="0.8" stroke-opacity="0.7"/><ellipse cx="1393.7" cy="2137.0" rx="9.6" ry="5.2" fill="url(#nhl)"/>
<circle cx="1148.4" cy="2166.8" r="16.0" fill="url(#nr)" stroke="#8f2227" stroke-width="0.8" stroke-opacity="0.7"/><ellipse cx="1148.4" cy="2157.8" rx="9.6" ry="5.2" fill="url(#nhl)"/>
<circle cx="1241.1" cy="2175.5" r="16.0" fill="url(#nw)" stroke="#848484" stroke-width="0.8" stroke-opacity="0.7"/><ellipse cx="1241.1" cy="2166.5" rx="9.6" ry="5.2" fill="url(#nhl)"/>
<circle cx="1287.3" cy="2184.0" r="16.0" fill="url(#nr)" stroke="#8f2227" stroke-width="0.8" stroke-opacity="0.7"/><ellipse cx="1287.3" cy="2175.0" rx="9.6" ry="5.2" fill="url(#nhl)"/>
<circle cx="1375.8" cy="2187.2" r="16.0" fill="url(#nw)" stroke="#848484" stroke-width="0.8" stroke-opacity="0.7"/><ellipse cx="1375.8" cy="2178.2" rx="9.6" ry="5.2" fill="url(#nhl)"/>
<circle cx="1444.7" cy="2206.0" r="16.0" fill="url(#nb)" stroke="#1d1d94" stroke-width="0.8" stroke-opacity="0.7"/><ellipse cx="1444.7" cy="2197.0" rx="9.6" ry="5.2" fill="url(#nhl)"/>
<circle cx="1333.1" cy="2222.0" r="16.0" fill="url(#nb)" stroke="#1d1d94" stroke-width="0.8" stroke-opacity="0.7"/><ellipse cx="1333.1" cy="2213.0" rx="9.6" ry="5.2" fill="url(#nhl)"/>
<circle cx="1250.8" cy="2248.9" r="16.0" fill="url(#nr)" stroke="#8f2227" stroke-width="0.8" stroke-opacity="0.7"/><ellipse cx="1250.8" cy="2239.9" rx="9.6" ry="5.2" fill="url(#nhl)"/>
<circle cx="969.1" cy="2093.7" r="16.0" fill="url(#nb)" stroke="#1d1d94" stroke-width="0.8" stroke-opacity="0.7"/><ellipse cx="969.1" cy="2084.7" rx="9.6" ry="5.2" fill="url(#nhl)"/>
<circle cx="1041.9" cy="2091.9" r="16.0" fill="url(#nw)" stroke="#848484" stroke-width="0.8" stroke-opacity="0.7"/><ellipse cx="1041.9" cy="2082.9" rx="9.6" ry="5.2" fill="url(#nhl)"/>
<circle cx="1036.1" cy="2220.0" r="16.0" fill="url(#nb)" stroke="#1d1d94" stroke-width="0.8" stroke-opacity="0.7"/><ellipse cx="1036.1" cy="2211.0" rx="9.6" ry="5.2" fill="url(#nhl)"/>
<circle cx="936.8" cy="2249.1" r="16.0" fill="url(#nr)" stroke="#8f2227" stroke-width="0.8" stroke-opacity="0.7"/><ellipse cx="936.8" cy="2240.1" rx="9.6" ry="5.2" fill="url(#nhl)"/>
<circle cx="1065.2" cy="2257.8" r="16.0" fill="url(#nb)" stroke="#1d1d94" stroke-width="0.8" stroke-opacity="0.7"/><ellipse cx="1065.2" cy="2248.8" rx="9.6" ry="5.2" fill="url(#nhl)"/>
<circle cx="1133.8" cy="2249.6" r="16.0" fill="url(#nb)" stroke="#1d1d94" stroke-width="0.8" stroke-opacity="0.7"/><ellipse cx="1133.8" cy="2240.6" rx="9.6" ry="5.2" fill="url(#nhl)"/>
<circle cx="992.7" cy="2269.4" r="16.0" fill="url(#nb)" stroke="#1d1d94" stroke-width="0.8" stroke-opacity="0.7"/><ellipse cx="992.7" cy="2260.4" rx="9.6" ry="5.2" fill="url(#nhl)"/>
<circle cx="870.4" cy="2295.3" r="16.0" fill="url(#nr)" stroke="#8f2227" stroke-width="0.8" stroke-opacity="0.7"/><ellipse cx="870.4" cy="2286.3" rx="9.6" ry="5.2" fill="url(#nhl)"/>
<circle cx="1200.1" cy="2294.6" r="16.0" fill="url(#nb)" stroke="#1d1d94" stroke-width="0.8" stroke-opacity="0.7"/><ellipse cx="1200.1" cy="2285.6" rx="9.6" ry="5.2" fill="url(#nhl)"/>
<circle cx="998.4" cy="2325.3" r="16.0" fill="url(#nb)" stroke="#1d1d94" stroke-width="0.8" stroke-opacity="0.7"/><ellipse cx="998.4" cy="2316.3" rx="9.6" ry="5.2" fill="url(#nhl)"/>
<circle cx="919.6" cy="2340.7" r="16.0" fill="url(#nb)" stroke="#1d1d94" stroke-width="0.8" stroke-opacity="0.7"/><ellipse cx="919.6" cy="2331.7" rx="9.6" ry="5.2" fill="url(#nhl)"/>
<circle cx="1097.8" cy="2338.5" r="16.0" fill="url(#nb)" stroke="#1d1d94" stroke-width="0.8" stroke-opacity="0.7"/><ellipse cx="1097.8" cy="2329.5" rx="9.6" ry="5.2" fill="url(#nhl)"/>
<circle cx="839.9" cy="2347.0" r="16.0" fill="url(#nr)" stroke="#8f2227" stroke-width="0.8" stroke-opacity="0.7"/><ellipse cx="839.9" cy="2338.0" rx="9.6" ry="5.2" fill="url(#nhl)"/>
<circle cx="1161.4" cy="2345.2" r="16.0" fill="url(#nw)" stroke="#848484" stroke-width="0.8" stroke-opacity="0.7"/><ellipse cx="1161.4" cy="2336.2" rx="9.6" ry="5.2" fill="url(#nhl)"/>
<circle cx="1016.3" cy="2375.5" r="16.0" fill="url(#nb)" stroke="#1d1d94" stroke-width="0.8" stroke-opacity="0.7"/><ellipse cx="1016.3" cy="2366.5" rx="9.6" ry="5.2" fill="url(#nhl)"/>
<circle cx="1161.4" cy="2397.6" r="16.0" fill="url(#nw)" stroke="#848484" stroke-width="0.8" stroke-opacity="0.7"/><ellipse cx="1161.4" cy="2388.6" rx="9.6" ry="5.2" fill="url(#nhl)"/>
<circle cx="911.7" cy="2405.8" r="16.0" fill="url(#nb)" stroke="#1d1d94" stroke-width="0.8" stroke-opacity="0.7"/><ellipse cx="911.7" cy="2396.8" rx="9.6" ry="5.2" fill="url(#nhl)"/>
<circle cx="1065.2" cy="2402.9" r="16.0" fill="url(#nw)" stroke="#848484" stroke-width="0.8" stroke-opacity="0.7"/><ellipse cx="1065.2" cy="2393.9" rx="9.6" ry="5.2" fill="url(#nhl)"/>
<circle cx="971.6" cy="2438.4" r="16.0" fill="url(#nb)" stroke="#1d1d94" stroke-width="0.8" stroke-opacity="0.7"/><ellipse cx="971.6" cy="2429.4" rx="9.6" ry="5.2" fill="url(#nhl)"/>
<circle cx="1108.0" cy="2445.1" r="16.0" fill="url(#nw)" stroke="#848484" stroke-width="0.8" stroke-opacity="0.7"/><ellipse cx="1108.0" cy="2436.1" rx="9.6" ry="5.2" fill="url(#nhl)"/>
<circle cx="1026.7" cy="2460.2" r="16.0" fill="url(#nw)" stroke="#848484" stroke-width="0.8" stroke-opacity="0.7"/><ellipse cx="1026.7" cy="2451.2" rx="9.6" ry="5.2" fill="url(#nhl)"/>
<circle cx="1314.5" cy="2287.1" r="16.0" fill="url(#nw)" stroke="#848484" stroke-width="0.8" stroke-opacity="0.7"/><ellipse cx="1314.5" cy="2278.1" rx="9.6" ry="5.2" fill="url(#nhl)"/>
<circle cx="1421.4" cy="2264.8" r="16.0" fill="url(#nb)" stroke="#1d1d94" stroke-width="0.8" stroke-opacity="0.7"/><ellipse cx="1421.4" cy="2255.8" rx="9.6" ry="5.2" fill="url(#nhl)"/>
<circle cx="1414.0" cy="2320.7" r="16.0" fill="url(#nb)" stroke="#1d1d94" stroke-width="0.8" stroke-opacity="0.7"/><ellipse cx="1414.0" cy="2311.7" rx="9.6" ry="5.2" fill="url(#nhl)"/>
<circle cx="1280.9" cy="2335.6" r="16.0" fill="url(#nb)" stroke="#1d1d94" stroke-width="0.8" stroke-opacity="0.7"/><ellipse cx="1280.9" cy="2326.6" rx="9.6" ry="5.2" fill="url(#nhl)"/>
<circle cx="1349.2" cy="2356.5" r="16.0" fill="url(#nb)" stroke="#1d1d94" stroke-width="0.8" stroke-opacity="0.7"/><ellipse cx="1349.2" cy="2347.5" rx="9.6" ry="5.2" fill="url(#nhl)"/>
<circle cx="1413.7" cy="2381.3" r="16.0" fill="url(#nb)" stroke="#1d1d94" stroke-width="0.8" stroke-opacity="0.7"/><ellipse cx="1413.7" cy="2372.3" rx="9.6" ry="5.2" fill="url(#nhl)"/>
<circle cx="1342.1" cy="2412.4" r="16.0" fill="url(#nb)" stroke="#1d1d94" stroke-width="0.8" stroke-opacity="0.7"/><ellipse cx="1342.1" cy="2403.4" rx="9.6" ry="5.2" fill="url(#nhl)"/>
<g font-size="12.7">
<text x="1141.0" y="1752.9">RpS25</text>
<text x="1234.6" y="1753.4">RpL37a</text>
<text x="1058.5" y="1787.6">RpS26</text>
<text x="1183.7" y="1797.1">RpL34a</text>
<text x="1287.8" y="1793.9">RpL24</text>
<text x="1077.6" y="1854.2">RpL39</text>
<text x="1136.0" y="1840.6">RpL35</text>
<text x="1194.9" y="1857.2">RpL6</text>
<text x="1258.7" y="1852.0">RpL7-like</text>
<text x="1052.0" y="1906.9">RpL13A</text>
<text x="1104.4" y="1906.9">RpL4</text>
<text x="1154.4" y="1951.9">RpS11</text>
<text x="938.0" y="1871.9">CG30122</text>
<text x="932.3" y="1922.8">Saf-B</text>
<text x="964.7" y="1961.6">B52</text>
<text x="927.9" y="2006.8">Srp54</text>
<text x="1351.8" y="1889.1">scny</text>
<text x="1411.3" y="1935.0">Parp</text>
<text x="1492.8" y="1907.4">Rev1</text>
<text x="1497.0" y="1960.3">Gnf1</text>
<text x="1316.1" y="1944.7">Non1</text>
<text x="1245.0" y="1989.8">Ns2</text>
<text x="1297.6" y="2012.8">CG6937</text>
<text x="1344.3" y="2012.6">CG1542</text>
<text x="1424.2" y="2017.1">Rrp1</text>
<text x="1500.0" y="2030.9">mus210</text>
<text x="1179.7" y="2069.1">CG8545</text>
<text x="1241.8" y="2065.9">CG1785</text>
<text x="1330.5" y="2073.1">pit</text>
<text x="1394.6" y="2082.8">Nop56</text>
<text x="1509.0" y="2092.0">Pih1D1</text>
<text x="1282.8" y="2102.2">Mat89Ba</text>
<text x="1110.9" y="2106.4">CG1142</text>
<text x="1185.4" y="2131.2">l(1)G0020</text>
<text x="1371.8" y="2126.8">Rs1</text>
<text x="1427.4" y="2126.9">CG8611</text>
<text x="1513.2" y="2154.1">CG14210</text>
<text x="1202.3" y="2160.3">U3-55K</text>
<text x="1298.7" y="2169.8">CG1789</text>
<text x="1429.9" y="2166.0">CG2691</text>
<text x="1380.5" y="2177.0">CG5800</text>
<text x="1135.2" y="2197.8">CG8461</text>
<text x="1227.9" y="2206.5">CG9143</text>
<text x="1274.1" y="2215.0">CG32344</text>
<text x="1362.6" y="2218.2">Dbp73D</text>
<text x="1431.5" y="2237.0">CG5815</text>
<text x="1319.9" y="2253.0">CG7137</text>
<text x="1237.6" y="2279.9">CG11417</text>
<text x="955.9" y="2124.7">Su(z)2</text>
<text x="1031.9" y="2122.9">phol</text>
<text x="1022.9" y="2251.0">Hcf</text>
<text x="923.6" y="2280.1">CG7971</text>
<text x="1052.0" y="2288.8">dom</text>
<text x="1120.6" y="2280.6">brm</text>
<text x="979.5" y="2300.4">CG8677</text>
<text x="857.2" y="2326.3">CG12343</text>
<text x="1186.9" y="2325.6">Caf1-180</text>
<text x="985.2" y="2356.3">E(bx)</text>
<text x="906.4" y="2371.7">CG12864</text>
<text x="1084.6" y="2369.5">e(y)3</text>
<text x="826.7" y="2378.0">CG9213</text>
<text x="1148.2" y="2376.2">TfIIFalpha</text>
<text x="1003.1" y="2406.5">Cp190</text>
<text x="1148.2" y="2428.6">TfIIS</text>
<text x="898.5" y="2436.8">pzg</text>
<text x="1052.0" y="2433.9">Dek</text>
<text x="958.4" y="2469.4">BEAF-32</text>
<text x="1094.8" y="2476.1">Ssrp</text>
<text x="1013.5" y="2491.2">Sry-delta</text>
<text x="1301.3" y="2318.1">CG14230</text>
<text x="1408.2" y="2295.8">neb</text>
<text x="1400.8" y="2351.7">feo</text>
<text x="1267.7" y="2366.6">Mink</text>
<text x="1336.0" y="2387.5">Klp67A</text>
<text x="1400.5" y="2412.3">ncd</text>
<text x="1328.9" y="2443.4">ball</text>
</g>
<circle cx="1501.2" cy="2340.3" r="16.0" fill="url(#nr)" stroke="#8f2227" stroke-width="0.8" stroke-opacity="0.7"/><ellipse cx="1501.2" cy="2331.3" rx="9.6" ry="5.2" fill="url(#nhl)"/>
<text x="1524.3" y="2349.1" font-size="19.3">RNA processing</text>
<circle cx="1501.2" cy="2386.4" r="16.0" fill="url(#nb)" stroke="#1d1d94" stroke-width="0.8" stroke-opacity="0.7"/><ellipse cx="1501.2" cy="2377.4" rx="9.6" ry="5.2" fill="url(#nhl)"/>
<text x="1524.3" y="2395.2" font-size="19.3">Chromosome organization</text>
<circle cx="1501.2" cy="2432.5" r="16.0" fill="url(#ng)" stroke="#2f7d34" stroke-width="0.8" stroke-opacity="0.7"/><ellipse cx="1501.2" cy="2423.5" rx="9.6" ry="5.2" fill="url(#nhl)"/>
<text x="1524.3" y="2441.3" font-size="19.3">Ribosome</text>
<circle cx="1501.2" cy="2478.6" r="16.0" fill="url(#nw)" stroke="#848484" stroke-width="0.8" stroke-opacity="0.7"/><ellipse cx="1501.2" cy="2469.6" rx="9.6" ry="5.2" fill="url(#nhl)"/>
<text x="1524.3" y="2487.4" font-size="19.3">Other</text>
</svg>
</body></html>
